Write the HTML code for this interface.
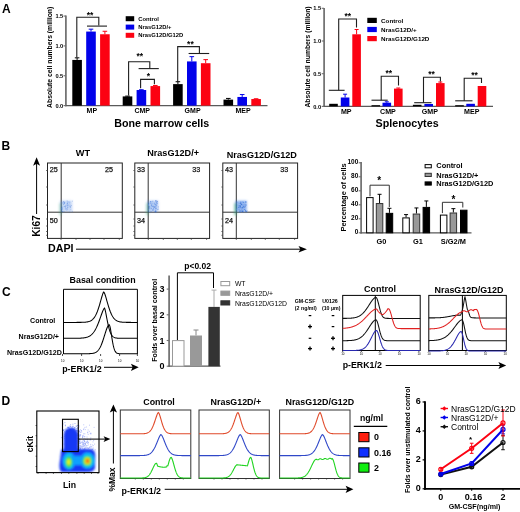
<!DOCTYPE html>
<html><head><meta charset="utf-8"><style>
html,body{margin:0;padding:0;background:#fff;}
svg{display:block;will-change:transform;filter:blur(0.35px);}
text{font-family:"Liberation Sans", sans-serif;}
</style></head><body>
<svg width="520" height="512" viewBox="0 0 520 512">
<rect width="520" height="512" fill="#fff"/>
<text x="2.0" y="12.6" font-size="12" font-weight="bold" text-anchor="start" fill="#000">A</text>
<text x="1.5" y="149.6" font-size="12" font-weight="bold" text-anchor="start" fill="#000">B</text>
<text x="2.0" y="295.7" font-size="12" font-weight="bold" text-anchor="start" fill="#000">C</text>
<text x="1.5" y="404.6" font-size="12" font-weight="bold" text-anchor="start" fill="#000">D</text>
<line x1="65.9" y1="15.5" x2="65.9" y2="106.19999999999999" stroke="#6e6e6e" stroke-width="1.7"/>
<line x1="65.10000000000001" y1="105.6" x2="267.5" y2="105.6" stroke="#5a5a5a" stroke-width="1.3"/>
<line x1="63.50000000000001" y1="105.6" x2="65.9" y2="105.6" stroke="#6e6e6e" stroke-width="1.1"/>
<text x="63.300000000000004" y="107.69999999999999" font-size="5.7" font-weight="bold" text-anchor="end" fill="#000">0.0</text>
<line x1="63.50000000000001" y1="75.75" x2="65.9" y2="75.75" stroke="#6e6e6e" stroke-width="1.1"/>
<text x="63.300000000000004" y="77.85" font-size="5.7" font-weight="bold" text-anchor="end" fill="#000">0.5</text>
<line x1="63.50000000000001" y1="45.89999999999999" x2="65.9" y2="45.89999999999999" stroke="#6e6e6e" stroke-width="1.1"/>
<text x="63.300000000000004" y="47.99999999999999" font-size="5.7" font-weight="bold" text-anchor="end" fill="#000">1.0</text>
<line x1="63.50000000000001" y1="16.049999999999983" x2="65.9" y2="16.049999999999983" stroke="#6e6e6e" stroke-width="1.1"/>
<text x="63.300000000000004" y="18.149999999999984" font-size="5.7" font-weight="bold" text-anchor="end" fill="#000">1.5</text>
<text x="52.2" y="57.3" font-size="6.8" font-weight="bold" text-anchor="middle" fill="#000" transform="rotate(-90 52.2 57.3)">Absolute cell numbers (million)</text>
<line x1="77.1" y1="57.83999999999999" x2="77.1" y2="59.92949999999999" stroke="#000" stroke-width="1"/>
<line x1="74.8" y1="57.83999999999999" x2="79.39999999999999" y2="57.83999999999999" stroke="#000" stroke-width="1"/>
<rect x="72.3" y="59.92949999999999" width="9.6" height="45.670500000000004" fill="#000" stroke="none" stroke-width="1"/>
<line x1="91.0" y1="29.183999999999987" x2="91.0" y2="31.57199999999999" stroke="#0202ea" stroke-width="1"/>
<line x1="88.7" y1="29.183999999999987" x2="93.3" y2="29.183999999999987" stroke="#0202ea" stroke-width="1"/>
<rect x="86.2" y="31.57199999999999" width="9.6" height="74.028" fill="#0202ea" stroke="none" stroke-width="1"/>
<line x1="104.89999999999999" y1="31.273499999999984" x2="104.89999999999999" y2="34.258499999999984" stroke="#fc0212" stroke-width="1"/>
<line x1="102.6" y1="31.273499999999984" x2="107.19999999999999" y2="31.273499999999984" stroke="#fc0212" stroke-width="1"/>
<rect x="100.1" y="34.258499999999984" width="9.6" height="71.34150000000001" fill="#fc0212" stroke="none" stroke-width="1"/>
<text x="91.8" y="113.2" font-size="7" font-weight="bold" text-anchor="middle" fill="#000">MP</text>
<line x1="127.49999999999999" y1="96.1077" x2="127.49999999999999" y2="96.4062" stroke="#000" stroke-width="1"/>
<line x1="125.19999999999999" y1="96.1077" x2="129.79999999999998" y2="96.1077" stroke="#000" stroke-width="1"/>
<rect x="122.69999999999999" y="96.4062" width="9.6" height="9.193799999999996" fill="#000" stroke="none" stroke-width="1"/>
<line x1="141.4" y1="89.71979999999999" x2="141.4" y2="90.0183" stroke="#0202ea" stroke-width="1"/>
<line x1="139.1" y1="89.71979999999999" x2="143.70000000000002" y2="89.71979999999999" stroke="#0202ea" stroke-width="1"/>
<rect x="136.6" y="90.0183" width="9.6" height="15.581699999999998" fill="#0202ea" stroke="none" stroke-width="1"/>
<line x1="155.3" y1="85.4811" x2="155.3" y2="86.07809999999999" stroke="#fc0212" stroke-width="1"/>
<line x1="153.0" y1="85.4811" x2="157.60000000000002" y2="85.4811" stroke="#fc0212" stroke-width="1"/>
<rect x="150.5" y="86.07809999999999" width="9.6" height="19.521900000000002" fill="#fc0212" stroke="none" stroke-width="1"/>
<text x="142.20000000000002" y="113.2" font-size="7" font-weight="bold" text-anchor="middle" fill="#000">CMP</text>
<line x1="177.9" y1="81.71999999999998" x2="177.9" y2="84.10799999999999" stroke="#000" stroke-width="1"/>
<line x1="175.6" y1="81.71999999999998" x2="180.20000000000002" y2="81.71999999999998" stroke="#000" stroke-width="1"/>
<rect x="173.1" y="84.10799999999999" width="9.6" height="21.492000000000004" fill="#000" stroke="none" stroke-width="1"/>
<line x1="191.8" y1="56.64599999999999" x2="191.8" y2="61.42199999999999" stroke="#0202ea" stroke-width="1"/>
<line x1="189.5" y1="56.64599999999999" x2="194.10000000000002" y2="56.64599999999999" stroke="#0202ea" stroke-width="1"/>
<rect x="187.0" y="61.42199999999999" width="9.6" height="44.178000000000004" fill="#0202ea" stroke="none" stroke-width="1"/>
<line x1="205.70000000000002" y1="59.63099999999999" x2="205.70000000000002" y2="63.212999999999994" stroke="#fc0212" stroke-width="1"/>
<line x1="203.4" y1="59.63099999999999" x2="208.00000000000003" y2="59.63099999999999" stroke="#fc0212" stroke-width="1"/>
<rect x="200.9" y="63.212999999999994" width="9.6" height="42.387" fill="#fc0212" stroke="none" stroke-width="1"/>
<text x="192.60000000000002" y="113.2" font-size="7" font-weight="bold" text-anchor="middle" fill="#000">GMP</text>
<line x1="228.3" y1="98.43599999999999" x2="228.3" y2="99.63" stroke="#000" stroke-width="1"/>
<line x1="226.0" y1="98.43599999999999" x2="230.60000000000002" y2="98.43599999999999" stroke="#000" stroke-width="1"/>
<rect x="223.5" y="99.63" width="9.6" height="5.969999999999999" fill="#000" stroke="none" stroke-width="1"/>
<line x1="242.20000000000002" y1="94.5555" x2="242.20000000000002" y2="96.9435" stroke="#0202ea" stroke-width="1"/>
<line x1="239.9" y1="94.5555" x2="244.50000000000003" y2="94.5555" stroke="#0202ea" stroke-width="1"/>
<rect x="237.4" y="96.9435" width="9.6" height="8.656499999999994" fill="#0202ea" stroke="none" stroke-width="1"/>
<line x1="256.1" y1="98.73449999999998" x2="256.1" y2="99.03299999999999" stroke="#fc0212" stroke-width="1"/>
<line x1="253.8" y1="98.73449999999998" x2="258.40000000000003" y2="98.73449999999998" stroke="#fc0212" stroke-width="1"/>
<rect x="251.3" y="99.03299999999999" width="9.6" height="6.567000000000007" fill="#fc0212" stroke="none" stroke-width="1"/>
<text x="243.00000000000003" y="113.2" font-size="7" font-weight="bold" text-anchor="middle" fill="#000">MEP</text>
<path d="M76.8,57.5 L76.8,17.3 L98.8,17.3 L98.8,25.5" stroke="#1e1e1e" stroke-width="1.1" fill="none"/>
<line x1="87" y1="26.1" x2="107" y2="26.1" stroke="#1e1e1e" stroke-width="1.1"/>
<text x="90.1" y="18.0" font-size="8.5" font-weight="bold" text-anchor="middle" fill="#000">**</text>
<path d="M128.6,95.5 L128.6,61.7 L149.8,61.7 L149.8,68.4" stroke="#1e1e1e" stroke-width="1.1" fill="none"/>
<line x1="138.6" y1="68.6" x2="158.8" y2="68.6" stroke="#1e1e1e" stroke-width="1.1"/>
<text x="139.8" y="58.8" font-size="8.5" font-weight="bold" text-anchor="middle" fill="#000">**</text>
<path d="M140.6,88.2 L140.6,79.4 L154.4,79.4 L154.4,84.2" stroke="#1e1e1e" stroke-width="1.1" fill="none"/>
<text x="148.3" y="79.4" font-size="8.5" font-weight="bold" text-anchor="middle" fill="#000">*</text>
<path d="M177.7,82 L177.7,46.6 L199.4,46.6 L199.4,53.2" stroke="#1e1e1e" stroke-width="1.1" fill="none"/>
<line x1="188.6" y1="53.5" x2="209.2" y2="53.5" stroke="#1e1e1e" stroke-width="1.1"/>
<text x="190.4" y="47.0" font-size="8.5" font-weight="bold" text-anchor="middle" fill="#000">**</text>
<rect x="125.7" y="16.2" width="8.5" height="5" fill="#000" stroke="none" stroke-width="1"/>
<text x="138.2" y="20.5" font-size="5.85" font-weight="bold" text-anchor="start" fill="#000">Control</text>
<rect x="125.7" y="24.6" width="8.5" height="5" fill="#0202ea" stroke="none" stroke-width="1"/>
<text x="138.2" y="28.900000000000002" font-size="5.85" font-weight="bold" text-anchor="start" fill="#000">NrasG12D/+</text>
<rect x="125.7" y="32.8" width="8.5" height="5" fill="#fc0212" stroke="none" stroke-width="1"/>
<text x="138.2" y="37.099999999999994" font-size="5.85" font-weight="bold" text-anchor="start" fill="#000">NrasG12D/G12D</text>
<text x="161.7" y="126.5" font-size="10.7" font-weight="bold" text-anchor="middle" fill="#000">Bone marrow cells</text>
<line x1="324.1" y1="8" x2="324.1" y2="107.0" stroke="#6e6e6e" stroke-width="1.7"/>
<line x1="323.3" y1="106.4" x2="493" y2="106.4" stroke="#5a5a5a" stroke-width="1.3"/>
<line x1="321.70000000000005" y1="106.4" x2="324.1" y2="106.4" stroke="#6e6e6e" stroke-width="1.1"/>
<text x="321.1" y="108.5" font-size="5.7" font-weight="bold" text-anchor="end" fill="#000">0.0</text>
<line x1="321.70000000000005" y1="73.7" x2="324.1" y2="73.7" stroke="#6e6e6e" stroke-width="1.1"/>
<text x="321.1" y="75.8" font-size="5.7" font-weight="bold" text-anchor="end" fill="#000">0.5</text>
<line x1="321.70000000000005" y1="41.0" x2="324.1" y2="41.0" stroke="#6e6e6e" stroke-width="1.1"/>
<text x="321.1" y="43.1" font-size="5.7" font-weight="bold" text-anchor="end" fill="#000">1.0</text>
<line x1="321.70000000000005" y1="8.299999999999997" x2="324.1" y2="8.299999999999997" stroke="#6e6e6e" stroke-width="1.1"/>
<text x="321.1" y="10.399999999999997" font-size="5.7" font-weight="bold" text-anchor="end" fill="#000">1.5</text>
<text x="309.6" y="57" font-size="6.8" font-weight="bold" text-anchor="middle" fill="#000" transform="rotate(-90 309.6 57)">Absolute cell numbers (million)</text>
<rect x="329.2" y="103.8" width="8.6" height="2.6000000000000085" fill="#000" stroke="none" stroke-width="1"/>
<line x1="345.1" y1="94.2" x2="345.1" y2="97.5" stroke="#0202ea" stroke-width="1"/>
<line x1="343.1" y1="94.2" x2="347.1" y2="94.2" stroke="#0202ea" stroke-width="1"/>
<rect x="340.8" y="97.5" width="8.6" height="8.900000000000006" fill="#0202ea" stroke="none" stroke-width="1"/>
<line x1="356.6" y1="29.5" x2="356.6" y2="34.3" stroke="#fc0212" stroke-width="1"/>
<line x1="354.6" y1="29.5" x2="358.6" y2="29.5" stroke="#fc0212" stroke-width="1"/>
<rect x="352.3" y="34.3" width="8.6" height="72.10000000000001" fill="#fc0212" stroke="none" stroke-width="1"/>
<text x="346.20000000000005" y="114.4" font-size="7.1" font-weight="bold" text-anchor="middle" fill="#000">MP</text>
<rect x="371.5" y="105.2" width="8.6" height="1.2000000000000028" fill="#000" stroke="none" stroke-width="1"/>
<line x1="386.8" y1="101.8" x2="386.8" y2="102.7" stroke="#0202ea" stroke-width="1"/>
<line x1="384.8" y1="101.8" x2="388.8" y2="101.8" stroke="#0202ea" stroke-width="1"/>
<rect x="382.5" y="102.7" width="8.6" height="3.700000000000003" fill="#0202ea" stroke="none" stroke-width="1"/>
<line x1="398.3" y1="88" x2="398.3" y2="88.6" stroke="#fc0212" stroke-width="1"/>
<line x1="396.3" y1="88" x2="400.3" y2="88" stroke="#fc0212" stroke-width="1"/>
<rect x="394" y="88.6" width="8.6" height="17.80000000000001" fill="#fc0212" stroke="none" stroke-width="1"/>
<text x="387.90000000000003" y="114.4" font-size="7.1" font-weight="bold" text-anchor="middle" fill="#000">CMP</text>
<rect x="412.9" y="104.8" width="8.6" height="1.6000000000000085" fill="#000" stroke="none" stroke-width="1"/>
<rect x="424.4" y="104.0" width="8.6" height="2.4000000000000057" fill="#0202ea" stroke="none" stroke-width="1"/>
<line x1="440.3" y1="82" x2="440.3" y2="83.1" stroke="#fc0212" stroke-width="1"/>
<line x1="438.3" y1="82" x2="442.3" y2="82" stroke="#fc0212" stroke-width="1"/>
<rect x="436" y="83.1" width="8.6" height="23.30000000000001" fill="#fc0212" stroke="none" stroke-width="1"/>
<text x="429.8" y="114.4" font-size="7.1" font-weight="bold" text-anchor="middle" fill="#000">GMP</text>
<rect x="455.2" y="105.2" width="8.6" height="1.2000000000000028" fill="#000" stroke="none" stroke-width="1"/>
<rect x="466.3" y="103.8" width="8.6" height="2.6000000000000085" fill="#0202ea" stroke="none" stroke-width="1"/>
<rect x="477.7" y="86" width="8.6" height="20.400000000000006" fill="#fc0212" stroke="none" stroke-width="1"/>
<text x="471.70000000000005" y="114.4" font-size="7.1" font-weight="bold" text-anchor="middle" fill="#000">MEP</text>
<path d="M338.7,90.3 L338.7,19 L356.5,19 L356.5,27.4" stroke="#1e1e1e" stroke-width="1.1" fill="none"/>
<line x1="328.8" y1="90.3" x2="344.6" y2="90.3" stroke="#1e1e1e" stroke-width="1.1"/>
<text x="347.7" y="18.6" font-size="8.5" font-weight="bold" text-anchor="middle" fill="#000">**</text>
<path d="M381.2,100.2 L381.2,76.3 L398.5,76.3 L398.5,85.5" stroke="#1e1e1e" stroke-width="1.1" fill="none"/>
<line x1="371.5" y1="100.2" x2="387.7" y2="100.2" stroke="#1e1e1e" stroke-width="1.1"/>
<text x="388.7" y="75.9" font-size="8.5" font-weight="bold" text-anchor="middle" fill="#000">**</text>
<path d="M423.5,102.7 L423.5,77.2 L440.4,77.2 L440.4,81.5" stroke="#1e1e1e" stroke-width="1.1" fill="none"/>
<line x1="414.2" y1="102.7" x2="431.5" y2="102.7" stroke="#1e1e1e" stroke-width="1.1"/>
<text x="431.6" y="76.5" font-size="8.5" font-weight="bold" text-anchor="middle" fill="#000">**</text>
<path d="M464.2,100.8 L464.2,78.3 L481.5,78.3 L481.5,83" stroke="#1e1e1e" stroke-width="1.1" fill="none"/>
<line x1="455.2" y1="100.8" x2="472.5" y2="100.8" stroke="#1e1e1e" stroke-width="1.1"/>
<text x="474.6" y="78.4" font-size="8.5" font-weight="bold" text-anchor="middle" fill="#000">**</text>
<rect x="367.3" y="17.8" width="9.5" height="5.2" fill="#000" stroke="none" stroke-width="1"/>
<text x="381.1" y="22.9" font-size="6.25" font-weight="bold" text-anchor="start" fill="#000">Control</text>
<rect x="367.3" y="26.9" width="9.5" height="5.2" fill="#0202ea" stroke="none" stroke-width="1"/>
<text x="381.1" y="32.0" font-size="6.25" font-weight="bold" text-anchor="start" fill="#000">NrasG12D/+</text>
<rect x="367.3" y="36" width="9.5" height="5.2" fill="#fc0212" stroke="none" stroke-width="1"/>
<text x="381.1" y="41.1" font-size="6.25" font-weight="bold" text-anchor="start" fill="#000">NrasG12D/G12D</text>
<text x="407.1" y="126.5" font-size="10.7" font-weight="bold" text-anchor="middle" fill="#000">Splenocytes</text>
<defs><filter id="blB" x="-50%" y="-50%" width="200%" height="200%"><feGaussianBlur stdDeviation="1"/></filter></defs>
<rect x="47.5" y="163" width="74.8" height="75.4" fill="none" stroke="#222" stroke-width="1"/>
<line x1="61.2" y1="163" x2="61.2" y2="238.4" stroke="#333" stroke-width="1"/>
<line x1="47.5" y1="212.2" x2="122.3" y2="212.2" stroke="#333" stroke-width="1"/>
<text x="83.0" y="155.6" font-size="9.2" font-weight="bold" text-anchor="middle" fill="#000">WT</text>
<text x="49.8" y="171.9" font-size="7.2" text-anchor="start" fill="#111" stroke="#111" stroke-width="0.25">25</text>
<text x="113.0" y="171.9" font-size="7.2" text-anchor="end" fill="#111" stroke="#111" stroke-width="0.25">25</text>
<text x="49.8" y="223.3" font-size="7.2" text-anchor="start" fill="#111" stroke="#111" stroke-width="0.25">50</text>
<line x1="46.1" y1="170.5" x2="47.5" y2="170.5" stroke="#444" stroke-width="0.8"/>
<line x1="46.1" y1="187" x2="47.5" y2="187" stroke="#444" stroke-width="0.8"/>
<line x1="46.1" y1="205" x2="47.5" y2="205" stroke="#444" stroke-width="0.8"/>
<line x1="46.1" y1="219" x2="47.5" y2="219" stroke="#444" stroke-width="0.8"/>
<line x1="46.1" y1="226" x2="47.5" y2="226" stroke="#444" stroke-width="0.8"/>
<line x1="46.1" y1="231.5" x2="47.5" y2="231.5" stroke="#444" stroke-width="0.8"/>
<line x1="46.1" y1="235.3" x2="47.5" y2="235.3" stroke="#444" stroke-width="0.8"/>
<line x1="61.0" y1="238.4" x2="61.0" y2="239.9" stroke="#444" stroke-width="0.8"/>
<line x1="76.0" y1="238.4" x2="76.0" y2="239.9" stroke="#444" stroke-width="0.8"/>
<line x1="90.0" y1="238.4" x2="90.0" y2="239.9" stroke="#444" stroke-width="0.8"/>
<line x1="104.0" y1="238.4" x2="104.0" y2="239.9" stroke="#444" stroke-width="0.8"/>
<line x1="119.3" y1="238.4" x2="119.3" y2="239.9" stroke="#444" stroke-width="0.8"/>
<g filter="url(#blB)"><rect x="60.2" y="200.7" width="12" height="11" fill="#4a84e4" opacity="0.315"/><rect x="59.0" y="203.2" width="2.6" height="12" fill="#30a070" opacity="0.27"/></g>
<rect x="64.9" y="206.8" width="0.9" height="0.9" fill="#2a64d0" stroke="none" stroke-width="1" opacity="0.36"/>
<rect x="64.8" y="205.8" width="0.9" height="0.9" fill="#2a64d0" stroke="none" stroke-width="1" opacity="0.36"/>
<rect x="61.4" y="206.9" width="0.9" height="0.9" fill="#2a64d0" stroke="none" stroke-width="1" opacity="0.36"/>
<rect x="62.1" y="208.7" width="0.9" height="0.9" fill="#6a9cf0" stroke="none" stroke-width="1" opacity="0.36"/>
<rect x="66.3" y="205.4" width="0.9" height="0.9" fill="#6a9cf0" stroke="none" stroke-width="1" opacity="0.36"/>
<rect x="70.9" y="205.2" width="0.9" height="0.9" fill="#2a64d0" stroke="none" stroke-width="1" opacity="0.36"/>
<rect x="66.8" y="207.6" width="0.9" height="0.9" fill="#6a9cf0" stroke="none" stroke-width="1" opacity="0.36"/>
<rect x="61.4" y="207.4" width="0.9" height="0.9" fill="#2a64d0" stroke="none" stroke-width="1" opacity="0.36"/>
<rect x="67.6" y="205.3" width="0.9" height="0.9" fill="#6a9cf0" stroke="none" stroke-width="1" opacity="0.36"/>
<rect x="63.6" y="202.0" width="0.9" height="0.9" fill="#6a9cf0" stroke="none" stroke-width="1" opacity="0.36"/>
<rect x="61.4" y="207.9" width="0.9" height="0.9" fill="#2a64d0" stroke="none" stroke-width="1" opacity="0.36"/>
<rect x="65.2" y="205.5" width="0.9" height="0.9" fill="#2a64d0" stroke="none" stroke-width="1" opacity="0.36"/>
<rect x="68.1" y="201.6" width="0.9" height="0.9" fill="#6a9cf0" stroke="none" stroke-width="1" opacity="0.36"/>
<rect x="70.3" y="209.2" width="0.9" height="0.9" fill="#6a9cf0" stroke="none" stroke-width="1" opacity="0.36"/>
<rect x="69.5" y="204.7" width="0.9" height="0.9" fill="#2a64d0" stroke="none" stroke-width="1" opacity="0.36"/>
<rect x="64.1" y="202.8" width="0.9" height="0.9" fill="#2a64d0" stroke="none" stroke-width="1" opacity="0.36"/>
<rect x="67.1" y="208.7" width="0.9" height="0.9" fill="#2a64d0" stroke="none" stroke-width="1" opacity="0.36"/>
<rect x="61.4" y="208.1" width="0.9" height="0.9" fill="#6a9cf0" stroke="none" stroke-width="1" opacity="0.36"/>
<rect x="63.9" y="203.3" width="0.9" height="0.9" fill="#6a9cf0" stroke="none" stroke-width="1" opacity="0.36"/>
<rect x="67.7" y="204.5" width="0.9" height="0.9" fill="#2a64d0" stroke="none" stroke-width="1" opacity="0.36"/>
<rect x="66.3" y="200.6" width="0.9" height="0.9" fill="#6a9cf0" stroke="none" stroke-width="1" opacity="0.36"/>
<rect x="67.1" y="206.6" width="0.9" height="0.9" fill="#6a9cf0" stroke="none" stroke-width="1" opacity="0.36"/>
<rect x="67.0" y="202.5" width="0.9" height="0.9" fill="#2a64d0" stroke="none" stroke-width="1" opacity="0.36"/>
<rect x="63.9" y="202.4" width="0.9" height="0.9" fill="#2a64d0" stroke="none" stroke-width="1" opacity="0.36"/>
<rect x="69.6" y="206.7" width="0.9" height="0.9" fill="#6a9cf0" stroke="none" stroke-width="1" opacity="0.36"/>
<rect x="61.4" y="208.7" width="0.9" height="0.9" fill="#2a64d0" stroke="none" stroke-width="1" opacity="0.36"/>
<rect x="66.7" y="203.9" width="0.9" height="0.9" fill="#2a64d0" stroke="none" stroke-width="1" opacity="0.36"/>
<rect x="68.8" y="202.5" width="0.9" height="0.9" fill="#2a64d0" stroke="none" stroke-width="1" opacity="0.36"/>
<rect x="61.2" y="208.9" width="0.9" height="0.9" fill="#2a64d0" stroke="none" stroke-width="1" opacity="0.36"/>
<rect x="71.9" y="200.7" width="0.9" height="0.9" fill="#2a64d0" stroke="none" stroke-width="1" opacity="0.36"/>
<rect x="62.9" y="201.1" width="0.9" height="0.9" fill="#2a64d0" stroke="none" stroke-width="1" opacity="0.36"/>
<rect x="62.5" y="202.7" width="0.9" height="0.9" fill="#2a64d0" stroke="none" stroke-width="1" opacity="0.36"/>
<rect x="65.3" y="208.6" width="0.9" height="0.9" fill="#2a64d0" stroke="none" stroke-width="1" opacity="0.36"/>
<rect x="62.3" y="210.9" width="0.9" height="0.9" fill="#2a64d0" stroke="none" stroke-width="1" opacity="0.36"/>
<rect x="61.5" y="209.6" width="0.9" height="0.9" fill="#2a64d0" stroke="none" stroke-width="1" opacity="0.36"/>
<rect x="66.4" y="202.7" width="0.9" height="0.9" fill="#6a9cf0" stroke="none" stroke-width="1" opacity="0.36"/>
<rect x="66.8" y="205.2" width="0.9" height="0.9" fill="#2a64d0" stroke="none" stroke-width="1" opacity="0.36"/>
<rect x="61.8" y="202.1" width="0.9" height="0.9" fill="#6a9cf0" stroke="none" stroke-width="1" opacity="0.36"/>
<rect x="64.7" y="201.7" width="0.9" height="0.9" fill="#6a9cf0" stroke="none" stroke-width="1" opacity="0.36"/>
<rect x="63.6" y="211.0" width="0.9" height="0.9" fill="#2a64d0" stroke="none" stroke-width="1" opacity="0.36"/>
<rect x="62.0" y="211.1" width="0.9" height="0.9" fill="#2a64d0" stroke="none" stroke-width="1" opacity="0.36"/>
<rect x="63.6" y="201.4" width="0.9" height="0.9" fill="#2a64d0" stroke="none" stroke-width="1" opacity="0.36"/>
<rect x="67.0" y="202.9" width="0.9" height="0.9" fill="#2a64d0" stroke="none" stroke-width="1" opacity="0.36"/>
<rect x="71.9" y="210.8" width="0.9" height="0.9" fill="#2a64d0" stroke="none" stroke-width="1" opacity="0.36"/>
<rect x="67.1" y="200.7" width="0.9" height="0.9" fill="#2a64d0" stroke="none" stroke-width="1" opacity="0.36"/>
<rect x="64.9" y="208.2" width="0.9" height="0.9" fill="#6a9cf0" stroke="none" stroke-width="1" opacity="0.36"/>
<rect x="66.4" y="210.1" width="0.9" height="0.9" fill="#6a9cf0" stroke="none" stroke-width="1" opacity="0.36"/>
<rect x="62.3" y="206.4" width="0.9" height="0.9" fill="#6a9cf0" stroke="none" stroke-width="1" opacity="0.36"/>
<rect x="70.1" y="206.7" width="0.9" height="0.9" fill="#2a64d0" stroke="none" stroke-width="1" opacity="0.36"/>
<rect x="69.4" y="210.9" width="0.9" height="0.9" fill="#6a9cf0" stroke="none" stroke-width="1" opacity="0.36"/>
<rect x="69.6" y="206.1" width="0.9" height="0.9" fill="#2a64d0" stroke="none" stroke-width="1" opacity="0.36"/>
<rect x="63.7" y="202.5" width="0.9" height="0.9" fill="#2a64d0" stroke="none" stroke-width="1" opacity="0.36"/>
<rect x="61.2" y="210.6" width="0.9" height="0.9" fill="#2a64d0" stroke="none" stroke-width="1" opacity="0.36"/>
<rect x="66.1" y="208.5" width="0.9" height="0.9" fill="#2a64d0" stroke="none" stroke-width="1" opacity="0.36"/>
<rect x="68.6" y="201.1" width="0.9" height="0.9" fill="#6a9cf0" stroke="none" stroke-width="1" opacity="0.36"/>
<rect x="63.1" y="203.9" width="0.9" height="0.9" fill="#2a64d0" stroke="none" stroke-width="1" opacity="0.36"/>
<rect x="63.9" y="206.1" width="0.9" height="0.9" fill="#2a64d0" stroke="none" stroke-width="1" opacity="0.36"/>
<rect x="69.6" y="201.6" width="0.9" height="0.9" fill="#6a9cf0" stroke="none" stroke-width="1" opacity="0.36"/>
<rect x="67.6" y="205.5" width="0.9" height="0.9" fill="#6a9cf0" stroke="none" stroke-width="1" opacity="0.36"/>
<rect x="67.4" y="207.0" width="0.9" height="0.9" fill="#2a64d0" stroke="none" stroke-width="1" opacity="0.36"/>
<rect x="134.8" y="163" width="74.8" height="75.4" fill="none" stroke="#222" stroke-width="1"/>
<line x1="148.2" y1="163" x2="148.2" y2="238.4" stroke="#333" stroke-width="1"/>
<line x1="134.8" y1="212.2" x2="209.60000000000002" y2="212.2" stroke="#333" stroke-width="1"/>
<text x="173.1" y="155.7" font-size="9.1" font-weight="bold" text-anchor="middle" fill="#000">NrasG12D/+</text>
<text x="137.10000000000002" y="171.9" font-size="7.2" text-anchor="start" fill="#111" stroke="#111" stroke-width="0.25">33</text>
<text x="200.3" y="171.9" font-size="7.2" text-anchor="end" fill="#111" stroke="#111" stroke-width="0.25">33</text>
<text x="137.10000000000002" y="223.3" font-size="7.2" text-anchor="start" fill="#111" stroke="#111" stroke-width="0.25">34</text>
<line x1="133.4" y1="170.5" x2="134.8" y2="170.5" stroke="#444" stroke-width="0.8"/>
<line x1="133.4" y1="187" x2="134.8" y2="187" stroke="#444" stroke-width="0.8"/>
<line x1="133.4" y1="205" x2="134.8" y2="205" stroke="#444" stroke-width="0.8"/>
<line x1="133.4" y1="219" x2="134.8" y2="219" stroke="#444" stroke-width="0.8"/>
<line x1="133.4" y1="226" x2="134.8" y2="226" stroke="#444" stroke-width="0.8"/>
<line x1="133.4" y1="231.5" x2="134.8" y2="231.5" stroke="#444" stroke-width="0.8"/>
<line x1="133.4" y1="235.3" x2="134.8" y2="235.3" stroke="#444" stroke-width="0.8"/>
<line x1="148.3" y1="238.4" x2="148.3" y2="239.9" stroke="#444" stroke-width="0.8"/>
<line x1="163.3" y1="238.4" x2="163.3" y2="239.9" stroke="#444" stroke-width="0.8"/>
<line x1="177.3" y1="238.4" x2="177.3" y2="239.9" stroke="#444" stroke-width="0.8"/>
<line x1="191.3" y1="238.4" x2="191.3" y2="239.9" stroke="#444" stroke-width="0.8"/>
<line x1="206.60000000000002" y1="238.4" x2="206.60000000000002" y2="239.9" stroke="#444" stroke-width="0.8"/>
<g filter="url(#blB)"><rect x="147.2" y="200.7" width="11" height="11" fill="#4a84e4" opacity="0.42"/><rect x="146.0" y="203.2" width="2.6" height="12" fill="#30a070" opacity="0.36"/></g>
<rect x="152.8" y="209.4" width="0.9" height="0.9" fill="#6a9cf0" stroke="none" stroke-width="1" opacity="0.48"/>
<rect x="157.1" y="203.1" width="0.9" height="0.9" fill="#6a9cf0" stroke="none" stroke-width="1" opacity="0.48"/>
<rect x="148.3" y="202.9" width="0.9" height="0.9" fill="#2a64d0" stroke="none" stroke-width="1" opacity="0.48"/>
<rect x="151.9" y="206.1" width="0.9" height="0.9" fill="#2a64d0" stroke="none" stroke-width="1" opacity="0.48"/>
<rect x="153.5" y="206.5" width="0.9" height="0.9" fill="#2a64d0" stroke="none" stroke-width="1" opacity="0.48"/>
<rect x="150.9" y="205.8" width="0.9" height="0.9" fill="#6a9cf0" stroke="none" stroke-width="1" opacity="0.48"/>
<rect x="155.3" y="208.5" width="0.9" height="0.9" fill="#6a9cf0" stroke="none" stroke-width="1" opacity="0.48"/>
<rect x="155.5" y="203.8" width="0.9" height="0.9" fill="#2a64d0" stroke="none" stroke-width="1" opacity="0.48"/>
<rect x="156.7" y="201.1" width="0.9" height="0.9" fill="#2a64d0" stroke="none" stroke-width="1" opacity="0.48"/>
<rect x="155.1" y="201.1" width="0.9" height="0.9" fill="#6a9cf0" stroke="none" stroke-width="1" opacity="0.48"/>
<rect x="154.6" y="204.1" width="0.9" height="0.9" fill="#2a64d0" stroke="none" stroke-width="1" opacity="0.48"/>
<rect x="156.4" y="203.4" width="0.9" height="0.9" fill="#2a64d0" stroke="none" stroke-width="1" opacity="0.48"/>
<rect x="156.6" y="202.3" width="0.9" height="0.9" fill="#6a9cf0" stroke="none" stroke-width="1" opacity="0.48"/>
<rect x="155.3" y="205.9" width="0.9" height="0.9" fill="#2a64d0" stroke="none" stroke-width="1" opacity="0.48"/>
<rect x="148.5" y="207.2" width="0.9" height="0.9" fill="#2a64d0" stroke="none" stroke-width="1" opacity="0.48"/>
<rect x="149.4" y="210.6" width="0.9" height="0.9" fill="#6a9cf0" stroke="none" stroke-width="1" opacity="0.48"/>
<rect x="149.0" y="207.6" width="0.9" height="0.9" fill="#2a64d0" stroke="none" stroke-width="1" opacity="0.48"/>
<rect x="151.2" y="204.5" width="0.9" height="0.9" fill="#2a64d0" stroke="none" stroke-width="1" opacity="0.48"/>
<rect x="154.9" y="203.9" width="0.9" height="0.9" fill="#6a9cf0" stroke="none" stroke-width="1" opacity="0.48"/>
<rect x="151.9" y="209.6" width="0.9" height="0.9" fill="#2a64d0" stroke="none" stroke-width="1" opacity="0.48"/>
<rect x="155.9" y="210.7" width="0.9" height="0.9" fill="#6a9cf0" stroke="none" stroke-width="1" opacity="0.48"/>
<rect x="155.8" y="202.2" width="0.9" height="0.9" fill="#2a64d0" stroke="none" stroke-width="1" opacity="0.48"/>
<rect x="155.1" y="210.5" width="0.9" height="0.9" fill="#2a64d0" stroke="none" stroke-width="1" opacity="0.48"/>
<rect x="150.0" y="201.0" width="0.9" height="0.9" fill="#6a9cf0" stroke="none" stroke-width="1" opacity="0.48"/>
<rect x="153.2" y="205.8" width="0.9" height="0.9" fill="#2a64d0" stroke="none" stroke-width="1" opacity="0.48"/>
<rect x="155.5" y="207.6" width="0.9" height="0.9" fill="#2a64d0" stroke="none" stroke-width="1" opacity="0.48"/>
<rect x="157.4" y="209.1" width="0.9" height="0.9" fill="#2a64d0" stroke="none" stroke-width="1" opacity="0.48"/>
<rect x="156.6" y="200.8" width="0.9" height="0.9" fill="#2a64d0" stroke="none" stroke-width="1" opacity="0.48"/>
<rect x="154.9" y="210.7" width="0.9" height="0.9" fill="#2a64d0" stroke="none" stroke-width="1" opacity="0.48"/>
<rect x="148.1" y="211.1" width="0.9" height="0.9" fill="#2a64d0" stroke="none" stroke-width="1" opacity="0.48"/>
<rect x="148.0" y="204.1" width="0.9" height="0.9" fill="#2a64d0" stroke="none" stroke-width="1" opacity="0.48"/>
<rect x="150.4" y="202.9" width="0.9" height="0.9" fill="#2a64d0" stroke="none" stroke-width="1" opacity="0.48"/>
<rect x="155.4" y="211.4" width="0.9" height="0.9" fill="#2a64d0" stroke="none" stroke-width="1" opacity="0.48"/>
<rect x="156.3" y="205.3" width="0.9" height="0.9" fill="#6a9cf0" stroke="none" stroke-width="1" opacity="0.48"/>
<rect x="148.5" y="208.8" width="0.9" height="0.9" fill="#6a9cf0" stroke="none" stroke-width="1" opacity="0.48"/>
<rect x="153.0" y="207.8" width="0.9" height="0.9" fill="#2a64d0" stroke="none" stroke-width="1" opacity="0.48"/>
<rect x="151.8" y="202.8" width="0.9" height="0.9" fill="#6a9cf0" stroke="none" stroke-width="1" opacity="0.48"/>
<rect x="155.5" y="208.2" width="0.9" height="0.9" fill="#2a64d0" stroke="none" stroke-width="1" opacity="0.48"/>
<rect x="150.5" y="201.2" width="0.9" height="0.9" fill="#2a64d0" stroke="none" stroke-width="1" opacity="0.48"/>
<rect x="150.2" y="201.6" width="0.9" height="0.9" fill="#2a64d0" stroke="none" stroke-width="1" opacity="0.48"/>
<rect x="150.8" y="208.1" width="0.9" height="0.9" fill="#2a64d0" stroke="none" stroke-width="1" opacity="0.48"/>
<rect x="155.7" y="200.2" width="0.9" height="0.9" fill="#2a64d0" stroke="none" stroke-width="1" opacity="0.48"/>
<rect x="149.0" y="205.9" width="0.9" height="0.9" fill="#2a64d0" stroke="none" stroke-width="1" opacity="0.48"/>
<rect x="155.4" y="211.3" width="0.9" height="0.9" fill="#2a64d0" stroke="none" stroke-width="1" opacity="0.48"/>
<rect x="156.6" y="201.5" width="0.9" height="0.9" fill="#2a64d0" stroke="none" stroke-width="1" opacity="0.48"/>
<rect x="150.6" y="211.2" width="0.9" height="0.9" fill="#2a64d0" stroke="none" stroke-width="1" opacity="0.48"/>
<rect x="151.3" y="204.8" width="0.9" height="0.9" fill="#2a64d0" stroke="none" stroke-width="1" opacity="0.48"/>
<rect x="155.1" y="200.3" width="0.9" height="0.9" fill="#2a64d0" stroke="none" stroke-width="1" opacity="0.48"/>
<rect x="148.0" y="204.5" width="0.9" height="0.9" fill="#6a9cf0" stroke="none" stroke-width="1" opacity="0.48"/>
<rect x="157.9" y="208.5" width="0.9" height="0.9" fill="#6a9cf0" stroke="none" stroke-width="1" opacity="0.48"/>
<rect x="155.6" y="205.0" width="0.9" height="0.9" fill="#2a64d0" stroke="none" stroke-width="1" opacity="0.48"/>
<rect x="152.8" y="209.5" width="0.9" height="0.9" fill="#2a64d0" stroke="none" stroke-width="1" opacity="0.48"/>
<rect x="154.4" y="211.3" width="0.9" height="0.9" fill="#2a64d0" stroke="none" stroke-width="1" opacity="0.48"/>
<rect x="152.3" y="200.8" width="0.9" height="0.9" fill="#2a64d0" stroke="none" stroke-width="1" opacity="0.48"/>
<rect x="153.9" y="202.8" width="0.9" height="0.9" fill="#2a64d0" stroke="none" stroke-width="1" opacity="0.48"/>
<rect x="154.4" y="207.1" width="0.9" height="0.9" fill="#2a64d0" stroke="none" stroke-width="1" opacity="0.48"/>
<rect x="150.5" y="207.4" width="0.9" height="0.9" fill="#6a9cf0" stroke="none" stroke-width="1" opacity="0.48"/>
<rect x="157.9" y="206.5" width="0.9" height="0.9" fill="#2a64d0" stroke="none" stroke-width="1" opacity="0.48"/>
<rect x="148.1" y="204.6" width="0.9" height="0.9" fill="#6a9cf0" stroke="none" stroke-width="1" opacity="0.48"/>
<rect x="153.9" y="206.4" width="0.9" height="0.9" fill="#2a64d0" stroke="none" stroke-width="1" opacity="0.48"/>
<rect x="222.8" y="163" width="74.8" height="75.4" fill="none" stroke="#222" stroke-width="1"/>
<line x1="236.3" y1="163" x2="236.3" y2="238.4" stroke="#333" stroke-width="1"/>
<line x1="222.8" y1="212.2" x2="297.6" y2="212.2" stroke="#333" stroke-width="1"/>
<text x="261.8" y="157.9" font-size="9.1" font-weight="bold" text-anchor="middle" fill="#000">NrasG12D/G12D</text>
<text x="225.10000000000002" y="171.9" font-size="7.2" text-anchor="start" fill="#111" stroke="#111" stroke-width="0.25">43</text>
<text x="288.3" y="171.9" font-size="7.2" text-anchor="end" fill="#111" stroke="#111" stroke-width="0.25">33</text>
<text x="225.10000000000002" y="223.3" font-size="7.2" text-anchor="start" fill="#111" stroke="#111" stroke-width="0.25">24</text>
<line x1="221.4" y1="170.5" x2="222.8" y2="170.5" stroke="#444" stroke-width="0.8"/>
<line x1="221.4" y1="187" x2="222.8" y2="187" stroke="#444" stroke-width="0.8"/>
<line x1="221.4" y1="205" x2="222.8" y2="205" stroke="#444" stroke-width="0.8"/>
<line x1="221.4" y1="219" x2="222.8" y2="219" stroke="#444" stroke-width="0.8"/>
<line x1="221.4" y1="226" x2="222.8" y2="226" stroke="#444" stroke-width="0.8"/>
<line x1="221.4" y1="231.5" x2="222.8" y2="231.5" stroke="#444" stroke-width="0.8"/>
<line x1="221.4" y1="235.3" x2="222.8" y2="235.3" stroke="#444" stroke-width="0.8"/>
<line x1="236.3" y1="238.4" x2="236.3" y2="239.9" stroke="#444" stroke-width="0.8"/>
<line x1="251.3" y1="238.4" x2="251.3" y2="239.9" stroke="#444" stroke-width="0.8"/>
<line x1="265.3" y1="238.4" x2="265.3" y2="239.9" stroke="#444" stroke-width="0.8"/>
<line x1="279.3" y1="238.4" x2="279.3" y2="239.9" stroke="#444" stroke-width="0.8"/>
<line x1="294.6" y1="238.4" x2="294.6" y2="239.9" stroke="#444" stroke-width="0.8"/>
<g filter="url(#blB)"><rect x="235.3" y="200.7" width="11.5" height="11" fill="#4a84e4" opacity="0.595"/><rect x="234.10000000000002" y="203.2" width="2.6" height="12" fill="#30a070" opacity="0.51"/></g>
<rect x="244.3" y="209.0" width="0.9" height="0.9" fill="#2a64d0" stroke="none" stroke-width="1" opacity="0.68"/>
<rect x="236.4" y="209.1" width="0.9" height="0.9" fill="#6a9cf0" stroke="none" stroke-width="1" opacity="0.68"/>
<rect x="240.7" y="210.8" width="0.9" height="0.9" fill="#2a64d0" stroke="none" stroke-width="1" opacity="0.68"/>
<rect x="245.9" y="210.9" width="0.9" height="0.9" fill="#2a64d0" stroke="none" stroke-width="1" opacity="0.68"/>
<rect x="241.5" y="207.5" width="0.9" height="0.9" fill="#2a64d0" stroke="none" stroke-width="1" opacity="0.68"/>
<rect x="239.6" y="206.7" width="0.9" height="0.9" fill="#2a64d0" stroke="none" stroke-width="1" opacity="0.68"/>
<rect x="245.5" y="201.3" width="0.9" height="0.9" fill="#2a64d0" stroke="none" stroke-width="1" opacity="0.68"/>
<rect x="239.0" y="211.4" width="0.9" height="0.9" fill="#2a64d0" stroke="none" stroke-width="1" opacity="0.68"/>
<rect x="243.0" y="205.9" width="0.9" height="0.9" fill="#2a64d0" stroke="none" stroke-width="1" opacity="0.68"/>
<rect x="239.5" y="209.7" width="0.9" height="0.9" fill="#6a9cf0" stroke="none" stroke-width="1" opacity="0.68"/>
<rect x="244.6" y="204.5" width="0.9" height="0.9" fill="#2a64d0" stroke="none" stroke-width="1" opacity="0.68"/>
<rect x="245.6" y="204.6" width="0.9" height="0.9" fill="#2a64d0" stroke="none" stroke-width="1" opacity="0.68"/>
<rect x="245.6" y="204.6" width="0.9" height="0.9" fill="#6a9cf0" stroke="none" stroke-width="1" opacity="0.68"/>
<rect x="240.0" y="205.4" width="0.9" height="0.9" fill="#2a64d0" stroke="none" stroke-width="1" opacity="0.68"/>
<rect x="241.8" y="210.8" width="0.9" height="0.9" fill="#2a64d0" stroke="none" stroke-width="1" opacity="0.68"/>
<rect x="239.9" y="211.5" width="0.9" height="0.9" fill="#2a64d0" stroke="none" stroke-width="1" opacity="0.68"/>
<rect x="243.3" y="202.0" width="0.9" height="0.9" fill="#6a9cf0" stroke="none" stroke-width="1" opacity="0.68"/>
<rect x="240.3" y="201.7" width="0.9" height="0.9" fill="#2a64d0" stroke="none" stroke-width="1" opacity="0.68"/>
<rect x="236.7" y="208.2" width="0.9" height="0.9" fill="#6a9cf0" stroke="none" stroke-width="1" opacity="0.68"/>
<rect x="245.4" y="202.2" width="0.9" height="0.9" fill="#2a64d0" stroke="none" stroke-width="1" opacity="0.68"/>
<rect x="237.9" y="207.0" width="0.9" height="0.9" fill="#2a64d0" stroke="none" stroke-width="1" opacity="0.68"/>
<rect x="239.8" y="210.4" width="0.9" height="0.9" fill="#2a64d0" stroke="none" stroke-width="1" opacity="0.68"/>
<rect x="242.8" y="211.3" width="0.9" height="0.9" fill="#2a64d0" stroke="none" stroke-width="1" opacity="0.68"/>
<rect x="238.6" y="209.5" width="0.9" height="0.9" fill="#2a64d0" stroke="none" stroke-width="1" opacity="0.68"/>
<rect x="244.7" y="206.2" width="0.9" height="0.9" fill="#2a64d0" stroke="none" stroke-width="1" opacity="0.68"/>
<rect x="245.0" y="210.7" width="0.9" height="0.9" fill="#2a64d0" stroke="none" stroke-width="1" opacity="0.68"/>
<rect x="238.8" y="202.9" width="0.9" height="0.9" fill="#6a9cf0" stroke="none" stroke-width="1" opacity="0.68"/>
<rect x="236.4" y="201.7" width="0.9" height="0.9" fill="#2a64d0" stroke="none" stroke-width="1" opacity="0.68"/>
<rect x="240.4" y="202.9" width="0.9" height="0.9" fill="#2a64d0" stroke="none" stroke-width="1" opacity="0.68"/>
<rect x="241.4" y="209.6" width="0.9" height="0.9" fill="#2a64d0" stroke="none" stroke-width="1" opacity="0.68"/>
<rect x="243.0" y="210.6" width="0.9" height="0.9" fill="#6a9cf0" stroke="none" stroke-width="1" opacity="0.68"/>
<rect x="241.1" y="204.2" width="0.9" height="0.9" fill="#2a64d0" stroke="none" stroke-width="1" opacity="0.68"/>
<rect x="239.4" y="205.3" width="0.9" height="0.9" fill="#2a64d0" stroke="none" stroke-width="1" opacity="0.68"/>
<rect x="241.7" y="207.2" width="0.9" height="0.9" fill="#2a64d0" stroke="none" stroke-width="1" opacity="0.68"/>
<rect x="238.5" y="205.5" width="0.9" height="0.9" fill="#2a64d0" stroke="none" stroke-width="1" opacity="0.68"/>
<rect x="242.2" y="210.6" width="0.9" height="0.9" fill="#2a64d0" stroke="none" stroke-width="1" opacity="0.68"/>
<rect x="242.1" y="211.0" width="0.9" height="0.9" fill="#2a64d0" stroke="none" stroke-width="1" opacity="0.68"/>
<rect x="243.1" y="205.6" width="0.9" height="0.9" fill="#6a9cf0" stroke="none" stroke-width="1" opacity="0.68"/>
<rect x="236.2" y="204.6" width="0.9" height="0.9" fill="#2a64d0" stroke="none" stroke-width="1" opacity="0.68"/>
<rect x="241.4" y="204.2" width="0.9" height="0.9" fill="#2a64d0" stroke="none" stroke-width="1" opacity="0.68"/>
<rect x="236.9" y="210.5" width="0.9" height="0.9" fill="#6a9cf0" stroke="none" stroke-width="1" opacity="0.68"/>
<rect x="246.4" y="211.3" width="0.9" height="0.9" fill="#2a64d0" stroke="none" stroke-width="1" opacity="0.68"/>
<rect x="246.5" y="210.0" width="0.9" height="0.9" fill="#6a9cf0" stroke="none" stroke-width="1" opacity="0.68"/>
<rect x="239.8" y="206.1" width="0.9" height="0.9" fill="#2a64d0" stroke="none" stroke-width="1" opacity="0.68"/>
<rect x="242.4" y="201.2" width="0.9" height="0.9" fill="#6a9cf0" stroke="none" stroke-width="1" opacity="0.68"/>
<rect x="240.2" y="202.7" width="0.9" height="0.9" fill="#2a64d0" stroke="none" stroke-width="1" opacity="0.68"/>
<rect x="240.6" y="203.7" width="0.9" height="0.9" fill="#2a64d0" stroke="none" stroke-width="1" opacity="0.68"/>
<rect x="242.1" y="205.4" width="0.9" height="0.9" fill="#6a9cf0" stroke="none" stroke-width="1" opacity="0.68"/>
<rect x="242.7" y="206.6" width="0.9" height="0.9" fill="#2a64d0" stroke="none" stroke-width="1" opacity="0.68"/>
<rect x="238.3" y="207.5" width="0.9" height="0.9" fill="#6a9cf0" stroke="none" stroke-width="1" opacity="0.68"/>
<rect x="242.7" y="201.9" width="0.9" height="0.9" fill="#2a64d0" stroke="none" stroke-width="1" opacity="0.68"/>
<rect x="239.7" y="211.3" width="0.9" height="0.9" fill="#6a9cf0" stroke="none" stroke-width="1" opacity="0.68"/>
<rect x="245.0" y="210.3" width="0.9" height="0.9" fill="#2a64d0" stroke="none" stroke-width="1" opacity="0.68"/>
<rect x="243.5" y="209.5" width="0.9" height="0.9" fill="#6a9cf0" stroke="none" stroke-width="1" opacity="0.68"/>
<rect x="242.4" y="207.3" width="0.9" height="0.9" fill="#2a64d0" stroke="none" stroke-width="1" opacity="0.68"/>
<rect x="239.6" y="207.3" width="0.9" height="0.9" fill="#2a64d0" stroke="none" stroke-width="1" opacity="0.68"/>
<rect x="240.6" y="201.6" width="0.9" height="0.9" fill="#6a9cf0" stroke="none" stroke-width="1" opacity="0.68"/>
<rect x="242.8" y="204.3" width="0.9" height="0.9" fill="#6a9cf0" stroke="none" stroke-width="1" opacity="0.68"/>
<rect x="245.0" y="201.1" width="0.9" height="0.9" fill="#6a9cf0" stroke="none" stroke-width="1" opacity="0.68"/>
<rect x="244.2" y="206.7" width="0.9" height="0.9" fill="#2a64d0" stroke="none" stroke-width="1" opacity="0.68"/>
<line x1="36.6" y1="214" x2="36.6" y2="162" stroke="#000" stroke-width="1"/>
<path d="M36.60,157.20 L40.10,165.70 L36.60,163.83 L33.10,165.70 Z" fill="#000"/>
<text x="40.2" y="226" font-size="10.2" font-weight="bold" text-anchor="middle" fill="#000" transform="rotate(-90 40.2 226)">Ki67</text>
<text x="48" y="252.3" font-size="10.7" font-weight="bold" text-anchor="start" fill="#000">DAPI</text>
<line x1="76" y1="249.2" x2="302" y2="249.2" stroke="#000" stroke-width="1"/>
<path d="M306.90,249.20 L298.50,245.90 L300.35,249.20 L298.50,252.50 Z" fill="#000"/>
<line x1="361.1" y1="162" x2="361.1" y2="233.4" stroke="#6e6e6e" stroke-width="1.7"/>
<line x1="360.3" y1="232.8" x2="471.5" y2="232.8" stroke="#5a5a5a" stroke-width="1.3"/>
<line x1="358.70000000000005" y1="232.8" x2="361.1" y2="232.8" stroke="#6e6e6e" stroke-width="1.1"/>
<text x="358.3" y="234.4" font-size="6.5" font-weight="bold" text-anchor="end" fill="#000">0</text>
<line x1="358.70000000000005" y1="218.8" x2="361.1" y2="218.8" stroke="#6e6e6e" stroke-width="1.1"/>
<text x="358.3" y="220.4" font-size="6.5" font-weight="bold" text-anchor="end" fill="#000">20</text>
<line x1="358.70000000000005" y1="204.8" x2="361.1" y2="204.8" stroke="#6e6e6e" stroke-width="1.1"/>
<text x="358.3" y="206.4" font-size="6.5" font-weight="bold" text-anchor="end" fill="#000">40</text>
<line x1="358.70000000000005" y1="190.8" x2="361.1" y2="190.8" stroke="#6e6e6e" stroke-width="1.1"/>
<text x="358.3" y="192.4" font-size="6.5" font-weight="bold" text-anchor="end" fill="#000">60</text>
<line x1="358.70000000000005" y1="176.8" x2="361.1" y2="176.8" stroke="#6e6e6e" stroke-width="1.1"/>
<text x="358.3" y="178.4" font-size="6.5" font-weight="bold" text-anchor="end" fill="#000">80</text>
<line x1="358.70000000000005" y1="162.8" x2="361.1" y2="162.8" stroke="#6e6e6e" stroke-width="1.1"/>
<text x="358.3" y="164.4" font-size="6.5" font-weight="bold" text-anchor="end" fill="#000">100</text>
<text x="346.3" y="197.4" font-size="7.5" font-weight="bold" text-anchor="middle" fill="#000" transform="rotate(-90 346.3 197.4)">Percentage of cells</text>
<rect x="366.6" y="197.60000000000002" width="6.5" height="35.19999999999999" fill="#fff" stroke="#000" stroke-width="1"/>
<line x1="379.55" y1="194.3" x2="379.55" y2="203.05" stroke="#000" stroke-width="1"/>
<line x1="377.55" y1="194.3" x2="381.55" y2="194.3" stroke="#000" stroke-width="1"/>
<rect x="376.3" y="203.55" width="6.5" height="29.25" fill="#999" stroke="#333" stroke-width="1"/>
<line x1="389.45" y1="208.3" x2="389.45" y2="212.85000000000002" stroke="#000" stroke-width="1"/>
<line x1="387.45" y1="208.3" x2="391.45" y2="208.3" stroke="#000" stroke-width="1"/>
<rect x="386.2" y="213.35000000000002" width="6.5" height="19.44999999999999" fill="#000" stroke="#000" stroke-width="1"/>
<text x="381.4" y="243.8" font-size="7.4" font-weight="bold" text-anchor="middle" fill="#000">G0</text>
<line x1="406.05" y1="214.60000000000002" x2="406.05" y2="217.4" stroke="#000" stroke-width="1"/>
<line x1="404.05" y1="214.60000000000002" x2="408.05" y2="214.60000000000002" stroke="#000" stroke-width="1"/>
<rect x="402.8" y="217.9" width="6.5" height="14.900000000000006" fill="#fff" stroke="#000" stroke-width="1"/>
<line x1="416.45" y1="207.95000000000002" x2="416.45" y2="213.55" stroke="#000" stroke-width="1"/>
<line x1="414.45" y1="207.95000000000002" x2="418.45" y2="207.95000000000002" stroke="#000" stroke-width="1"/>
<rect x="413.2" y="214.05" width="6.5" height="18.75" fill="#999" stroke="#333" stroke-width="1"/>
<line x1="426.35" y1="200.95000000000002" x2="426.35" y2="206.9" stroke="#000" stroke-width="1"/>
<line x1="424.35" y1="200.95000000000002" x2="428.35" y2="200.95000000000002" stroke="#000" stroke-width="1"/>
<rect x="423.1" y="207.4" width="6.5" height="25.400000000000006" fill="#000" stroke="#000" stroke-width="1"/>
<text x="418" y="243.8" font-size="7.4" font-weight="bold" text-anchor="middle" fill="#000">G1</text>
<rect x="440.4" y="215.10000000000002" width="6.5" height="17.69999999999999" fill="#fff" stroke="#000" stroke-width="1"/>
<line x1="453.35" y1="208.65" x2="453.35" y2="212.5" stroke="#000" stroke-width="1"/>
<line x1="451.35" y1="208.65" x2="455.35" y2="208.65" stroke="#000" stroke-width="1"/>
<rect x="450.1" y="213.0" width="6.5" height="19.80000000000001" fill="#999" stroke="#333" stroke-width="1"/>
<rect x="460.5" y="210.20000000000002" width="6.5" height="22.599999999999994" fill="#000" stroke="#000" stroke-width="1"/>
<text x="453.4" y="243.8" font-size="7.4" font-weight="bold" text-anchor="middle" fill="#000">S/G2/M</text>
<path d="M370,196.3 L370,185.2 L389.3,185.2 L389.3,207" stroke="#333" stroke-width="1" fill="none"/>
<text x="379.1" y="184" font-size="10" font-weight="bold" text-anchor="middle" fill="#000">*</text>
<path d="M442.4,213.1 L442.4,202.3 L462.8,202.3 L462.8,207.5" stroke="#333" stroke-width="1" fill="none"/>
<text x="453.4" y="202.8" font-size="10" font-weight="bold" text-anchor="middle" fill="#000">*</text>
<rect x="425.1" y="164.6" width="6.2" height="3.2" fill="#fff" stroke="#000" stroke-width="1"/>
<text x="436.3" y="168.1" font-size="7.4" font-weight="bold" text-anchor="start" fill="#000">Control</text>
<rect x="425.1" y="173.3" width="6.2" height="3.2" fill="#999" stroke="#333" stroke-width="1"/>
<text x="436.3" y="177.5" font-size="7.4" font-weight="bold" text-anchor="start" fill="#000">NrasG12D/+</text>
<rect x="425.1" y="181.9" width="6.2" height="3.2" fill="#000" stroke="#000" stroke-width="1"/>
<text x="436.3" y="186.39999999999998" font-size="7.4" font-weight="bold" text-anchor="start" fill="#000">NrasG12D/G12D</text>
<line x1="63.5" y1="289.3" x2="137.4" y2="289.3" stroke="#000" stroke-width="1"/>
<line x1="63.5" y1="289.3" x2="63.5" y2="354" stroke="#000" stroke-width="1"/>
<line x1="137.4" y1="289.3" x2="137.4" y2="354" stroke="#000" stroke-width="1"/>
<path d="M63.50,322.40 L63.87,322.40 L64.24,322.40 L64.61,322.40 L64.98,322.40 L65.35,322.40 L65.72,322.40 L66.09,322.40 L66.46,322.40 L66.83,322.40 L67.19,322.40 L67.56,322.40 L67.93,322.40 L68.30,322.40 L68.67,322.40 L69.04,322.40 L69.41,322.40 L69.78,322.40 L70.15,322.40 L70.52,322.40 L70.89,322.40 L71.26,322.40 L71.63,322.40 L72.00,322.40 L72.37,322.40 L72.74,322.40 L73.11,322.40 L73.48,322.40 L73.85,322.40 L74.22,322.40 L74.59,322.40 L74.95,322.40 L75.32,322.40 L75.69,322.40 L76.06,322.40 L76.43,322.40 L76.80,322.39 L77.17,322.39 L77.54,322.39 L77.91,322.39 L78.28,322.39 L78.65,322.39 L79.02,322.38 L79.39,322.38 L79.76,322.38 L80.13,322.37 L80.50,322.37 L80.87,322.36 L81.24,322.36 L81.61,322.35 L81.97,322.34 L82.34,322.33 L82.71,322.32 L83.08,322.31 L83.45,322.29 L83.82,322.28 L84.19,322.26 L84.56,322.23 L84.93,322.21 L85.30,322.17 L85.67,322.14 L86.04,322.10 L86.41,322.05 L86.78,322.00 L87.15,321.94 L87.52,321.87 L87.89,321.80 L88.26,321.71 L88.63,321.61 L89.00,321.50 L89.36,321.38 L89.73,321.24 L90.10,321.08 L90.47,320.91 L90.84,320.71 L91.21,320.49 L91.58,320.25 L91.95,319.98 L92.32,319.68 L92.69,319.35 L93.06,318.99 L93.43,318.59 L93.80,318.15 L94.17,317.67 L94.54,317.14 L94.91,316.57 L95.28,315.95 L95.65,315.28 L96.02,314.56 L96.39,313.78 L96.75,312.94 L97.12,312.05 L97.49,311.10 L97.86,310.09 L98.23,309.03 L98.60,307.92 L98.97,306.75 L99.34,305.54 L99.71,304.29 L100.08,303.00 L100.45,301.69 L100.82,300.37 L101.19,299.05 L101.56,297.75 L101.93,296.48 L102.30,295.28 L102.67,294.16 L103.04,293.19 L103.41,292.41 L103.78,292.01 L104.15,292.46 L104.51,293.23 L104.88,294.18 L105.25,295.27 L105.62,296.45 L105.99,297.69 L106.36,298.98 L106.73,300.28 L107.10,301.59 L107.47,302.88 L107.84,304.16 L108.21,305.41 L108.58,306.62 L108.95,307.78 L109.32,308.90 L109.69,309.96 L110.06,310.97 L110.43,311.93 L110.80,312.82 L111.17,313.67 L111.53,314.45 L111.90,315.18 L112.27,315.86 L112.64,316.49 L113.01,317.07 L113.38,317.60 L113.75,318.09 L114.12,318.54 L114.49,318.94 L114.86,319.31 L115.23,319.65 L115.60,319.95 L115.97,320.23 L116.34,320.47 L116.71,320.70 L117.08,320.89 L117.45,321.07 L117.82,321.23 L118.19,321.37 L118.56,321.50 L118.92,321.61 L119.29,321.71 L119.66,321.80 L120.03,321.87 L120.40,321.94 L120.77,322.00 L121.14,322.06 L121.51,322.10 L121.88,322.14 L122.25,322.18 L122.62,322.21 L122.99,322.23 L123.36,322.26 L123.73,322.28 L124.10,322.30 L124.47,322.31 L124.84,322.32 L125.21,322.33 L125.58,322.34 L125.95,322.35 L126.32,322.36 L126.68,322.37 L127.05,322.37 L127.42,322.38 L127.79,322.38 L128.16,322.38 L128.53,322.39 L128.90,322.39 L129.27,322.39 L129.64,322.39 L130.01,322.39 L130.38,322.39 L130.75,322.39 L131.12,322.40 L131.49,322.40 L131.86,322.40 L132.23,322.40 L132.60,322.40 L132.97,322.40 L133.34,322.40 L133.71,322.40 L134.07,322.40 L134.44,322.40 L134.81,322.40 L135.18,322.40 L135.55,322.40 L135.92,322.40 L136.29,322.40 L136.66,322.40 L137.03,322.40 L137.40,322.40" stroke="#000" stroke-width="1.05" fill="none"/>
<path d="M63.50,338.30 L63.87,338.30 L64.24,338.30 L64.61,338.30 L64.98,338.30 L65.35,338.30 L65.72,338.30 L66.09,338.30 L66.46,338.30 L66.83,338.30 L67.19,338.30 L67.56,338.30 L67.93,338.30 L68.30,338.30 L68.67,338.30 L69.04,338.30 L69.41,338.30 L69.78,338.30 L70.15,338.30 L70.52,338.30 L70.89,338.30 L71.26,338.29 L71.63,338.29 L72.00,338.29 L72.37,338.29 L72.74,338.29 L73.11,338.29 L73.48,338.29 L73.85,338.29 L74.22,338.28 L74.59,338.28 L74.95,338.28 L75.32,338.28 L75.69,338.27 L76.06,338.27 L76.43,338.26 L76.80,338.26 L77.17,338.25 L77.54,338.24 L77.91,338.24 L78.28,338.23 L78.65,338.22 L79.02,338.21 L79.39,338.20 L79.76,338.18 L80.13,338.17 L80.50,338.15 L80.87,338.13 L81.24,338.11 L81.61,338.08 L81.97,338.06 L82.34,338.02 L82.71,337.99 L83.08,337.95 L83.45,337.91 L83.82,337.86 L84.19,337.81 L84.56,337.75 L84.93,337.69 L85.30,337.62 L85.67,337.54 L86.04,337.45 L86.41,337.36 L86.78,337.25 L87.15,337.14 L87.52,337.01 L87.89,336.87 L88.26,336.72 L88.63,336.55 L89.00,336.37 L89.36,336.17 L89.73,335.95 L90.10,335.72 L90.47,335.47 L90.84,335.19 L91.21,334.89 L91.58,334.57 L91.95,334.22 L92.32,333.85 L92.69,333.44 L93.06,333.01 L93.43,332.55 L93.80,332.06 L94.17,331.53 L94.54,330.97 L94.91,330.38 L95.28,329.75 L95.65,329.08 L96.02,328.38 L96.39,327.64 L96.75,326.86 L97.12,326.05 L97.49,325.20 L97.86,324.32 L98.23,323.40 L98.60,322.46 L98.97,321.48 L99.34,320.48 L99.71,319.46 L100.08,318.43 L100.45,317.38 L100.82,316.33 L101.19,315.28 L101.56,314.24 L101.93,313.22 L102.30,312.23 L102.67,311.29 L103.04,310.41 L103.41,309.62 L103.78,308.93 L104.15,308.39 L104.51,308.11 L104.88,308.92 L105.25,310.31 L105.62,312.00 L105.99,313.87 L106.36,315.82 L106.73,317.80 L107.10,319.75 L107.47,321.64 L107.84,323.44 L108.21,325.13 L108.58,326.70 L108.95,328.15 L109.32,329.46 L109.69,330.65 L110.06,331.71 L110.43,332.65 L110.80,333.48 L111.17,334.21 L111.53,334.84 L111.90,335.39 L112.27,335.87 L112.64,336.27 L113.01,336.61 L113.38,336.91 L113.75,337.15 L114.12,337.36 L114.49,337.53 L114.86,337.67 L115.23,337.79 L115.60,337.89 L115.97,337.97 L116.34,338.03 L116.71,338.09 L117.08,338.13 L117.45,338.17 L117.82,338.19 L118.19,338.22 L118.56,338.23 L118.92,338.25 L119.29,338.26 L119.66,338.27 L120.03,338.28 L120.40,338.28 L120.77,338.29 L121.14,338.29 L121.51,338.29 L121.88,338.29 L122.25,338.29 L122.62,338.30 L122.99,338.30 L123.36,338.30 L123.73,338.30 L124.10,338.30 L124.47,338.30 L124.84,338.30 L125.21,338.30 L125.58,338.30 L125.95,338.30 L126.32,338.30 L126.68,338.30 L127.05,338.30 L127.42,338.30 L127.79,338.30 L128.16,338.30 L128.53,338.30 L128.90,338.30 L129.27,338.30 L129.64,338.30 L130.01,338.30 L130.38,338.30 L130.75,338.30 L131.12,338.30 L131.49,338.30 L131.86,338.30 L132.23,338.30 L132.60,338.30 L132.97,338.30 L133.34,338.30 L133.71,338.30 L134.07,338.30 L134.44,338.30 L134.81,338.30 L135.18,338.30 L135.55,338.30 L135.92,338.30 L136.29,338.30 L136.66,338.30 L137.03,338.30 L137.40,338.30" stroke="#000" stroke-width="1.05" fill="none"/>
<path d="M63.50,353.70 L63.87,353.70 L64.24,353.70 L64.61,353.70 L64.98,353.70 L65.35,353.70 L65.72,353.70 L66.09,353.70 L66.46,353.70 L66.83,353.70 L67.19,353.70 L67.56,353.70 L67.93,353.70 L68.30,353.70 L68.67,353.70 L69.04,353.70 L69.41,353.70 L69.78,353.70 L70.15,353.70 L70.52,353.70 L70.89,353.70 L71.26,353.70 L71.63,353.70 L72.00,353.70 L72.37,353.70 L72.74,353.70 L73.11,353.70 L73.48,353.70 L73.85,353.70 L74.22,353.70 L74.59,353.70 L74.95,353.70 L75.32,353.70 L75.69,353.70 L76.06,353.70 L76.43,353.70 L76.80,353.70 L77.17,353.70 L77.54,353.70 L77.91,353.70 L78.28,353.70 L78.65,353.70 L79.02,353.70 L79.39,353.70 L79.76,353.70 L80.13,353.70 L80.50,353.70 L80.87,353.70 L81.24,353.70 L81.61,353.70 L81.97,353.70 L82.34,353.70 L82.71,353.70 L83.08,353.70 L83.45,353.70 L83.82,353.70 L84.19,353.70 L84.56,353.70 L84.93,353.70 L85.30,353.69 L85.67,353.69 L86.04,353.69 L86.41,353.69 L86.78,353.69 L87.15,353.68 L87.52,353.68 L87.89,353.67 L88.26,353.67 L88.63,353.66 L89.00,353.65 L89.36,353.64 L89.73,353.62 L90.10,353.61 L90.47,353.59 L90.84,353.56 L91.21,353.53 L91.58,353.50 L91.95,353.46 L92.32,353.41 L92.69,353.35 L93.06,353.28 L93.43,353.21 L93.80,353.12 L94.17,353.01 L94.54,352.89 L94.91,352.75 L95.28,352.59 L95.65,352.40 L96.02,352.19 L96.39,351.95 L96.75,351.69 L97.12,351.38 L97.49,351.04 L97.86,350.67 L98.23,350.24 L98.60,349.78 L98.97,349.27 L99.34,348.70 L99.71,348.09 L100.08,347.42 L100.45,346.70 L100.82,345.92 L101.19,345.09 L101.56,344.20 L101.93,343.26 L102.30,342.27 L102.67,341.23 L103.04,340.15 L103.41,339.03 L103.78,337.88 L104.15,336.71 L104.51,335.52 L104.88,334.33 L105.25,333.15 L105.62,331.99 L105.99,330.86 L106.36,329.77 L106.73,328.76 L107.10,327.81 L107.47,326.96 L107.84,326.23 L108.21,325.62 L108.58,325.16 L108.95,324.87 L109.32,324.86 L109.69,325.60 L110.06,326.93 L110.43,328.71 L110.80,330.81 L111.17,333.10 L111.53,335.47 L111.90,337.83 L112.27,340.10 L112.64,342.22 L113.01,344.16 L113.38,345.89 L113.75,347.39 L114.12,348.68 L114.49,349.76 L114.86,350.65 L115.23,351.37 L115.60,351.94 L115.97,352.39 L116.34,352.74 L116.71,353.00 L117.08,353.20 L117.45,353.35 L117.82,353.45 L118.19,353.53 L118.56,353.58 L118.92,353.62 L119.29,353.65 L119.66,353.67 L120.03,353.68 L120.40,353.69 L120.77,353.69 L121.14,353.69 L121.51,353.70 L121.88,353.70 L122.25,353.70 L122.62,353.70 L122.99,353.70 L123.36,353.70 L123.73,353.70 L124.10,353.70 L124.47,353.70 L124.84,353.70 L125.21,353.70 L125.58,353.70 L125.95,353.70 L126.32,353.70 L126.68,353.70 L127.05,353.70 L127.42,353.70 L127.79,353.70 L128.16,353.70 L128.53,353.70 L128.90,353.70 L129.27,353.70 L129.64,353.70 L130.01,353.70 L130.38,353.70 L130.75,353.70 L131.12,353.70 L131.49,353.70 L131.86,353.70 L132.23,353.70 L132.60,353.70 L132.97,353.70 L133.34,353.70 L133.71,353.70 L134.07,353.70 L134.44,353.70 L134.81,353.70 L135.18,353.70 L135.55,353.70 L135.92,353.70 L136.29,353.70 L136.66,353.70 L137.03,353.70 L137.40,353.70" stroke="#000" stroke-width="1.05" fill="none"/>
<line x1="62.5" y1="354" x2="62.5" y2="356" stroke="#000" stroke-width="0.7"/>
<text x="61.0" y="361.5" font-size="3" text-anchor="start" fill="#000">10</text>
<line x1="81.6" y1="354" x2="81.6" y2="356" stroke="#000" stroke-width="0.7"/>
<text x="80.1" y="361.5" font-size="3" text-anchor="start" fill="#000">10</text>
<line x1="100.6" y1="354" x2="100.6" y2="356" stroke="#000" stroke-width="0.7"/>
<text x="99.1" y="361.5" font-size="3" text-anchor="start" fill="#000">10</text>
<line x1="119.6" y1="354" x2="119.6" y2="356" stroke="#000" stroke-width="0.7"/>
<text x="118.1" y="361.5" font-size="3" text-anchor="start" fill="#000">10</text>
<line x1="137.4" y1="354" x2="137.4" y2="356" stroke="#000" stroke-width="0.7"/>
<text x="135.9" y="361.5" font-size="3" text-anchor="start" fill="#000">10</text>
<text x="55.3" y="323" font-size="7.1" font-weight="bold" text-anchor="end" fill="#000">Control</text>
<text x="59" y="339.3" font-size="7.1" font-weight="bold" text-anchor="end" fill="#000">NrasG12D/+</text>
<text x="61.8" y="355" font-size="7.1" font-weight="bold" text-anchor="end" fill="#000">NrasG12D/G12D</text>
<text x="102.6" y="282.8" font-size="8.87" font-weight="bold" text-anchor="middle" fill="#000">Basal condition</text>
<text x="62.2" y="371.5" font-size="8.9" font-weight="bold" text-anchor="start" fill="#000">p-ERK1/2</text>
<line x1="104" y1="367.3" x2="133" y2="367.3" stroke="#000" stroke-width="1"/>
<path d="M138.70,367.30 L130.90,363.70 L132.62,367.30 L130.90,370.90 Z" fill="#000"/>
<line x1="169.1" y1="275.4" x2="169.1" y2="366.8" stroke="#6e6e6e" stroke-width="1.7"/>
<line x1="168.29999999999998" y1="366.2" x2="220.5" y2="366.2" stroke="#5a5a5a" stroke-width="1.3"/>
<line x1="166.7" y1="366.2" x2="169.1" y2="366.2" stroke="#6e6e6e" stroke-width="1.1"/>
<text x="164.5" y="369.4" font-size="9" font-weight="bold" text-anchor="end" fill="#000">0</text>
<line x1="166.7" y1="340.5" x2="169.1" y2="340.5" stroke="#6e6e6e" stroke-width="1.1"/>
<text x="164.5" y="343.7" font-size="9" font-weight="bold" text-anchor="end" fill="#000">1</text>
<line x1="166.7" y1="314.8" x2="169.1" y2="314.8" stroke="#6e6e6e" stroke-width="1.1"/>
<text x="164.5" y="318.0" font-size="9" font-weight="bold" text-anchor="end" fill="#000">2</text>
<line x1="166.7" y1="289.1" x2="169.1" y2="289.1" stroke="#6e6e6e" stroke-width="1.1"/>
<text x="164.5" y="292.3" font-size="9" font-weight="bold" text-anchor="end" fill="#000">3</text>
<text x="157.3" y="320.3" font-size="7.2" font-weight="bold" text-anchor="middle" fill="#000" transform="rotate(-90 157.3 320.3)">Folds over basal control</text>
<rect x="172.5" y="340.6" width="11.5" height="25.599999999999966" fill="#fff" stroke="#999" stroke-width="1"/>
<line x1="196" y1="330" x2="196" y2="335.5" stroke="#888" stroke-width="1"/>
<line x1="193.5" y1="330" x2="198.5" y2="330" stroke="#888" stroke-width="1"/>
<rect x="190" y="335.5" width="12" height="30.69999999999999" fill="#999" stroke="none" stroke-width="1"/>
<line x1="214" y1="290.1" x2="214" y2="306.9" stroke="#aaa" stroke-width="1"/>
<line x1="211.5" y1="290.1" x2="216.5" y2="290.1" stroke="#aaa" stroke-width="1"/>
<rect x="208.4" y="306.9" width="11.4" height="59.30000000000001" fill="#333" stroke="none" stroke-width="1"/>
<path d="M177.4,340 L177.4,272.8 L213.5,272.8 L213.5,288" stroke="#000" stroke-width="1" fill="none"/>
<text x="197.6" y="269.2" font-size="8.5" font-weight="bold" text-anchor="middle" fill="#000">p&lt;0.02</text>
<rect x="220.9" y="281.5" width="8.8" height="4.2" fill="#fff" stroke="#999" stroke-width="1"/>
<text x="234.9" y="286.2" font-size="6.85" text-anchor="start" fill="#000">WT</text>
<rect x="220.9" y="291.1" width="8.8" height="4.2" fill="#999" stroke="#999" stroke-width="1"/>
<text x="234.9" y="295.8" font-size="6.85" text-anchor="start" fill="#000">NrasG12D/+</text>
<rect x="220.9" y="300.8" width="8.8" height="4.2" fill="#333" stroke="#333" stroke-width="1"/>
<text x="234.9" y="305.5" font-size="6.85" text-anchor="start" fill="#000">NrasG12D/G12D</text>
<text x="305" y="303.3" font-size="5.25" font-weight="bold" text-anchor="middle" fill="#000">GM-CSF</text>
<text x="305.8" y="309.9" font-size="5.25" font-weight="bold" text-anchor="middle" fill="#000">(2 ng/ml)</text>
<text x="330" y="303.3" font-size="5.25" font-weight="bold" text-anchor="middle" fill="#000">U0126</text>
<text x="331.2" y="309.9" font-size="5.25" font-weight="bold" text-anchor="middle" fill="#000">(10 µm)</text>
<line x1="308.7" y1="315.6" x2="311.3" y2="315.6" stroke="#000" stroke-width="1.2"/>
<line x1="331.7" y1="315.6" x2="334.3" y2="315.6" stroke="#000" stroke-width="1.2"/>
<line x1="308" y1="326.6" x2="312" y2="326.6" stroke="#000" stroke-width="1.3"/>
<line x1="310" y1="324.6" x2="310" y2="328.6" stroke="#000" stroke-width="1.3"/>
<line x1="331.7" y1="326.6" x2="334.3" y2="326.6" stroke="#000" stroke-width="1.2"/>
<line x1="308.7" y1="338.3" x2="311.3" y2="338.3" stroke="#000" stroke-width="1.2"/>
<line x1="331" y1="338.3" x2="335" y2="338.3" stroke="#000" stroke-width="1.3"/>
<line x1="333" y1="336.3" x2="333" y2="340.3" stroke="#000" stroke-width="1.3"/>
<line x1="308" y1="348.6" x2="312" y2="348.6" stroke="#000" stroke-width="1.3"/>
<line x1="310" y1="346.6" x2="310" y2="350.6" stroke="#000" stroke-width="1.3"/>
<line x1="331" y1="348.6" x2="335" y2="348.6" stroke="#000" stroke-width="1.3"/>
<line x1="333" y1="346.6" x2="333" y2="350.6" stroke="#000" stroke-width="1.3"/>
<rect x="342.7" y="295.4" width="77.5" height="55.10000000000002" fill="none" stroke="#000" stroke-width="1"/>
<line x1="375.3" y1="295.4" x2="375.3" y2="350.5" stroke="#000" stroke-width="1"/>
<line x1="342.7" y1="350.5" x2="342.7" y2="352.0" stroke="#000" stroke-width="0.7"/>
<text x="341.2" y="354.5" font-size="3" text-anchor="start" fill="#000">10</text>
<line x1="361.3" y1="350.5" x2="361.3" y2="352.0" stroke="#000" stroke-width="0.7"/>
<text x="359.8" y="354.5" font-size="3" text-anchor="start" fill="#000">10</text>
<line x1="379.8" y1="350.5" x2="379.8" y2="352.0" stroke="#000" stroke-width="0.7"/>
<text x="378.3" y="354.5" font-size="3" text-anchor="start" fill="#000">10</text>
<line x1="399.3" y1="350.5" x2="399.3" y2="352.0" stroke="#000" stroke-width="0.7"/>
<text x="397.8" y="354.5" font-size="3" text-anchor="start" fill="#000">10</text>
<line x1="418.9" y1="350.5" x2="418.9" y2="352.0" stroke="#000" stroke-width="0.7"/>
<text x="417.4" y="354.5" font-size="3" text-anchor="start" fill="#000">10</text>
<text x="380" y="291.9" font-size="9" font-weight="bold" text-anchor="middle" fill="#000">Control</text>
<path d="M342.70,318.39 L343.09,318.39 L343.47,318.38 L343.86,318.38 L344.25,318.38 L344.64,318.37 L345.02,318.37 L345.41,318.36 L345.80,318.36 L346.19,318.35 L346.57,318.35 L346.96,318.34 L347.35,318.33 L347.74,318.32 L348.12,318.31 L348.51,318.29 L348.90,318.28 L349.29,318.26 L349.68,318.24 L350.06,318.22 L350.45,318.20 L350.84,318.17 L351.22,318.14 L351.61,318.11 L352.00,318.07 L352.39,318.03 L352.77,317.98 L353.16,317.93 L353.55,317.87 L353.94,317.81 L354.32,317.74 L354.71,317.66 L355.10,317.58 L355.49,317.49 L355.88,317.39 L356.26,317.28 L356.65,317.16 L357.04,317.03 L357.43,316.89 L357.81,316.73 L358.20,316.56 L358.59,316.38 L358.97,316.19 L359.36,315.98 L359.75,315.76 L360.14,315.52 L360.52,315.26 L360.91,314.98 L361.30,314.69 L361.69,314.38 L362.07,314.05 L362.46,313.70 L362.85,313.33 L363.24,312.94 L363.62,312.53 L364.01,312.10 L364.40,311.66 L364.79,311.19 L365.18,310.71 L365.56,310.20 L365.95,309.68 L366.34,309.15 L366.72,308.60 L367.11,308.03 L367.50,307.45 L367.89,306.87 L368.27,306.27 L368.66,305.67 L369.05,305.06 L369.44,304.46 L369.82,303.85 L370.21,303.25 L370.60,302.66 L370.99,302.08 L371.38,301.51 L371.76,300.97 L372.15,300.44 L372.54,299.94 L372.93,299.47 L373.31,299.04 L373.70,298.64 L374.09,298.29 L374.47,297.98 L374.86,297.73 L375.25,297.55 L375.64,297.43 L376.02,297.42 L376.41,297.68 L376.80,298.26 L377.19,299.12 L377.57,300.23 L377.96,301.54 L378.35,303.00 L378.74,304.55 L379.12,306.13 L379.51,307.70 L379.90,309.21 L380.29,310.63 L380.68,311.93 L381.06,313.10 L381.45,314.12 L381.84,315.00 L382.22,315.74 L382.61,316.35 L383.00,316.85 L383.39,317.24 L383.77,317.55 L384.16,317.78 L384.55,317.96 L384.94,318.09 L385.32,318.19 L385.71,318.25 L386.10,318.30 L386.49,318.34 L386.88,318.36 L387.26,318.37 L387.65,318.38 L388.04,318.39 L388.43,318.39 L388.81,318.40 L389.20,318.40 L389.59,318.40 L389.97,318.40 L390.36,318.40 L390.75,318.40 L391.14,318.40 L391.52,318.40 L391.91,318.40 L392.30,318.40 L392.69,318.40 L393.07,318.40 L393.46,318.40 L393.85,318.40 L394.24,318.40 L394.62,318.40 L395.01,318.40 L395.40,318.40 L395.79,318.40 L396.18,318.40 L396.56,318.40 L396.95,318.40 L397.34,318.40 L397.72,318.40 L398.11,318.40 L398.50,318.40 L398.89,318.40 L399.27,318.40 L399.66,318.40 L400.05,318.40 L400.44,318.40 L400.82,318.40 L401.21,318.40 L401.60,318.40 L401.99,318.40 L402.38,318.40 L402.76,318.40 L403.15,318.40 L403.54,318.40 L403.93,318.40 L404.31,318.40 L404.70,318.40 L405.09,318.40 L405.47,318.40 L405.86,318.40 L406.25,318.40 L406.64,318.40 L407.02,318.40 L407.41,318.40 L407.80,318.40 L408.19,318.40 L408.57,318.40 L408.96,318.40 L409.35,318.40 L409.74,318.40 L410.12,318.40 L410.51,318.40 L410.90,318.40 L411.29,318.40 L411.67,318.40 L412.06,318.40 L412.45,318.40 L412.84,318.40 L413.23,318.40 L413.61,318.40 L414.00,318.40 L414.39,318.40 L414.77,318.40 L415.16,318.40 L415.55,318.40 L415.94,318.40 L416.32,318.40 L416.71,318.40 L417.10,318.40 L417.49,318.40 L417.88,318.40 L418.26,318.40 L418.65,318.40 L419.04,318.40 L419.42,318.40 L419.81,318.40 L420.20,318.40" stroke="#111" stroke-width="1.05" fill="none"/>
<path d="M342.70,328.35 L343.02,328.34 L343.35,328.31 L343.67,328.29 L343.99,328.27 L344.31,328.25 L344.64,328.22 L344.96,328.19 L345.28,328.16 L345.61,328.13 L345.93,328.10 L346.25,328.06 L346.57,328.02 L346.90,327.98 L347.22,327.94 L347.54,327.89 L347.87,327.84 L348.19,327.79 L348.51,327.74 L348.84,327.68 L349.16,327.62 L349.48,327.56 L349.80,327.49 L350.13,327.42 L350.45,327.35 L350.77,327.27 L351.10,327.19 L351.42,327.10 L351.74,327.01 L352.06,326.91 L352.39,326.81 L352.71,326.71 L353.03,326.60 L353.36,326.48 L353.68,326.36 L354.00,326.24 L354.32,326.11 L354.65,325.97 L354.97,325.83 L355.29,325.68 L355.62,325.53 L355.94,325.36 L356.26,325.20 L356.59,325.02 L356.91,324.84 L357.23,324.66 L357.55,324.47 L357.88,324.27 L358.20,324.06 L358.52,323.85 L358.85,323.63 L359.17,323.40 L359.49,323.17 L359.81,322.93 L360.14,322.68 L360.46,322.42 L360.78,322.16 L361.11,321.90 L361.43,321.62 L361.75,321.34 L362.07,321.06 L362.40,320.77 L362.72,320.47 L363.04,320.16 L363.37,319.86 L363.69,319.54 L364.01,319.22 L364.34,318.90 L364.66,318.57 L364.98,318.24 L365.30,317.91 L365.63,317.57 L365.95,317.23 L366.27,316.89 L366.60,316.55 L366.92,316.20 L367.24,315.86 L367.56,315.52 L367.89,315.17 L368.21,314.83 L368.53,314.49 L368.86,314.15 L369.18,313.82 L369.50,313.49 L369.82,313.16 L370.15,312.84 L370.47,312.53 L370.79,312.23 L371.12,311.93 L371.44,311.64 L371.76,311.36 L372.09,311.09 L372.41,310.83 L372.73,310.59 L373.05,310.36 L373.38,310.14 L373.70,309.94 L374.02,309.75 L374.35,309.58 L374.67,309.43 L374.99,309.30 L375.31,309.19 L375.64,309.10 L375.96,309.04 L376.28,309.00 L376.61,309.05 L376.93,309.34 L377.25,309.87 L377.57,310.54 L377.90,310.95 L378.22,311.35 L378.54,311.73 L378.87,312.09 L379.19,312.44 L379.51,312.76 L379.84,313.06 L380.16,313.34 L380.48,313.59 L380.80,313.81 L381.13,314.01 L381.45,314.17 L381.77,314.30 L382.10,314.40 L382.42,314.46 L382.74,314.50 L383.06,314.43 L383.39,314.23 L383.71,313.99 L384.03,313.71 L384.36,313.41 L384.68,313.09 L385.00,312.75 L385.32,312.39 L385.65,312.03 L385.97,311.64 L386.29,311.25 L386.62,310.84 L386.94,310.42 L387.26,309.76 L387.59,309.16 L387.91,308.81 L388.23,308.70 L388.55,308.76 L388.88,308.97 L389.20,309.32 L389.52,309.83 L389.85,310.50 L390.17,311.31 L390.49,312.25 L390.81,313.30 L391.14,314.43 L391.46,315.62 L391.78,316.84 L392.11,318.06 L392.43,319.26 L392.75,320.43 L393.07,321.53 L393.40,322.56 L393.72,323.49 L394.04,324.34 L394.37,325.09 L394.69,325.74 L395.01,326.31 L395.34,326.78 L395.66,327.18 L395.98,327.50 L396.30,327.76 L396.63,327.97 L396.95,328.13 L397.27,328.26 L397.60,328.35 L397.92,328.42 L398.24,328.48 L398.56,328.51 L398.89,328.54 L399.21,328.56 L399.53,328.57 L399.86,328.58 L400.18,328.59 L400.50,328.59 L400.82,328.60 L401.15,328.60 L401.47,328.60 L401.79,328.60 L402.12,328.60 L402.44,328.60 L402.76,328.60 L403.09,328.60 L403.41,328.60 L403.73,328.60 L404.05,328.60 L404.38,328.60 L404.70,328.60 L405.02,328.60 L405.35,328.60 L405.67,328.60 L405.99,328.60 L406.31,328.60 L406.64,328.60 L406.96,328.60 L407.28,328.60 L407.61,328.60 L407.93,328.60 L408.25,328.60 L408.57,328.60 L408.90,328.60 L409.22,328.60 L409.54,328.60 L409.87,328.60 L410.19,328.60 L410.51,328.60 L410.84,328.60 L411.16,328.60 L411.48,328.60 L411.80,328.60 L412.13,328.60 L412.45,328.60 L412.77,328.60 L413.10,328.60 L413.42,328.60 L413.74,328.60 L414.06,328.60 L414.39,328.60 L414.71,328.60 L415.03,328.60 L415.36,328.60 L415.68,328.60 L416.00,328.60 L416.32,328.60 L416.65,328.60 L416.97,328.60 L417.29,328.60 L417.62,328.60 L417.94,328.60 L418.26,328.60 L418.59,328.60 L418.91,328.60 L419.23,328.60 L419.55,328.60 L419.88,328.60 L420.20,328.60" stroke="#e02020" stroke-width="1.05" fill="none"/>
<path d="M342.70,340.69 L343.09,340.69 L343.47,340.68 L343.86,340.68 L344.25,340.68 L344.64,340.67 L345.02,340.67 L345.41,340.66 L345.80,340.66 L346.19,340.65 L346.57,340.65 L346.96,340.64 L347.35,340.63 L347.74,340.62 L348.12,340.61 L348.51,340.59 L348.90,340.58 L349.29,340.56 L349.68,340.54 L350.06,340.52 L350.45,340.50 L350.84,340.47 L351.22,340.44 L351.61,340.41 L352.00,340.37 L352.39,340.33 L352.77,340.28 L353.16,340.23 L353.55,340.17 L353.94,340.11 L354.32,340.04 L354.71,339.97 L355.10,339.88 L355.49,339.79 L355.88,339.69 L356.26,339.58 L356.65,339.46 L357.04,339.33 L357.43,339.19 L357.81,339.04 L358.20,338.87 L358.59,338.69 L358.97,338.50 L359.36,338.29 L359.75,338.07 L360.14,337.83 L360.52,337.57 L360.91,337.30 L361.30,337.01 L361.69,336.70 L362.07,336.37 L362.46,336.02 L362.85,335.65 L363.24,335.27 L363.62,334.86 L364.01,334.43 L364.40,333.99 L364.79,333.53 L365.18,333.04 L365.56,332.54 L365.95,332.02 L366.34,331.49 L366.72,330.94 L367.11,330.38 L367.50,329.81 L367.89,329.22 L368.27,328.63 L368.66,328.03 L369.05,327.43 L369.44,326.82 L369.82,326.22 L370.21,325.63 L370.60,325.04 L370.99,324.46 L371.38,323.89 L371.76,323.35 L372.15,322.82 L372.54,322.33 L372.93,321.86 L373.31,321.43 L373.70,321.03 L374.09,320.68 L374.47,320.38 L374.86,320.13 L375.25,319.95 L375.64,319.83 L376.02,319.82 L376.41,320.08 L376.80,320.66 L377.19,321.52 L377.57,322.62 L377.96,323.92 L378.35,325.37 L378.74,326.91 L379.12,328.49 L379.51,330.05 L379.90,331.55 L380.29,332.97 L380.68,334.26 L381.06,335.42 L381.45,336.44 L381.84,337.32 L382.22,338.05 L382.61,338.66 L383.00,339.15 L383.39,339.55 L383.77,339.85 L384.16,340.09 L384.55,340.26 L384.94,340.39 L385.32,340.49 L385.71,340.56 L386.10,340.60 L386.49,340.64 L386.88,340.66 L387.26,340.67 L387.65,340.68 L388.04,340.69 L388.43,340.69 L388.81,340.70 L389.20,340.70 L389.59,340.70 L389.97,340.70 L390.36,340.70 L390.75,340.70 L391.14,340.70 L391.52,340.70 L391.91,340.70 L392.30,340.70 L392.69,340.70 L393.07,340.70 L393.46,340.70 L393.85,340.70 L394.24,340.70 L394.62,340.70 L395.01,340.70 L395.40,340.70 L395.79,340.70 L396.18,340.70 L396.56,340.70 L396.95,340.70 L397.34,340.70 L397.72,340.70 L398.11,340.70 L398.50,340.70 L398.89,340.70 L399.27,340.70 L399.66,340.70 L400.05,340.70 L400.44,340.70 L400.82,340.70 L401.21,340.70 L401.60,340.70 L401.99,340.70 L402.38,340.70 L402.76,340.70 L403.15,340.70 L403.54,340.70 L403.93,340.70 L404.31,340.70 L404.70,340.70 L405.09,340.70 L405.47,340.70 L405.86,340.70 L406.25,340.70 L406.64,340.70 L407.02,340.70 L407.41,340.70 L407.80,340.70 L408.19,340.70 L408.57,340.70 L408.96,340.70 L409.35,340.70 L409.74,340.70 L410.12,340.70 L410.51,340.70 L410.90,340.70 L411.29,340.70 L411.67,340.70 L412.06,340.70 L412.45,340.70 L412.84,340.70 L413.23,340.70 L413.61,340.70 L414.00,340.70 L414.39,340.70 L414.77,340.70 L415.16,340.70 L415.55,340.70 L415.94,340.70 L416.32,340.70 L416.71,340.70 L417.10,340.70 L417.49,340.70 L417.88,340.70 L418.26,340.70 L418.65,340.70 L419.04,340.70 L419.42,340.70 L419.81,340.70 L420.20,340.70" stroke="#111" stroke-width="1.05" fill="none"/>
<path d="M342.70,350.50 L343.09,350.50 L343.47,350.50 L343.86,350.50 L344.25,350.50 L344.64,350.50 L345.02,350.50 L345.41,350.50 L345.80,350.50 L346.19,350.50 L346.57,350.50 L346.96,350.50 L347.35,350.50 L347.74,350.50 L348.12,350.50 L348.51,350.50 L348.90,350.50 L349.29,350.50 L349.68,350.50 L350.06,350.50 L350.45,350.49 L350.84,350.49 L351.22,350.49 L351.61,350.49 L352.00,350.49 L352.39,350.48 L352.77,350.48 L353.16,350.48 L353.55,350.47 L353.94,350.46 L354.32,350.46 L354.71,350.45 L355.10,350.44 L355.49,350.42 L355.88,350.41 L356.26,350.39 L356.65,350.37 L357.04,350.35 L357.43,350.32 L357.81,350.28 L358.20,350.25 L358.59,350.20 L358.97,350.15 L359.36,350.09 L359.75,350.02 L360.14,349.94 L360.52,349.85 L360.91,349.75 L361.30,349.63 L361.69,349.50 L362.07,349.36 L362.46,349.19 L362.85,349.01 L363.24,348.80 L363.62,348.57 L364.01,348.32 L364.40,348.04 L364.79,347.73 L365.18,347.39 L365.56,347.02 L365.95,346.62 L366.34,346.19 L366.72,345.72 L367.11,345.22 L367.50,344.68 L367.89,344.11 L368.27,343.51 L368.66,342.87 L369.05,342.20 L369.44,341.51 L369.82,340.78 L370.21,340.04 L370.60,339.27 L370.99,338.50 L371.38,337.71 L371.76,336.92 L372.15,336.14 L372.54,335.37 L372.93,334.62 L373.31,333.90 L373.70,333.22 L374.09,332.59 L374.47,332.01 L374.86,331.51 L375.25,331.09 L375.64,330.77 L376.02,330.56 L376.41,330.51 L376.80,330.72 L377.19,331.17 L377.57,331.86 L377.96,332.76 L378.35,333.83 L378.74,335.05 L379.12,336.36 L379.51,337.72 L379.90,339.10 L380.29,340.47 L380.68,341.79 L381.06,343.03 L381.45,344.17 L381.84,345.22 L382.22,346.14 L382.61,346.95 L383.00,347.65 L383.39,348.24 L383.77,348.73 L384.16,349.13 L384.55,349.46 L384.94,349.72 L385.32,349.92 L385.71,350.07 L386.10,350.19 L386.49,350.28 L386.88,350.34 L387.26,350.39 L387.65,350.43 L388.04,350.45 L388.43,350.47 L388.81,350.48 L389.20,350.49 L389.59,350.49 L389.97,350.49 L390.36,350.50 L390.75,350.50 L391.14,350.50 L391.52,350.50 L391.91,350.50 L392.30,350.50 L392.69,350.50 L393.07,350.50 L393.46,350.50 L393.85,350.50 L394.24,350.50 L394.62,350.50 L395.01,350.50 L395.40,350.50 L395.79,350.50 L396.18,350.50 L396.56,350.50 L396.95,350.50 L397.34,350.50 L397.72,350.50 L398.11,350.50 L398.50,350.50 L398.89,350.50 L399.27,350.50 L399.66,350.50 L400.05,350.50 L400.44,350.50 L400.82,350.50 L401.21,350.50 L401.60,350.50 L401.99,350.50 L402.38,350.50 L402.76,350.50 L403.15,350.50 L403.54,350.50 L403.93,350.50 L404.31,350.50 L404.70,350.50 L405.09,350.50 L405.47,350.50 L405.86,350.50 L406.25,350.50 L406.64,350.50 L407.02,350.50 L407.41,350.50 L407.80,350.50 L408.19,350.50 L408.57,350.50 L408.96,350.50 L409.35,350.50 L409.74,350.50 L410.12,350.50 L410.51,350.50 L410.90,350.50 L411.29,350.50 L411.67,350.50 L412.06,350.50 L412.45,350.50 L412.84,350.50 L413.23,350.50 L413.61,350.50 L414.00,350.50 L414.39,350.50 L414.77,350.50 L415.16,350.50 L415.55,350.50 L415.94,350.50 L416.32,350.50 L416.71,350.50 L417.10,350.50 L417.49,350.50 L417.88,350.50 L418.26,350.50 L418.65,350.50 L419.04,350.50 L419.42,350.50 L419.81,350.50 L420.20,350.50" stroke="#2828b0" stroke-width="1.05" fill="none"/>
<rect x="428.8" y="295.4" width="77.5" height="55.10000000000002" fill="none" stroke="#000" stroke-width="1"/>
<line x1="462.4" y1="295.4" x2="462.4" y2="350.5" stroke="#000" stroke-width="1"/>
<line x1="428.8" y1="350.5" x2="428.8" y2="352.0" stroke="#000" stroke-width="0.7"/>
<text x="427.3" y="354.5" font-size="3" text-anchor="start" fill="#000">10</text>
<line x1="447.40000000000003" y1="350.5" x2="447.40000000000003" y2="352.0" stroke="#000" stroke-width="0.7"/>
<text x="445.90000000000003" y="354.5" font-size="3" text-anchor="start" fill="#000">10</text>
<line x1="465.90000000000003" y1="350.5" x2="465.90000000000003" y2="352.0" stroke="#000" stroke-width="0.7"/>
<text x="464.40000000000003" y="354.5" font-size="3" text-anchor="start" fill="#000">10</text>
<line x1="485.40000000000003" y1="350.5" x2="485.40000000000003" y2="352.0" stroke="#000" stroke-width="0.7"/>
<text x="483.90000000000003" y="354.5" font-size="3" text-anchor="start" fill="#000">10</text>
<line x1="505.0" y1="350.5" x2="505.0" y2="352.0" stroke="#000" stroke-width="0.7"/>
<text x="503.5" y="354.5" font-size="3" text-anchor="start" fill="#000">10</text>
<text x="469" y="292.5" font-size="8.93" font-weight="bold" text-anchor="middle" fill="#000">NrasG12D/G12D</text>
<path d="M428.80,317.90 L429.06,317.89 L429.32,317.89 L429.57,317.89 L429.83,317.89 L430.09,317.89 L430.35,317.89 L430.61,317.89 L430.87,317.89 L431.12,317.89 L431.38,317.89 L431.64,317.88 L431.90,317.88 L432.16,317.88 L432.42,317.88 L432.68,317.88 L432.93,317.88 L433.19,317.87 L433.45,317.87 L433.71,317.87 L433.97,317.86 L434.23,317.86 L434.48,317.86 L434.74,317.85 L435.00,317.85 L435.26,317.84 L435.52,317.84 L435.78,317.83 L436.03,317.83 L436.29,317.82 L436.55,317.82 L436.81,317.81 L437.07,317.80 L437.32,317.79 L437.58,317.78 L437.84,317.77 L438.10,317.77 L438.36,317.75 L438.62,317.74 L438.88,317.73 L439.13,317.72 L439.39,317.71 L439.65,317.69 L439.91,317.68 L440.17,317.66 L440.43,317.64 L440.68,317.63 L440.94,317.61 L441.20,317.59 L441.46,317.57 L441.72,317.55 L441.98,317.53 L442.23,317.50 L442.49,317.48 L442.75,317.45 L443.01,317.43 L443.27,317.40 L443.53,317.37 L443.78,317.34 L444.04,317.31 L444.30,317.28 L444.56,317.24 L444.82,317.21 L445.07,317.17 L445.33,317.13 L445.59,317.10 L445.85,317.06 L446.11,317.02 L446.37,316.98 L446.62,316.93 L446.88,316.89 L447.14,316.85 L447.40,316.80 L447.66,316.75 L447.92,316.71 L448.18,316.66 L448.43,316.61 L448.69,316.56 L448.95,316.51 L449.21,316.46 L449.47,316.41 L449.73,316.36 L449.98,316.31 L450.24,316.26 L450.50,316.20 L450.76,316.15 L451.02,316.10 L451.28,316.05 L451.53,316.00 L451.79,315.95 L452.05,315.90 L452.31,315.85 L452.57,315.80 L452.82,315.75 L453.08,315.70 L453.34,315.66 L453.60,315.61 L453.86,315.57 L454.12,315.53 L454.38,315.49 L454.63,315.45 L454.89,315.41 L455.15,315.37 L455.41,315.34 L455.67,315.31 L455.93,315.28 L456.18,315.25 L456.44,315.22 L456.70,315.20 L456.96,315.18 L457.22,315.16 L457.48,315.14 L457.73,315.13 L457.99,315.12 L458.25,315.11 L458.51,315.10 L458.77,315.10 L459.03,315.10 L459.28,315.11 L459.54,315.15 L459.80,315.21 L460.06,315.29 L460.32,315.30 L460.57,314.88 L460.83,314.39 L461.09,313.84 L461.35,313.21 L461.61,312.50 L461.87,311.71 L462.12,310.83 L462.38,309.85 L462.64,308.77 L462.90,307.59 L463.16,306.31 L463.42,304.93 L463.68,303.48 L463.93,301.97 L464.19,300.44 L464.45,298.94 L464.71,297.60 L464.97,296.99 L465.23,297.81 L465.48,299.02 L465.74,300.43 L466.00,301.95 L466.26,303.50 L466.52,305.04 L466.78,306.52 L467.03,307.91 L467.29,309.21 L467.55,309.90 L467.81,310.09 L468.07,310.52 L468.32,311.15 L468.58,311.93 L468.84,312.80 L469.10,313.68 L469.36,314.53 L469.62,315.29 L469.88,315.95 L470.13,316.49 L470.39,316.91 L470.65,317.12 L470.91,317.27 L471.17,317.40 L471.43,317.51 L471.68,317.59 L471.94,317.66 L472.20,317.71 L472.46,317.75 L472.72,317.79 L472.98,317.81 L473.23,317.83 L473.49,317.85 L473.75,317.86 L474.01,317.87 L474.27,317.88 L474.53,317.88 L474.78,317.89 L475.04,317.89 L475.30,317.89 L475.56,317.89 L475.82,317.90 L476.07,317.90 L476.33,317.90 L476.59,317.90 L476.85,317.90 L477.11,317.90 L477.37,317.90 L477.62,317.90 L477.88,317.90 L478.14,317.90 L478.40,317.90 L478.66,317.90 L478.92,317.90 L479.18,317.90 L479.43,317.90 L479.69,317.90 L479.95,317.90 L480.21,317.90 L480.47,317.90 L480.73,317.90 L480.98,317.90 L481.24,317.90 L481.50,317.90 L481.76,317.90 L482.02,317.90 L482.28,317.90 L482.53,317.90 L482.79,317.90 L483.05,317.90 L483.31,317.90 L483.57,317.90 L483.82,317.90 L484.08,317.90 L484.34,317.90 L484.60,317.90 L484.86,317.90 L485.12,317.90 L485.38,317.90 L485.63,317.90 L485.89,317.90 L486.15,317.90 L486.41,317.90 L486.67,317.90 L486.93,317.90 L487.18,317.90 L487.44,317.90 L487.70,317.90 L487.96,317.90 L488.22,317.90 L488.48,317.90 L488.73,317.90 L488.99,317.90 L489.25,317.90 L489.51,317.90 L489.77,317.90 L490.03,317.90 L490.28,317.90 L490.54,317.90 L490.80,317.90 L491.06,317.90 L491.32,317.90 L491.57,317.90 L491.83,317.90 L492.09,317.90 L492.35,317.90 L492.61,317.90 L492.87,317.90 L493.12,317.90 L493.38,317.90 L493.64,317.90 L493.90,317.90 L494.16,317.90 L494.42,317.90 L494.68,317.90 L494.93,317.90 L495.19,317.90 L495.45,317.90 L495.71,317.90 L495.97,317.90 L496.23,317.90 L496.48,317.90 L496.74,317.90 L497.00,317.90 L497.26,317.90 L497.52,317.90 L497.77,317.90 L498.03,317.90 L498.29,317.90 L498.55,317.90 L498.81,317.90 L499.07,317.90 L499.33,317.90 L499.58,317.90 L499.84,317.90 L500.10,317.90 L500.36,317.90 L500.62,317.90 L500.88,317.90 L501.13,317.90 L501.39,317.90 L501.65,317.90 L501.91,317.90 L502.17,317.90 L502.43,317.90 L502.68,317.90 L502.94,317.90 L503.20,317.90 L503.46,317.90 L503.72,317.90 L503.98,317.90 L504.23,317.90 L504.49,317.90 L504.75,317.90 L505.01,317.90 L505.27,317.90 L505.52,317.90 L505.78,317.90 L506.04,317.90 L506.30,317.90" stroke="#111" stroke-width="1.05" fill="none"/>
<path d="M428.80,328.92 L429.06,328.92 L429.32,328.91 L429.57,328.90 L429.83,328.90 L430.09,328.89 L430.35,328.88 L430.61,328.87 L430.87,328.86 L431.12,328.85 L431.38,328.84 L431.64,328.83 L431.90,328.82 L432.16,328.80 L432.42,328.79 L432.68,328.77 L432.93,328.76 L433.19,328.74 L433.45,328.72 L433.71,328.71 L433.97,328.68 L434.23,328.66 L434.48,328.64 L434.74,328.62 L435.00,328.59 L435.26,328.56 L435.52,328.54 L435.78,328.51 L436.03,328.47 L436.29,328.44 L436.55,328.40 L436.81,328.37 L437.07,328.33 L437.32,328.29 L437.58,328.24 L437.84,328.20 L438.10,328.15 L438.36,328.10 L438.62,328.04 L438.88,327.99 L439.13,327.93 L439.39,327.87 L439.65,327.80 L439.91,327.73 L440.17,327.66 L440.43,327.59 L440.68,327.51 L440.94,327.43 L441.20,327.35 L441.46,327.26 L441.72,327.17 L441.98,327.07 L442.23,326.97 L442.49,326.87 L442.75,326.76 L443.01,326.65 L443.27,326.53 L443.53,326.41 L443.78,326.29 L444.04,326.16 L444.30,326.02 L444.56,325.89 L444.82,325.74 L445.07,325.59 L445.33,325.44 L445.59,325.28 L445.85,325.12 L446.11,324.95 L446.37,324.78 L446.62,324.60 L446.88,324.42 L447.14,324.23 L447.40,324.04 L447.66,323.85 L447.92,323.64 L448.18,323.44 L448.43,323.23 L448.69,323.01 L448.95,322.79 L449.21,322.56 L449.47,322.33 L449.73,322.10 L449.98,321.86 L450.24,321.62 L450.50,321.38 L450.76,321.13 L451.02,320.88 L451.28,320.62 L451.53,320.36 L451.79,320.10 L452.05,319.84 L452.31,319.57 L452.57,319.30 L452.82,319.03 L453.08,318.76 L453.34,318.49 L453.60,318.22 L453.86,317.95 L454.12,317.68 L454.38,317.41 L454.63,317.14 L454.89,316.87 L455.15,316.60 L455.41,316.34 L455.67,316.08 L455.93,315.82 L456.18,315.56 L456.44,315.31 L456.70,315.07 L456.96,314.83 L457.22,314.59 L457.48,314.36 L457.73,314.14 L457.99,313.93 L458.25,313.72 L458.51,313.52 L458.77,313.33 L459.03,313.15 L459.28,312.99 L459.54,312.83 L459.80,312.68 L460.06,312.55 L460.32,312.42 L460.57,312.31 L460.83,312.22 L461.09,312.14 L461.35,312.08 L461.61,312.03 L461.87,312.00 L462.12,311.70 L462.38,311.49 L462.64,311.29 L462.90,311.12 L463.16,310.98 L463.42,310.87 L463.68,310.80 L463.93,310.77 L464.19,310.78 L464.45,310.83 L464.71,310.91 L464.97,311.01 L465.23,311.14 L465.48,311.27 L465.74,311.41 L466.00,311.53 L466.26,311.64 L466.52,311.72 L466.78,311.77 L467.03,311.78 L467.29,311.76 L467.55,311.69 L467.81,311.58 L468.07,311.44 L468.32,311.27 L468.58,311.08 L468.84,310.87 L469.10,310.66 L469.36,310.45 L469.62,310.25 L469.88,310.08 L470.13,309.93 L470.39,309.83 L470.65,309.75 L470.91,309.72 L471.17,309.73 L471.43,309.78 L471.68,309.86 L471.94,309.96 L472.20,310.09 L472.46,310.22 L472.72,310.36 L472.98,310.48 L473.23,310.59 L473.49,310.67 L473.75,310.72 L474.01,309.50 L474.27,309.50 L474.53,309.50 L474.78,309.50 L475.04,309.50 L475.30,309.50 L475.56,309.50 L475.82,309.47 L476.07,309.40 L476.33,309.44 L476.59,309.54 L476.85,309.74 L477.11,310.03 L477.37,310.44 L477.62,310.95 L477.88,311.57 L478.14,312.29 L478.40,313.11 L478.66,314.01 L478.92,314.98 L479.18,316.00 L479.43,317.06 L479.69,318.13 L479.95,319.21 L480.21,320.26 L480.47,321.28 L480.73,322.25 L480.98,323.17 L481.24,324.01 L481.50,324.78 L481.76,325.47 L482.02,326.08 L482.28,326.62 L482.53,327.08 L482.79,327.47 L483.05,327.79 L483.31,328.06 L483.57,328.28 L483.82,328.45 L484.08,328.59 L484.34,328.70 L484.60,328.78 L484.86,328.84 L485.12,328.89 L485.38,328.92 L485.63,328.95 L485.89,328.96 L486.15,328.98 L486.41,328.98 L486.67,328.99 L486.93,328.99 L487.18,329.00 L487.44,329.00 L487.70,329.00 L487.96,329.00 L488.22,329.00 L488.48,329.00 L488.73,329.00 L488.99,329.00 L489.25,329.00 L489.51,329.00 L489.77,329.00 L490.03,329.00 L490.28,329.00 L490.54,329.00 L490.80,329.00 L491.06,329.00 L491.32,329.00 L491.57,329.00 L491.83,329.00 L492.09,329.00 L492.35,329.00 L492.61,329.00 L492.87,329.00 L493.12,329.00 L493.38,329.00 L493.64,329.00 L493.90,329.00 L494.16,329.00 L494.42,329.00 L494.68,329.00 L494.93,329.00 L495.19,329.00 L495.45,329.00 L495.71,329.00 L495.97,329.00 L496.23,329.00 L496.48,329.00 L496.74,329.00 L497.00,329.00 L497.26,329.00 L497.52,329.00 L497.77,329.00 L498.03,329.00 L498.29,329.00 L498.55,329.00 L498.81,329.00 L499.07,329.00 L499.33,329.00 L499.58,329.00 L499.84,329.00 L500.10,329.00 L500.36,329.00 L500.62,329.00 L500.88,329.00 L501.13,329.00 L501.39,329.00 L501.65,329.00 L501.91,329.00 L502.17,329.00 L502.43,329.00 L502.68,329.00 L502.94,329.00 L503.20,329.00 L503.46,329.00 L503.72,329.00 L503.98,329.00 L504.23,329.00 L504.49,329.00 L504.75,329.00 L505.01,329.00 L505.27,329.00 L505.52,329.00 L505.78,329.00 L506.04,329.00 L506.30,329.00" stroke="#e02020" stroke-width="1.05" fill="none"/>
<path d="M428.80,340.63 L429.19,340.62 L429.57,340.61 L429.96,340.60 L430.35,340.58 L430.74,340.57 L431.12,340.56 L431.51,340.54 L431.90,340.52 L432.29,340.50 L432.68,340.48 L433.06,340.46 L433.45,340.43 L433.84,340.41 L434.23,340.38 L434.61,340.34 L435.00,340.31 L435.39,340.27 L435.78,340.22 L436.16,340.17 L436.55,340.12 L436.94,340.07 L437.32,340.01 L437.71,339.94 L438.10,339.87 L438.49,339.79 L438.88,339.71 L439.26,339.62 L439.65,339.53 L440.04,339.42 L440.43,339.31 L440.81,339.19 L441.20,339.06 L441.59,338.93 L441.98,338.78 L442.36,338.63 L442.75,338.46 L443.14,338.28 L443.53,338.10 L443.91,337.90 L444.30,337.69 L444.69,337.46 L445.07,337.23 L445.46,336.98 L445.85,336.71 L446.24,336.44 L446.62,336.15 L447.01,335.84 L447.40,335.52 L447.79,335.19 L448.18,334.84 L448.56,334.48 L448.95,334.10 L449.34,333.71 L449.73,333.31 L450.11,332.89 L450.50,332.46 L450.89,332.01 L451.28,331.55 L451.66,331.08 L452.05,330.60 L452.44,330.11 L452.82,329.61 L453.21,329.10 L453.60,328.59 L453.99,328.06 L454.38,327.54 L454.76,327.01 L455.15,326.49 L455.54,325.96 L455.93,325.44 L456.31,324.92 L456.70,324.41 L457.09,323.91 L457.48,323.43 L457.86,322.95 L458.25,322.50 L458.64,322.07 L459.03,321.66 L459.41,321.28 L459.80,320.94 L460.19,320.62 L460.57,320.35 L460.96,320.12 L461.35,319.95 L461.74,319.83 L462.12,319.83 L462.51,320.22 L462.90,321.07 L463.29,322.31 L463.68,323.87 L464.06,325.65 L464.45,327.55 L464.84,329.47 L465.23,331.33 L465.61,333.06 L466.00,334.62 L466.39,335.97 L466.78,337.10 L467.16,338.03 L467.55,338.76 L467.94,339.32 L468.32,339.75 L468.71,340.05 L469.10,340.27 L469.49,340.42 L469.88,340.53 L470.26,340.59 L470.65,340.64 L471.04,340.66 L471.43,340.68 L471.81,340.69 L472.20,340.69 L472.59,340.70 L472.98,340.70 L473.36,340.70 L473.75,340.70 L474.14,340.70 L474.53,340.70 L474.91,340.70 L475.30,340.70 L475.69,340.70 L476.07,340.70 L476.46,340.70 L476.85,340.70 L477.24,340.70 L477.62,340.70 L478.01,340.70 L478.40,340.70 L478.79,340.70 L479.18,340.70 L479.56,340.70 L479.95,340.70 L480.34,340.70 L480.73,340.70 L481.11,340.70 L481.50,340.70 L481.89,340.70 L482.28,340.70 L482.66,340.70 L483.05,340.70 L483.44,340.70 L483.82,340.70 L484.21,340.70 L484.60,340.70 L484.99,340.70 L485.38,340.70 L485.76,340.70 L486.15,340.70 L486.54,340.70 L486.93,340.70 L487.31,340.70 L487.70,340.70 L488.09,340.70 L488.48,340.70 L488.86,340.70 L489.25,340.70 L489.64,340.70 L490.03,340.70 L490.41,340.70 L490.80,340.70 L491.19,340.70 L491.57,340.70 L491.96,340.70 L492.35,340.70 L492.74,340.70 L493.12,340.70 L493.51,340.70 L493.90,340.70 L494.29,340.70 L494.68,340.70 L495.06,340.70 L495.45,340.70 L495.84,340.70 L496.23,340.70 L496.61,340.70 L497.00,340.70 L497.39,340.70 L497.77,340.70 L498.16,340.70 L498.55,340.70 L498.94,340.70 L499.33,340.70 L499.71,340.70 L500.10,340.70 L500.49,340.70 L500.88,340.70 L501.26,340.70 L501.65,340.70 L502.04,340.70 L502.43,340.70 L502.81,340.70 L503.20,340.70 L503.59,340.70 L503.98,340.70 L504.36,340.70 L504.75,340.70 L505.14,340.70 L505.52,340.70 L505.91,340.70 L506.30,340.70" stroke="#111" stroke-width="1.05" fill="none"/>
<path d="M428.80,351.00 L429.19,351.00 L429.57,351.00 L429.96,351.00 L430.35,351.00 L430.74,351.00 L431.12,351.00 L431.51,351.00 L431.90,351.00 L432.29,351.00 L432.68,351.00 L433.06,351.00 L433.45,350.99 L433.84,350.99 L434.23,350.99 L434.61,350.99 L435.00,350.99 L435.39,350.99 L435.78,350.98 L436.16,350.98 L436.55,350.98 L436.94,350.97 L437.32,350.97 L437.71,350.96 L438.10,350.95 L438.49,350.94 L438.88,350.93 L439.26,350.92 L439.65,350.90 L440.04,350.89 L440.43,350.87 L440.81,350.84 L441.20,350.82 L441.59,350.79 L441.98,350.75 L442.36,350.71 L442.75,350.66 L443.14,350.61 L443.53,350.55 L443.91,350.48 L444.30,350.41 L444.69,350.32 L445.07,350.22 L445.46,350.11 L445.85,349.99 L446.24,349.85 L446.62,349.70 L447.01,349.53 L447.40,349.34 L447.79,349.13 L448.18,348.90 L448.56,348.65 L448.95,348.38 L449.34,348.08 L449.73,347.75 L450.11,347.40 L450.50,347.01 L450.89,346.60 L451.28,346.16 L451.66,345.69 L452.05,345.19 L452.44,344.65 L452.82,344.09 L453.21,343.50 L453.60,342.88 L453.99,342.23 L454.38,341.56 L454.76,340.87 L455.15,340.16 L455.54,339.44 L455.93,338.71 L456.31,337.97 L456.70,337.23 L457.09,336.50 L457.48,335.79 L457.86,335.09 L458.25,334.43 L458.64,333.80 L459.03,333.23 L459.41,332.71 L459.80,332.26 L460.19,331.90 L460.57,331.63 L460.96,331.50 L461.35,331.68 L461.74,332.30 L462.12,333.31 L462.51,334.66 L462.90,336.24 L463.29,337.98 L463.68,339.77 L464.06,341.54 L464.45,343.22 L464.84,344.74 L465.23,346.08 L465.61,347.22 L466.00,348.17 L466.39,348.92 L466.78,349.51 L467.16,349.96 L467.55,350.29 L467.94,350.52 L468.32,350.69 L468.71,350.80 L469.10,350.88 L469.49,350.92 L469.88,350.96 L470.26,350.97 L470.65,350.99 L471.04,350.99 L471.43,351.00 L471.81,351.00 L472.20,351.00 L472.59,351.00 L472.98,351.00 L473.36,351.00 L473.75,351.00 L474.14,351.00 L474.53,351.00 L474.91,351.00 L475.30,351.00 L475.69,351.00 L476.07,351.00 L476.46,351.00 L476.85,351.00 L477.24,351.00 L477.62,351.00 L478.01,351.00 L478.40,351.00 L478.79,351.00 L479.18,351.00 L479.56,351.00 L479.95,351.00 L480.34,351.00 L480.73,351.00 L481.11,351.00 L481.50,351.00 L481.89,351.00 L482.28,351.00 L482.66,351.00 L483.05,351.00 L483.44,351.00 L483.82,351.00 L484.21,351.00 L484.60,351.00 L484.99,351.00 L485.38,351.00 L485.76,351.00 L486.15,351.00 L486.54,351.00 L486.93,351.00 L487.31,351.00 L487.70,351.00 L488.09,351.00 L488.48,351.00 L488.86,351.00 L489.25,351.00 L489.64,351.00 L490.03,351.00 L490.41,351.00 L490.80,351.00 L491.19,351.00 L491.57,351.00 L491.96,351.00 L492.35,351.00 L492.74,351.00 L493.12,351.00 L493.51,351.00 L493.90,351.00 L494.29,351.00 L494.68,351.00 L495.06,351.00 L495.45,351.00 L495.84,351.00 L496.23,351.00 L496.61,351.00 L497.00,351.00 L497.39,351.00 L497.77,351.00 L498.16,351.00 L498.55,351.00 L498.94,351.00 L499.33,351.00 L499.71,351.00 L500.10,351.00 L500.49,351.00 L500.88,351.00 L501.26,351.00 L501.65,351.00 L502.04,351.00 L502.43,351.00 L502.81,351.00 L503.20,351.00 L503.59,351.00 L503.98,351.00 L504.36,351.00 L504.75,351.00 L505.14,351.00 L505.52,351.00 L505.91,351.00 L506.30,351.00" stroke="#2828b0" stroke-width="1.05" fill="none"/>
<text x="342.7" y="368" font-size="8.8" font-weight="bold" text-anchor="start" fill="#000">p-ERK1/2</text>
<line x1="385.7" y1="365.5" x2="500" y2="365.5" stroke="#000" stroke-width="1"/>
<path d="M506.20,365.50 L498.40,361.90 L500.12,365.50 L498.40,369.10 Z" fill="#000"/>
<defs>
<filter id="bl1" x="-50%" y="-50%" width="200%" height="200%"><feGaussianBlur stdDeviation="2.2"/></filter>
<filter id="bl2" x="-50%" y="-50%" width="200%" height="200%"><feGaussianBlur stdDeviation="1.3"/></filter>
<filter id="bl3" x="-50%" y="-50%" width="200%" height="200%"><feGaussianBlur stdDeviation="0.8"/></filter>
<clipPath id="cpD"><rect x="37.3" y="411.5" width="61.2" height="60.6"/></clipPath>
</defs>
<g clip-path="url(#cpD)">
<rect x="78.2" y="445.1" width="1" height="1" fill="#4a68f0" stroke="none" stroke-width="1" opacity="0.35"/>
<rect x="78.4" y="438.5" width="1" height="1" fill="#4a68f0" stroke="none" stroke-width="1" opacity="0.35"/>
<rect x="73.5" y="439.3" width="1" height="1" fill="#4a68f0" stroke="none" stroke-width="1" opacity="0.35"/>
<rect x="87.8" y="444.4" width="1" height="1" fill="#4a68f0" stroke="none" stroke-width="1" opacity="0.35"/>
<rect x="87.3" y="443.0" width="1" height="1" fill="#4a68f0" stroke="none" stroke-width="1" opacity="0.35"/>
<rect x="82.8" y="442.5" width="1" height="1" fill="#4a68f0" stroke="none" stroke-width="1" opacity="0.35"/>
<rect x="68.3" y="447.8" width="1" height="1" fill="#4a68f0" stroke="none" stroke-width="1" opacity="0.35"/>
<rect x="83.5" y="445.0" width="1" height="1" fill="#4a68f0" stroke="none" stroke-width="1" opacity="0.35"/>
<rect x="68.2" y="427.0" width="1" height="1" fill="#4a68f0" stroke="none" stroke-width="1" opacity="0.35"/>
<rect x="73.8" y="437.3" width="1" height="1" fill="#4a68f0" stroke="none" stroke-width="1" opacity="0.35"/>
<rect x="82.1" y="440.6" width="1" height="1" fill="#4a68f0" stroke="none" stroke-width="1" opacity="0.35"/>
<rect x="83.6" y="435.9" width="1" height="1" fill="#4a68f0" stroke="none" stroke-width="1" opacity="0.35"/>
<rect x="82.2" y="444.2" width="1" height="1" fill="#4a68f0" stroke="none" stroke-width="1" opacity="0.35"/>
<rect x="75.4" y="454.7" width="1" height="1" fill="#4a68f0" stroke="none" stroke-width="1" opacity="0.35"/>
<rect x="83.9" y="450.6" width="1" height="1" fill="#4a68f0" stroke="none" stroke-width="1" opacity="0.35"/>
<rect x="75.7" y="435.1" width="1" height="1" fill="#4a68f0" stroke="none" stroke-width="1" opacity="0.35"/>
<rect x="77.6" y="440.1" width="1" height="1" fill="#4a68f0" stroke="none" stroke-width="1" opacity="0.35"/>
<rect x="84.4" y="443.0" width="1" height="1" fill="#4a68f0" stroke="none" stroke-width="1" opacity="0.35"/>
<rect x="76.9" y="433.3" width="1" height="1" fill="#4a68f0" stroke="none" stroke-width="1" opacity="0.35"/>
<rect x="76.4" y="450.8" width="1" height="1" fill="#4a68f0" stroke="none" stroke-width="1" opacity="0.35"/>
<rect x="74.3" y="443.0" width="1" height="1" fill="#4a68f0" stroke="none" stroke-width="1" opacity="0.35"/>
<rect x="83.0" y="429.1" width="1" height="1" fill="#4a68f0" stroke="none" stroke-width="1" opacity="0.35"/>
<rect x="80.3" y="451.4" width="1" height="1" fill="#4a68f0" stroke="none" stroke-width="1" opacity="0.35"/>
<rect x="65.9" y="438.4" width="1" height="1" fill="#4a68f0" stroke="none" stroke-width="1" opacity="0.35"/>
<rect x="79.3" y="434.5" width="1" height="1" fill="#4a68f0" stroke="none" stroke-width="1" opacity="0.35"/>
<rect x="83.5" y="440.5" width="1" height="1" fill="#4a68f0" stroke="none" stroke-width="1" opacity="0.35"/>
<rect x="69.7" y="447.6" width="1" height="1" fill="#4a68f0" stroke="none" stroke-width="1" opacity="0.35"/>
<rect x="84.7" y="448.6" width="1" height="1" fill="#4a68f0" stroke="none" stroke-width="1" opacity="0.35"/>
<rect x="90.1" y="443.9" width="1" height="1" fill="#4a68f0" stroke="none" stroke-width="1" opacity="0.35"/>
<rect x="80.8" y="430.6" width="1" height="1" fill="#4a68f0" stroke="none" stroke-width="1" opacity="0.35"/>
<rect x="84.3" y="436.1" width="1" height="1" fill="#4a68f0" stroke="none" stroke-width="1" opacity="0.35"/>
<rect x="76.8" y="430.9" width="1" height="1" fill="#4a68f0" stroke="none" stroke-width="1" opacity="0.35"/>
<rect x="73.2" y="436.8" width="1" height="1" fill="#4a68f0" stroke="none" stroke-width="1" opacity="0.35"/>
<rect x="89.0" y="424.7" width="1" height="1" fill="#4a68f0" stroke="none" stroke-width="1" opacity="0.35"/>
<rect x="69.8" y="442.9" width="1" height="1" fill="#4a68f0" stroke="none" stroke-width="1" opacity="0.35"/>
<rect x="90.1" y="445.6" width="1" height="1" fill="#4a68f0" stroke="none" stroke-width="1" opacity="0.35"/>
<rect x="82.5" y="435.1" width="1" height="1" fill="#4a68f0" stroke="none" stroke-width="1" opacity="0.35"/>
<rect x="72.2" y="448.8" width="1" height="1" fill="#4a68f0" stroke="none" stroke-width="1" opacity="0.35"/>
<rect x="87.7" y="442.3" width="1" height="1" fill="#4a68f0" stroke="none" stroke-width="1" opacity="0.35"/>
<rect x="81.7" y="444.5" width="1" height="1" fill="#4a68f0" stroke="none" stroke-width="1" opacity="0.35"/>
<rect x="91.2" y="446.0" width="1" height="1" fill="#4a68f0" stroke="none" stroke-width="1" opacity="0.35"/>
<rect x="83.6" y="445.4" width="1" height="1" fill="#4a68f0" stroke="none" stroke-width="1" opacity="0.35"/>
<rect x="69.0" y="451.3" width="1" height="1" fill="#4a68f0" stroke="none" stroke-width="1" opacity="0.35"/>
<rect x="86.7" y="445.2" width="1" height="1" fill="#4a68f0" stroke="none" stroke-width="1" opacity="0.35"/>
<rect x="66.2" y="435.9" width="1" height="1" fill="#4a68f0" stroke="none" stroke-width="1" opacity="0.35"/>
<rect x="85.9" y="426.5" width="1" height="1" fill="#4a68f0" stroke="none" stroke-width="1" opacity="0.35"/>
<rect x="78.7" y="449.2" width="1" height="1" fill="#4a68f0" stroke="none" stroke-width="1" opacity="0.35"/>
<rect x="70.8" y="453.9" width="1" height="1" fill="#4a68f0" stroke="none" stroke-width="1" opacity="0.35"/>
<rect x="83.9" y="439.8" width="1" height="1" fill="#4a68f0" stroke="none" stroke-width="1" opacity="0.35"/>
<rect x="82.3" y="446.2" width="1" height="1" fill="#4a68f0" stroke="none" stroke-width="1" opacity="0.35"/>
<rect x="80.8" y="450.2" width="1" height="1" fill="#4a68f0" stroke="none" stroke-width="1" opacity="0.35"/>
<rect x="75.4" y="437.7" width="1" height="1" fill="#4a68f0" stroke="none" stroke-width="1" opacity="0.35"/>
<rect x="87.3" y="441.2" width="1" height="1" fill="#4a68f0" stroke="none" stroke-width="1" opacity="0.35"/>
<rect x="73.8" y="448.6" width="1" height="1" fill="#4a68f0" stroke="none" stroke-width="1" opacity="0.35"/>
<rect x="90.3" y="437.4" width="1" height="1" fill="#4a68f0" stroke="none" stroke-width="1" opacity="0.35"/>
<rect x="70.3" y="439.9" width="1" height="1" fill="#4a68f0" stroke="none" stroke-width="1" opacity="0.35"/>
<rect x="79.0" y="438.6" width="1" height="1" fill="#4a68f0" stroke="none" stroke-width="1" opacity="0.35"/>
<rect x="89.8" y="432.8" width="1" height="1" fill="#4a68f0" stroke="none" stroke-width="1" opacity="0.35"/>
<rect x="88.8" y="430.9" width="1" height="1" fill="#4a68f0" stroke="none" stroke-width="1" opacity="0.35"/>
<rect x="74.5" y="446.1" width="1" height="1" fill="#4a68f0" stroke="none" stroke-width="1" opacity="0.35"/>
<rect x="87.9" y="447.9" width="1" height="1" fill="#4a68f0" stroke="none" stroke-width="1" opacity="0.35"/>
<rect x="82.4" y="442.1" width="1" height="1" fill="#4a68f0" stroke="none" stroke-width="1" opacity="0.35"/>
<rect x="81.1" y="445.6" width="1" height="1" fill="#4a68f0" stroke="none" stroke-width="1" opacity="0.35"/>
<rect x="78.8" y="443.2" width="1" height="1" fill="#4a68f0" stroke="none" stroke-width="1" opacity="0.35"/>
<rect x="84.0" y="441.0" width="1" height="1" fill="#4a68f0" stroke="none" stroke-width="1" opacity="0.35"/>
<rect x="85.3" y="445.5" width="1" height="1" fill="#4a68f0" stroke="none" stroke-width="1" opacity="0.35"/>
<rect x="94.1" y="443.6" width="1" height="1" fill="#4a68f0" stroke="none" stroke-width="1" opacity="0.35"/>
<rect x="77.0" y="438.0" width="1" height="1" fill="#4a68f0" stroke="none" stroke-width="1" opacity="0.35"/>
<rect x="79.9" y="448.4" width="1" height="1" fill="#4a68f0" stroke="none" stroke-width="1" opacity="0.35"/>
<rect x="77.6" y="444.1" width="1" height="1" fill="#4a68f0" stroke="none" stroke-width="1" opacity="0.35"/>
<rect x="72.1" y="443.0" width="1" height="1" fill="#4a68f0" stroke="none" stroke-width="1" opacity="0.35"/>
<rect x="82.8" y="442.9" width="1" height="1" fill="#4a68f0" stroke="none" stroke-width="1" opacity="0.35"/>
<rect x="77.0" y="446.2" width="1" height="1" fill="#4a68f0" stroke="none" stroke-width="1" opacity="0.35"/>
<rect x="82.0" y="436.8" width="1" height="1" fill="#4a68f0" stroke="none" stroke-width="1" opacity="0.35"/>
<rect x="76.1" y="440.2" width="1" height="1" fill="#4a68f0" stroke="none" stroke-width="1" opacity="0.35"/>
<rect x="78.4" y="440.5" width="1" height="1" fill="#4a68f0" stroke="none" stroke-width="1" opacity="0.35"/>
<rect x="60.9" y="437.1" width="1" height="1" fill="#4a68f0" stroke="none" stroke-width="1" opacity="0.35"/>
<rect x="87.1" y="431.7" width="1" height="1" fill="#4a68f0" stroke="none" stroke-width="1" opacity="0.35"/>
<rect x="79.5" y="448.6" width="1" height="1" fill="#4a68f0" stroke="none" stroke-width="1" opacity="0.35"/>
<rect x="86.0" y="452.9" width="1" height="1" fill="#4a68f0" stroke="none" stroke-width="1" opacity="0.35"/>
<rect x="68.1" y="438.2" width="1" height="1" fill="#4a68f0" stroke="none" stroke-width="1" opacity="0.35"/>
<rect x="77.6" y="446.0" width="1" height="1" fill="#4a68f0" stroke="none" stroke-width="1" opacity="0.35"/>
<rect x="87.6" y="429.4" width="1" height="1" fill="#4a68f0" stroke="none" stroke-width="1" opacity="0.35"/>
<rect x="84.8" y="429.1" width="1" height="1" fill="#4a68f0" stroke="none" stroke-width="1" opacity="0.35"/>
<rect x="81.2" y="450.6" width="1" height="1" fill="#4a68f0" stroke="none" stroke-width="1" opacity="0.35"/>
<rect x="79.0" y="442.5" width="1" height="1" fill="#4a68f0" stroke="none" stroke-width="1" opacity="0.35"/>
<rect x="85.6" y="442.1" width="1" height="1" fill="#4a68f0" stroke="none" stroke-width="1" opacity="0.35"/>
<rect x="79.4" y="453.3" width="1" height="1" fill="#4a68f0" stroke="none" stroke-width="1" opacity="0.35"/>
<rect x="87.3" y="438.6" width="1" height="1" fill="#4a68f0" stroke="none" stroke-width="1" opacity="0.35"/>
<rect x="86.4" y="438.9" width="1" height="1" fill="#4a68f0" stroke="none" stroke-width="1" opacity="0.35"/>
<rect x="80.9" y="446.6" width="1" height="1" fill="#4a68f0" stroke="none" stroke-width="1" opacity="0.35"/>
<rect x="81.6" y="446.1" width="1" height="1" fill="#4a68f0" stroke="none" stroke-width="1" opacity="0.35"/>
<rect x="69.3" y="428.9" width="1" height="1" fill="#4a68f0" stroke="none" stroke-width="1" opacity="0.35"/>
<rect x="84.3" y="433.3" width="1" height="1" fill="#4a68f0" stroke="none" stroke-width="1" opacity="0.35"/>
<rect x="72.8" y="429.2" width="1" height="1" fill="#4a68f0" stroke="none" stroke-width="1" opacity="0.35"/>
<rect x="88.9" y="447.0" width="1" height="1" fill="#4a68f0" stroke="none" stroke-width="1" opacity="0.35"/>
<rect x="90.3" y="433.5" width="1" height="1" fill="#4a68f0" stroke="none" stroke-width="1" opacity="0.35"/>
<rect x="80.0" y="431.9" width="1" height="1" fill="#4a68f0" stroke="none" stroke-width="1" opacity="0.35"/>
<rect x="85.4" y="453.7" width="1" height="1" fill="#4a68f0" stroke="none" stroke-width="1" opacity="0.35"/>
<rect x="73.8" y="453.5" width="1" height="1" fill="#4a68f0" stroke="none" stroke-width="1" opacity="0.35"/>
<rect x="86.9" y="439.6" width="1" height="1" fill="#4a68f0" stroke="none" stroke-width="1" opacity="0.35"/>
<rect x="66.2" y="452.3" width="1" height="1" fill="#4a68f0" stroke="none" stroke-width="1" opacity="0.35"/>
<rect x="79.3" y="436.2" width="1" height="1" fill="#4a68f0" stroke="none" stroke-width="1" opacity="0.35"/>
<rect x="82.8" y="444.3" width="1" height="1" fill="#4a68f0" stroke="none" stroke-width="1" opacity="0.35"/>
<rect x="90.5" y="432.8" width="1" height="1" fill="#4a68f0" stroke="none" stroke-width="1" opacity="0.35"/>
<rect x="88.0" y="452.9" width="1" height="1" fill="#4a68f0" stroke="none" stroke-width="1" opacity="0.35"/>
<rect x="90.2" y="439.6" width="1" height="1" fill="#4a68f0" stroke="none" stroke-width="1" opacity="0.35"/>
<rect x="74.8" y="449.1" width="1" height="1" fill="#4a68f0" stroke="none" stroke-width="1" opacity="0.35"/>
<rect x="80.8" y="442.0" width="1" height="1" fill="#4a68f0" stroke="none" stroke-width="1" opacity="0.35"/>
<rect x="90.0" y="438.9" width="1" height="1" fill="#4a68f0" stroke="none" stroke-width="1" opacity="0.35"/>
<rect x="63.9" y="437.9" width="1" height="1" fill="#4a68f0" stroke="none" stroke-width="1" opacity="0.35"/>
<rect x="67.0" y="447.6" width="1" height="1" fill="#4a68f0" stroke="none" stroke-width="1" opacity="0.35"/>
<rect x="82.2" y="436.1" width="1" height="1" fill="#4a68f0" stroke="none" stroke-width="1" opacity="0.35"/>
<rect x="79.9" y="447.7" width="1" height="1" fill="#4a68f0" stroke="none" stroke-width="1" opacity="0.35"/>
<rect x="80.6" y="451.6" width="1" height="1" fill="#4a68f0" stroke="none" stroke-width="1" opacity="0.35"/>
<rect x="79.6" y="449.3" width="1" height="1" fill="#4a68f0" stroke="none" stroke-width="1" opacity="0.35"/>
<rect x="90.4" y="453.9" width="1" height="1" fill="#4a68f0" stroke="none" stroke-width="1" opacity="0.35"/>
<rect x="75.3" y="448.0" width="1" height="1" fill="#4a68f0" stroke="none" stroke-width="1" opacity="0.35"/>
<rect x="66.9" y="432.3" width="1" height="1" fill="#4a68f0" stroke="none" stroke-width="1" opacity="0.35"/>
<rect x="66.3" y="449.6" width="1" height="1" fill="#4a68f0" stroke="none" stroke-width="1" opacity="0.35"/>
<rect x="71.4" y="440.9" width="1" height="1" fill="#4a68f0" stroke="none" stroke-width="1" opacity="0.35"/>
<rect x="78.7" y="440.8" width="1" height="1" fill="#4a68f0" stroke="none" stroke-width="1" opacity="0.35"/>
<rect x="75.9" y="442.9" width="1" height="1" fill="#4a68f0" stroke="none" stroke-width="1" opacity="0.35"/>
<rect x="92.5" y="441.4" width="1" height="1" fill="#4a68f0" stroke="none" stroke-width="1" opacity="0.35"/>
<rect x="83.7" y="449.0" width="1" height="1" fill="#4a68f0" stroke="none" stroke-width="1" opacity="0.35"/>
<rect x="78.6" y="430.9" width="1" height="1" fill="#4a68f0" stroke="none" stroke-width="1" opacity="0.35"/>
<rect x="76.1" y="449.6" width="1" height="1" fill="#4a68f0" stroke="none" stroke-width="1" opacity="0.35"/>
<rect x="68.5" y="436.2" width="1" height="1" fill="#4a68f0" stroke="none" stroke-width="1" opacity="0.35"/>
<rect x="87.1" y="447.3" width="1" height="1" fill="#4a68f0" stroke="none" stroke-width="1" opacity="0.35"/>
<rect x="80.1" y="447.4" width="1" height="1" fill="#4a68f0" stroke="none" stroke-width="1" opacity="0.35"/>
<rect x="81.2" y="431.6" width="1" height="1" fill="#4a68f0" stroke="none" stroke-width="1" opacity="0.35"/>
<rect x="69.1" y="435.9" width="1" height="1" fill="#4a68f0" stroke="none" stroke-width="1" opacity="0.35"/>
<rect x="86.5" y="436.5" width="1" height="1" fill="#4a68f0" stroke="none" stroke-width="1" opacity="0.35"/>
<rect x="73.7" y="434.8" width="1" height="1" fill="#4a68f0" stroke="none" stroke-width="1" opacity="0.35"/>
<rect x="69.3" y="440.1" width="1" height="1" fill="#4a68f0" stroke="none" stroke-width="1" opacity="0.35"/>
<rect x="71.7" y="443.9" width="1" height="1" fill="#4a68f0" stroke="none" stroke-width="1" opacity="0.35"/>
<rect x="63.5" y="443.6" width="1" height="1" fill="#4a68f0" stroke="none" stroke-width="1" opacity="0.35"/>
<rect x="75.5" y="425.5" width="1" height="1" fill="#4a68f0" stroke="none" stroke-width="1" opacity="0.35"/>
<rect x="85.1" y="438.8" width="1" height="1" fill="#4a68f0" stroke="none" stroke-width="1" opacity="0.35"/>
<rect x="64.4" y="434.0" width="1" height="1" fill="#4a68f0" stroke="none" stroke-width="1" opacity="0.35"/>
<rect x="82.0" y="437.3" width="1" height="1" fill="#4a68f0" stroke="none" stroke-width="1" opacity="0.35"/>
<rect x="85.5" y="447.0" width="1" height="1" fill="#4a68f0" stroke="none" stroke-width="1" opacity="0.35"/>
<rect x="84.7" y="443.6" width="1" height="1" fill="#4a68f0" stroke="none" stroke-width="1" opacity="0.35"/>
<rect x="89.3" y="446.3" width="1" height="1" fill="#4a68f0" stroke="none" stroke-width="1" opacity="0.35"/>
<rect x="83.2" y="424.3" width="1" height="1" fill="#4a68f0" stroke="none" stroke-width="1" opacity="0.35"/>
<rect x="86.3" y="451.5" width="1" height="1" fill="#4a68f0" stroke="none" stroke-width="1" opacity="0.35"/>
<rect x="77.9" y="437.2" width="1" height="1" fill="#4a68f0" stroke="none" stroke-width="1" opacity="0.35"/>
<rect x="93.6" y="426.9" width="1" height="1" fill="#4a68f0" stroke="none" stroke-width="1" opacity="0.35"/>
<rect x="73.5" y="446.5" width="1" height="1" fill="#4a68f0" stroke="none" stroke-width="1" opacity="0.35"/>
<rect x="93.2" y="440.0" width="1" height="1" fill="#4a68f0" stroke="none" stroke-width="1" opacity="0.35"/>
<rect x="83.9" y="448.2" width="1" height="1" fill="#4a68f0" stroke="none" stroke-width="1" opacity="0.35"/>
<rect x="73.7" y="440.3" width="1" height="1" fill="#4a68f0" stroke="none" stroke-width="1" opacity="0.35"/>
<rect x="82.0" y="447.6" width="1" height="1" fill="#4a68f0" stroke="none" stroke-width="1" opacity="0.35"/>
<rect x="79.8" y="439.4" width="1" height="1" fill="#4a68f0" stroke="none" stroke-width="1" opacity="0.35"/>
<rect x="72.9" y="438.1" width="1" height="1" fill="#4a68f0" stroke="none" stroke-width="1" opacity="0.35"/>
<rect x="86.2" y="441.8" width="1" height="1" fill="#4a68f0" stroke="none" stroke-width="1" opacity="0.35"/>
<rect x="74.0" y="434.3" width="1" height="1" fill="#4a68f0" stroke="none" stroke-width="1" opacity="0.35"/>
<rect x="84.4" y="444.8" width="1" height="1" fill="#4a68f0" stroke="none" stroke-width="1" opacity="0.35"/>
<rect x="91.8" y="444.4" width="1" height="1" fill="#4a68f0" stroke="none" stroke-width="1" opacity="0.35"/>
<rect x="79.5" y="445.2" width="1" height="1" fill="#4a68f0" stroke="none" stroke-width="1" opacity="0.35"/>
<rect x="66.4" y="449.3" width="1" height="1" fill="#4a68f0" stroke="none" stroke-width="1" opacity="0.35"/>
<rect x="82.3" y="435.4" width="1" height="1" fill="#4a68f0" stroke="none" stroke-width="1" opacity="0.35"/>
<rect x="89.3" y="455.5" width="1" height="1" fill="#4a68f0" stroke="none" stroke-width="1" opacity="0.35"/>
<rect x="70.2" y="435.7" width="1" height="1" fill="#4a68f0" stroke="none" stroke-width="1" opacity="0.35"/>
<rect x="82.0" y="442.5" width="1" height="1" fill="#4a68f0" stroke="none" stroke-width="1" opacity="0.35"/>
<rect x="77.2" y="433.2" width="1" height="1" fill="#4a68f0" stroke="none" stroke-width="1" opacity="0.35"/>
<rect x="94.8" y="449.3" width="1" height="1" fill="#4a68f0" stroke="none" stroke-width="1" opacity="0.35"/>
<rect x="71.6" y="430.2" width="1" height="1" fill="#4a68f0" stroke="none" stroke-width="1" opacity="0.35"/>
<rect x="91.9" y="448.9" width="1" height="1" fill="#4a68f0" stroke="none" stroke-width="1" opacity="0.35"/>
<rect x="92.7" y="447.5" width="1" height="1" fill="#4a68f0" stroke="none" stroke-width="1" opacity="0.35"/>
<rect x="73.9" y="443.1" width="1" height="1" fill="#4a68f0" stroke="none" stroke-width="1" opacity="0.35"/>
<rect x="64.9" y="435.0" width="1" height="1" fill="#4a68f0" stroke="none" stroke-width="1" opacity="0.35"/>
<rect x="79.6" y="445.2" width="1" height="1" fill="#4a68f0" stroke="none" stroke-width="1" opacity="0.35"/>
<rect x="74.9" y="440.0" width="1" height="1" fill="#4a68f0" stroke="none" stroke-width="1" opacity="0.35"/>
<rect x="83.2" y="444.0" width="1" height="1" fill="#4a68f0" stroke="none" stroke-width="1" opacity="0.35"/>
<rect x="84.5" y="442.7" width="1" height="1" fill="#4a68f0" stroke="none" stroke-width="1" opacity="0.35"/>
<rect x="77.7" y="447.3" width="1" height="1" fill="#4a68f0" stroke="none" stroke-width="1" opacity="0.35"/>
<rect x="80.3" y="434.4" width="1" height="1" fill="#4a68f0" stroke="none" stroke-width="1" opacity="0.35"/>
<rect x="75.6" y="441.0" width="1" height="1" fill="#4a68f0" stroke="none" stroke-width="1" opacity="0.35"/>
<rect x="79.2" y="442.3" width="1" height="1" fill="#4a68f0" stroke="none" stroke-width="1" opacity="0.35"/>
<rect x="80.0" y="442.4" width="1" height="1" fill="#4a68f0" stroke="none" stroke-width="1" opacity="0.35"/>
<rect x="79.1" y="430.9" width="1" height="1" fill="#4a68f0" stroke="none" stroke-width="1" opacity="0.35"/>
<rect x="82.9" y="449.4" width="1" height="1" fill="#4a68f0" stroke="none" stroke-width="1" opacity="0.35"/>
<rect x="83.0" y="439.5" width="1" height="1" fill="#4a68f0" stroke="none" stroke-width="1" opacity="0.35"/>
<rect x="83.1" y="433.3" width="1" height="1" fill="#4a68f0" stroke="none" stroke-width="1" opacity="0.35"/>
<rect x="66.7" y="441.5" width="1" height="1" fill="#4a68f0" stroke="none" stroke-width="1" opacity="0.35"/>
<rect x="73.5" y="446.9" width="1" height="1" fill="#4a68f0" stroke="none" stroke-width="1" opacity="0.35"/>
<rect x="72.7" y="453.6" width="1" height="1" fill="#4a68f0" stroke="none" stroke-width="1" opacity="0.35"/>
<rect x="77.3" y="430.0" width="1" height="1" fill="#4a68f0" stroke="none" stroke-width="1" opacity="0.35"/>
<rect x="74.7" y="445.2" width="1" height="1" fill="#4a68f0" stroke="none" stroke-width="1" opacity="0.35"/>
<rect x="83.5" y="442.4" width="1" height="1" fill="#4a68f0" stroke="none" stroke-width="1" opacity="0.35"/>
<rect x="90.4" y="446.7" width="1" height="1" fill="#4a68f0" stroke="none" stroke-width="1" opacity="0.35"/>
<rect x="79.9" y="445.8" width="1" height="1" fill="#4a68f0" stroke="none" stroke-width="1" opacity="0.35"/>
<rect x="91.6" y="448.8" width="1" height="1" fill="#4a68f0" stroke="none" stroke-width="1" opacity="0.35"/>
<rect x="87.2" y="432.3" width="1" height="1" fill="#4a68f0" stroke="none" stroke-width="1" opacity="0.35"/>
<rect x="79.0" y="446.8" width="1" height="1" fill="#4a68f0" stroke="none" stroke-width="1" opacity="0.35"/>
<rect x="77.9" y="449.6" width="1" height="1" fill="#4a68f0" stroke="none" stroke-width="1" opacity="0.35"/>
<rect x="84.2" y="448.3" width="1" height="1" fill="#4a68f0" stroke="none" stroke-width="1" opacity="0.35"/>
<rect x="88.7" y="439.3" width="1" height="1" fill="#4a68f0" stroke="none" stroke-width="1" opacity="0.35"/>
<rect x="77.6" y="448.0" width="1" height="1" fill="#4a68f0" stroke="none" stroke-width="1" opacity="0.35"/>
<rect x="86.9" y="441.1" width="1" height="1" fill="#4a68f0" stroke="none" stroke-width="1" opacity="0.35"/>
<rect x="71.8" y="442.5" width="1" height="1" fill="#4a68f0" stroke="none" stroke-width="1" opacity="0.35"/>
<rect x="82.5" y="450.0" width="1" height="1" fill="#4a68f0" stroke="none" stroke-width="1" opacity="0.35"/>
<rect x="85.5" y="441.2" width="1" height="1" fill="#4a68f0" stroke="none" stroke-width="1" opacity="0.35"/>
<rect x="86.0" y="445.3" width="1" height="1" fill="#4a68f0" stroke="none" stroke-width="1" opacity="0.35"/>
<rect x="81.4" y="441.4" width="1" height="1" fill="#4a68f0" stroke="none" stroke-width="1" opacity="0.35"/>
<rect x="78.3" y="446.5" width="1" height="1" fill="#4a68f0" stroke="none" stroke-width="1" opacity="0.35"/>
<rect x="72.6" y="436.0" width="1" height="1" fill="#4a68f0" stroke="none" stroke-width="1" opacity="0.35"/>
<rect x="80.0" y="429.3" width="1" height="1" fill="#4a68f0" stroke="none" stroke-width="1" opacity="0.35"/>
<rect x="76.9" y="424.9" width="1" height="1" fill="#4a68f0" stroke="none" stroke-width="1" opacity="0.35"/>
<rect x="75.2" y="445.5" width="1" height="1" fill="#4a68f0" stroke="none" stroke-width="1" opacity="0.35"/>
<rect x="84.0" y="440.6" width="1" height="1" fill="#4a68f0" stroke="none" stroke-width="1" opacity="0.35"/>
<rect x="78.4" y="429.7" width="1" height="1" fill="#4a68f0" stroke="none" stroke-width="1" opacity="0.35"/>
<rect x="92.8" y="445.1" width="1" height="1" fill="#4a68f0" stroke="none" stroke-width="1" opacity="0.35"/>
<rect x="87.7" y="433.9" width="1" height="1" fill="#4a68f0" stroke="none" stroke-width="1" opacity="0.35"/>
<rect x="78.7" y="426.4" width="1" height="1" fill="#4a68f0" stroke="none" stroke-width="1" opacity="0.35"/>
<rect x="85.5" y="448.5" width="1" height="1" fill="#4a68f0" stroke="none" stroke-width="1" opacity="0.35"/>
<rect x="66.7" y="440.6" width="1" height="1" fill="#4a68f0" stroke="none" stroke-width="1" opacity="0.35"/>
<rect x="84.4" y="426.9" width="1" height="1" fill="#4a68f0" stroke="none" stroke-width="1" opacity="0.35"/>
<rect x="67.2" y="432.5" width="1" height="1" fill="#4a68f0" stroke="none" stroke-width="1" opacity="0.35"/>
<rect x="75.6" y="429.8" width="1" height="1" fill="#4a68f0" stroke="none" stroke-width="1" opacity="0.35"/>
<rect x="80.2" y="443.0" width="1" height="1" fill="#4a68f0" stroke="none" stroke-width="1" opacity="0.35"/>
<rect x="84.4" y="446.6" width="1" height="1" fill="#4a68f0" stroke="none" stroke-width="1" opacity="0.35"/>
<rect x="90.5" y="450.3" width="1" height="1" fill="#4a68f0" stroke="none" stroke-width="1" opacity="0.35"/>
<rect x="70.8" y="437.0" width="1" height="1" fill="#4a68f0" stroke="none" stroke-width="1" opacity="0.35"/>
<rect x="72.6" y="432.4" width="1" height="1" fill="#4a68f0" stroke="none" stroke-width="1" opacity="0.35"/>
<rect x="79.4" y="441.0" width="1" height="1" fill="#4a68f0" stroke="none" stroke-width="1" opacity="0.35"/>
<rect x="83.4" y="428.3" width="1" height="1" fill="#4a68f0" stroke="none" stroke-width="1" opacity="0.35"/>
<rect x="71.3" y="440.8" width="1" height="1" fill="#4a68f0" stroke="none" stroke-width="1" opacity="0.35"/>
<rect x="78.6" y="438.5" width="1" height="1" fill="#4a68f0" stroke="none" stroke-width="1" opacity="0.35"/>
<rect x="79.6" y="434.9" width="1" height="1" fill="#4a68f0" stroke="none" stroke-width="1" opacity="0.35"/>
<rect x="84.9" y="443.8" width="1" height="1" fill="#4a68f0" stroke="none" stroke-width="1" opacity="0.35"/>
<rect x="79.4" y="435.6" width="1" height="1" fill="#4a68f0" stroke="none" stroke-width="1" opacity="0.35"/>
<rect x="73.1" y="441.3" width="1" height="1" fill="#4a68f0" stroke="none" stroke-width="1" opacity="0.35"/>
<rect x="69.5" y="442.6" width="1" height="1" fill="#4a68f0" stroke="none" stroke-width="1" opacity="0.35"/>
<rect x="81.0" y="430.0" width="1" height="1" fill="#4a68f0" stroke="none" stroke-width="1" opacity="0.35"/>
<rect x="78.2" y="438.5" width="1" height="1" fill="#4a68f0" stroke="none" stroke-width="1" opacity="0.35"/>
<rect x="83.2" y="445.9" width="1" height="1" fill="#4a68f0" stroke="none" stroke-width="1" opacity="0.35"/>
<rect x="79.7" y="434.2" width="1" height="1" fill="#4a68f0" stroke="none" stroke-width="1" opacity="0.35"/>
<rect x="79.0" y="440.5" width="1" height="1" fill="#4a68f0" stroke="none" stroke-width="1" opacity="0.35"/>
<rect x="85.1" y="443.4" width="1" height="1" fill="#4a68f0" stroke="none" stroke-width="1" opacity="0.35"/>
<rect x="74.9" y="430.2" width="1" height="1" fill="#4a68f0" stroke="none" stroke-width="1" opacity="0.35"/>
<rect x="77.4" y="435.1" width="1" height="1" fill="#4a68f0" stroke="none" stroke-width="1" opacity="0.35"/>
<rect x="72.2" y="440.1" width="1" height="1" fill="#4a68f0" stroke="none" stroke-width="1" opacity="0.35"/>
<rect x="76.6" y="441.8" width="1" height="1" fill="#4a68f0" stroke="none" stroke-width="1" opacity="0.35"/>
<rect x="83.7" y="437.7" width="1" height="1" fill="#4a68f0" stroke="none" stroke-width="1" opacity="0.35"/>
<rect x="87.7" y="442.0" width="1" height="1" fill="#4a68f0" stroke="none" stroke-width="1" opacity="0.35"/>
<rect x="66.2" y="431.0" width="1" height="1" fill="#3050f0" stroke="none" stroke-width="1" opacity="0.4"/>
<rect x="73.0" y="439.3" width="1" height="1" fill="#3050f0" stroke="none" stroke-width="1" opacity="0.4"/>
<rect x="71.6" y="435.1" width="1" height="1" fill="#3050f0" stroke="none" stroke-width="1" opacity="0.4"/>
<rect x="73.8" y="433.8" width="1" height="1" fill="#3050f0" stroke="none" stroke-width="1" opacity="0.4"/>
<rect x="72.6" y="429.4" width="1" height="1" fill="#3050f0" stroke="none" stroke-width="1" opacity="0.4"/>
<rect x="72.5" y="425.7" width="1" height="1" fill="#3050f0" stroke="none" stroke-width="1" opacity="0.4"/>
<rect x="75.9" y="425.9" width="1" height="1" fill="#3050f0" stroke="none" stroke-width="1" opacity="0.4"/>
<rect x="71.2" y="438.5" width="1" height="1" fill="#3050f0" stroke="none" stroke-width="1" opacity="0.4"/>
<rect x="68.9" y="430.1" width="1" height="1" fill="#3050f0" stroke="none" stroke-width="1" opacity="0.4"/>
<rect x="75.8" y="430.1" width="1" height="1" fill="#3050f0" stroke="none" stroke-width="1" opacity="0.4"/>
<rect x="66.0" y="431.0" width="1" height="1" fill="#3050f0" stroke="none" stroke-width="1" opacity="0.4"/>
<rect x="72.9" y="432.8" width="1" height="1" fill="#3050f0" stroke="none" stroke-width="1" opacity="0.4"/>
<rect x="66.1" y="437.0" width="1" height="1" fill="#3050f0" stroke="none" stroke-width="1" opacity="0.4"/>
<rect x="78.3" y="430.1" width="1" height="1" fill="#3050f0" stroke="none" stroke-width="1" opacity="0.4"/>
<rect x="71.3" y="428.3" width="1" height="1" fill="#3050f0" stroke="none" stroke-width="1" opacity="0.4"/>
<rect x="77.1" y="427.2" width="1" height="1" fill="#3050f0" stroke="none" stroke-width="1" opacity="0.4"/>
<rect x="73.4" y="428.1" width="1" height="1" fill="#3050f0" stroke="none" stroke-width="1" opacity="0.4"/>
<rect x="66.5" y="432.9" width="1" height="1" fill="#3050f0" stroke="none" stroke-width="1" opacity="0.4"/>
<rect x="76.7" y="430.0" width="1" height="1" fill="#3050f0" stroke="none" stroke-width="1" opacity="0.4"/>
<rect x="66.6" y="433.2" width="1" height="1" fill="#3050f0" stroke="none" stroke-width="1" opacity="0.4"/>
<rect x="69.8" y="431.2" width="1" height="1" fill="#3050f0" stroke="none" stroke-width="1" opacity="0.4"/>
<rect x="77.6" y="434.5" width="1" height="1" fill="#3050f0" stroke="none" stroke-width="1" opacity="0.4"/>
<rect x="67.4" y="439.1" width="1" height="1" fill="#3050f0" stroke="none" stroke-width="1" opacity="0.4"/>
<rect x="70.0" y="433.1" width="1" height="1" fill="#3050f0" stroke="none" stroke-width="1" opacity="0.4"/>
<rect x="66.8" y="429.8" width="1" height="1" fill="#3050f0" stroke="none" stroke-width="1" opacity="0.4"/>
<rect x="76.8" y="425.1" width="1" height="1" fill="#3050f0" stroke="none" stroke-width="1" opacity="0.4"/>
<rect x="62.5" y="423.5" width="1" height="1" fill="#3050f0" stroke="none" stroke-width="1" opacity="0.4"/>
<rect x="75.9" y="428.2" width="1" height="1" fill="#3050f0" stroke="none" stroke-width="1" opacity="0.4"/>
<rect x="69.7" y="428.7" width="1" height="1" fill="#3050f0" stroke="none" stroke-width="1" opacity="0.4"/>
<rect x="69.4" y="425.6" width="1" height="1" fill="#3050f0" stroke="none" stroke-width="1" opacity="0.4"/>
<rect x="70.1" y="424.2" width="1" height="1" fill="#3050f0" stroke="none" stroke-width="1" opacity="0.4"/>
<rect x="69.6" y="431.2" width="1" height="1" fill="#3050f0" stroke="none" stroke-width="1" opacity="0.4"/>
<rect x="72.3" y="429.1" width="1" height="1" fill="#3050f0" stroke="none" stroke-width="1" opacity="0.4"/>
<rect x="65.5" y="430.6" width="1" height="1" fill="#3050f0" stroke="none" stroke-width="1" opacity="0.4"/>
<rect x="67.6" y="436.3" width="1" height="1" fill="#3050f0" stroke="none" stroke-width="1" opacity="0.4"/>
<rect x="73.8" y="429.5" width="1" height="1" fill="#3050f0" stroke="none" stroke-width="1" opacity="0.4"/>
<rect x="67.6" y="427.2" width="1" height="1" fill="#3050f0" stroke="none" stroke-width="1" opacity="0.4"/>
<rect x="65.3" y="428.6" width="1" height="1" fill="#3050f0" stroke="none" stroke-width="1" opacity="0.4"/>
<rect x="71.5" y="432.1" width="1" height="1" fill="#3050f0" stroke="none" stroke-width="1" opacity="0.4"/>
<rect x="72.8" y="438.4" width="1" height="1" fill="#3050f0" stroke="none" stroke-width="1" opacity="0.4"/>
<rect x="66.5" y="430.1" width="1" height="1" fill="#3050f0" stroke="none" stroke-width="1" opacity="0.4"/>
<rect x="67.4" y="430.7" width="1" height="1" fill="#3050f0" stroke="none" stroke-width="1" opacity="0.4"/>
<rect x="70.8" y="431.6" width="1" height="1" fill="#3050f0" stroke="none" stroke-width="1" opacity="0.4"/>
<rect x="68.8" y="431.5" width="1" height="1" fill="#3050f0" stroke="none" stroke-width="1" opacity="0.4"/>
<rect x="70.3" y="433.1" width="1" height="1" fill="#3050f0" stroke="none" stroke-width="1" opacity="0.4"/>
<rect x="70.0" y="425.9" width="1" height="1" fill="#3050f0" stroke="none" stroke-width="1" opacity="0.4"/>
<rect x="64.8" y="432.5" width="1" height="1" fill="#3050f0" stroke="none" stroke-width="1" opacity="0.4"/>
<rect x="66.8" y="432.5" width="1" height="1" fill="#3050f0" stroke="none" stroke-width="1" opacity="0.4"/>
<rect x="73.7" y="431.2" width="1" height="1" fill="#3050f0" stroke="none" stroke-width="1" opacity="0.4"/>
<rect x="72.5" y="429.6" width="1" height="1" fill="#3050f0" stroke="none" stroke-width="1" opacity="0.4"/>
<rect x="63.0" y="429.9" width="1" height="1" fill="#3050f0" stroke="none" stroke-width="1" opacity="0.4"/>
<rect x="72.3" y="427.9" width="1" height="1" fill="#3050f0" stroke="none" stroke-width="1" opacity="0.4"/>
<rect x="69.5" y="433.0" width="1" height="1" fill="#3050f0" stroke="none" stroke-width="1" opacity="0.4"/>
<rect x="65.6" y="432.6" width="1" height="1" fill="#3050f0" stroke="none" stroke-width="1" opacity="0.4"/>
<rect x="70.7" y="429.4" width="1" height="1" fill="#3050f0" stroke="none" stroke-width="1" opacity="0.4"/>
<rect x="77.7" y="431.3" width="1" height="1" fill="#3050f0" stroke="none" stroke-width="1" opacity="0.4"/>
<rect x="74.5" y="427.2" width="1" height="1" fill="#3050f0" stroke="none" stroke-width="1" opacity="0.4"/>
<rect x="69.9" y="430.0" width="1" height="1" fill="#3050f0" stroke="none" stroke-width="1" opacity="0.4"/>
<rect x="74.5" y="423.0" width="1" height="1" fill="#3050f0" stroke="none" stroke-width="1" opacity="0.4"/>
<rect x="73.7" y="429.5" width="1" height="1" fill="#3050f0" stroke="none" stroke-width="1" opacity="0.4"/>
<rect x="72.2" y="431.5" width="1" height="1" fill="#3050f0" stroke="none" stroke-width="1" opacity="0.4"/>
<rect x="62.5" y="429.2" width="1" height="1" fill="#3050f0" stroke="none" stroke-width="1" opacity="0.4"/>
<rect x="77.5" y="427.7" width="1" height="1" fill="#3050f0" stroke="none" stroke-width="1" opacity="0.4"/>
<rect x="64.9" y="424.6" width="1" height="1" fill="#3050f0" stroke="none" stroke-width="1" opacity="0.4"/>
<rect x="63.9" y="431.3" width="1" height="1" fill="#3050f0" stroke="none" stroke-width="1" opacity="0.4"/>
<rect x="78.5" y="431.7" width="1" height="1" fill="#3050f0" stroke="none" stroke-width="1" opacity="0.4"/>
<rect x="71.2" y="438.9" width="1" height="1" fill="#3050f0" stroke="none" stroke-width="1" opacity="0.4"/>
<rect x="67.4" y="427.3" width="1" height="1" fill="#3050f0" stroke="none" stroke-width="1" opacity="0.4"/>
<rect x="72.6" y="432.2" width="1" height="1" fill="#3050f0" stroke="none" stroke-width="1" opacity="0.4"/>
<rect x="64.9" y="425.3" width="1" height="1" fill="#3050f0" stroke="none" stroke-width="1" opacity="0.4"/>
<rect x="71.5" y="431.0" width="1" height="1" fill="#3050f0" stroke="none" stroke-width="1" opacity="0.4"/>
<rect x="63.5" y="429.2" width="1" height="1" fill="#3050f0" stroke="none" stroke-width="1" opacity="0.4"/>
<rect x="67.3" y="431.8" width="1" height="1" fill="#3050f0" stroke="none" stroke-width="1" opacity="0.4"/>
<rect x="69.4" y="429.7" width="1" height="1" fill="#3050f0" stroke="none" stroke-width="1" opacity="0.4"/>
<rect x="68.2" y="434.2" width="1" height="1" fill="#3050f0" stroke="none" stroke-width="1" opacity="0.4"/>
<rect x="77.0" y="428.5" width="1" height="1" fill="#3050f0" stroke="none" stroke-width="1" opacity="0.4"/>
<rect x="74.2" y="427.0" width="1" height="1" fill="#3050f0" stroke="none" stroke-width="1" opacity="0.4"/>
<rect x="70.4" y="433.0" width="1" height="1" fill="#3050f0" stroke="none" stroke-width="1" opacity="0.4"/>
<rect x="77.6" y="428.5" width="1" height="1" fill="#3050f0" stroke="none" stroke-width="1" opacity="0.4"/>
<rect x="69.6" y="430.8" width="1" height="1" fill="#3050f0" stroke="none" stroke-width="1" opacity="0.4"/>
<rect x="62.5" y="430.1" width="1" height="1" fill="#3050f0" stroke="none" stroke-width="1" opacity="0.4"/>
<rect x="66.6" y="431.5" width="1" height="1" fill="#3050f0" stroke="none" stroke-width="1" opacity="0.4"/>
<rect x="64.4" y="422.1" width="1" height="1" fill="#3050f0" stroke="none" stroke-width="1" opacity="0.4"/>
<rect x="70.2" y="431.0" width="1" height="1" fill="#3050f0" stroke="none" stroke-width="1" opacity="0.4"/>
<rect x="67.3" y="433.6" width="1" height="1" fill="#3050f0" stroke="none" stroke-width="1" opacity="0.4"/>
<rect x="68.6" y="427.6" width="1" height="1" fill="#3050f0" stroke="none" stroke-width="1" opacity="0.4"/>
<rect x="72.4" y="423.7" width="1" height="1" fill="#3050f0" stroke="none" stroke-width="1" opacity="0.4"/>
<rect x="66.6" y="429.9" width="1" height="1" fill="#3050f0" stroke="none" stroke-width="1" opacity="0.4"/>
<rect x="74.2" y="429.3" width="1" height="1" fill="#3050f0" stroke="none" stroke-width="1" opacity="0.4"/>
<rect x="71.5" y="427.4" width="1" height="1" fill="#3050f0" stroke="none" stroke-width="1" opacity="0.4"/>
<rect x="71.5" y="436.7" width="1" height="1" fill="#3050f0" stroke="none" stroke-width="1" opacity="0.4"/>
<rect x="66.6" y="439.5" width="1" height="1" fill="#3050f0" stroke="none" stroke-width="1" opacity="0.4"/>
<rect x="66.8" y="430.1" width="1" height="1" fill="#3050f0" stroke="none" stroke-width="1" opacity="0.4"/>
<rect x="70.9" y="434.1" width="1" height="1" fill="#3050f0" stroke="none" stroke-width="1" opacity="0.4"/>
<rect x="73.0" y="433.2" width="1" height="1" fill="#3050f0" stroke="none" stroke-width="1" opacity="0.4"/>
<rect x="71.0" y="431.0" width="1" height="1" fill="#3050f0" stroke="none" stroke-width="1" opacity="0.4"/>
<rect x="74.6" y="431.5" width="1" height="1" fill="#3050f0" stroke="none" stroke-width="1" opacity="0.4"/>
<rect x="78.3" y="425.0" width="1" height="1" fill="#3050f0" stroke="none" stroke-width="1" opacity="0.4"/>
<rect x="74.1" y="428.5" width="1" height="1" fill="#3050f0" stroke="none" stroke-width="1" opacity="0.4"/>
<rect x="74.6" y="438.6" width="1" height="1" fill="#3050f0" stroke="none" stroke-width="1" opacity="0.4"/>
<rect x="70.0" y="429.0" width="1" height="1" fill="#3050f0" stroke="none" stroke-width="1" opacity="0.4"/>
<rect x="67.5" y="426.6" width="1" height="1" fill="#3050f0" stroke="none" stroke-width="1" opacity="0.4"/>
<rect x="66.8" y="432.6" width="1" height="1" fill="#3050f0" stroke="none" stroke-width="1" opacity="0.4"/>
<rect x="70.2" y="430.3" width="1" height="1" fill="#3050f0" stroke="none" stroke-width="1" opacity="0.4"/>
<rect x="69.1" y="433.7" width="1" height="1" fill="#3050f0" stroke="none" stroke-width="1" opacity="0.4"/>
<rect x="72.5" y="429.4" width="1" height="1" fill="#3050f0" stroke="none" stroke-width="1" opacity="0.4"/>
<rect x="73.3" y="429.4" width="1" height="1" fill="#3050f0" stroke="none" stroke-width="1" opacity="0.4"/>
<rect x="64.2" y="435.8" width="1" height="1" fill="#3050f0" stroke="none" stroke-width="1" opacity="0.4"/>
<rect x="72.3" y="426.2" width="1" height="1" fill="#3050f0" stroke="none" stroke-width="1" opacity="0.4"/>
<rect x="75.4" y="431.4" width="1" height="1" fill="#3050f0" stroke="none" stroke-width="1" opacity="0.4"/>
<rect x="62.2" y="436.4" width="1" height="1" fill="#3050f0" stroke="none" stroke-width="1" opacity="0.4"/>
<g filter="url(#bl3)">
<path d="M63.8,451 L63.8,436 Q64,428.5 70,427.5 Q77,428 78.3,434 L78.3,452 Z" fill="#1838f4"/>
<path d="M61,452 Q60,449 66,449 L90,449 Q95.5,449 95.3,456 L95,468 Q94,472 88,472 L62,472 Q59,471 59.5,464 Z" fill="#1838f4"/>
<ellipse cx="69" cy="461" rx="6.2" ry="8.5" fill="#08b8ff"/>
<ellipse cx="87.6" cy="460.5" rx="7" ry="8" fill="#08b8ff"/>
<rect x="70" y="456" width="14" height="9" fill="#10a0ff"/>
<ellipse cx="68.8" cy="462" rx="3.6" ry="5.8" fill="#30e050"/>
<ellipse cx="87.3" cy="461" rx="4.8" ry="5.3" fill="#30e050"/>
<ellipse cx="68.8" cy="462" rx="1.8" ry="3" fill="#e8f020"/>
<ellipse cx="87.4" cy="461" rx="3" ry="3.5" fill="#f0e020"/>
<ellipse cx="87.5" cy="461" rx="1.6" ry="2.1" fill="#f05010"/>
</g>
</g>
<rect x="36.8" y="411" width="62.2" height="61.6" fill="none" stroke="#000" stroke-width="1.1"/>
<line x1="35.6" y1="425.5" x2="36.8" y2="425.5" stroke="#000" stroke-width="0.7"/>
<line x1="35.6" y1="435.7" x2="36.8" y2="435.7" stroke="#000" stroke-width="0.7"/>
<line x1="35.6" y1="446" x2="36.8" y2="446" stroke="#000" stroke-width="0.7"/>
<line x1="35.6" y1="456.2" x2="36.8" y2="456.2" stroke="#000" stroke-width="0.7"/>
<line x1="35.6" y1="466.5" x2="36.8" y2="466.5" stroke="#000" stroke-width="0.7"/>
<line x1="38" y1="472.6" x2="38" y2="473.8" stroke="#000" stroke-width="0.7"/>
<line x1="46.1" y1="472.6" x2="46.1" y2="473.8" stroke="#000" stroke-width="0.7"/>
<line x1="53.4" y1="472.6" x2="53.4" y2="473.8" stroke="#000" stroke-width="0.7"/>
<line x1="61.5" y1="472.6" x2="61.5" y2="473.8" stroke="#000" stroke-width="0.7"/>
<line x1="68.8" y1="472.6" x2="68.8" y2="473.8" stroke="#000" stroke-width="0.7"/>
<line x1="76.9" y1="472.6" x2="76.9" y2="473.8" stroke="#000" stroke-width="0.7"/>
<line x1="84.2" y1="472.6" x2="84.2" y2="473.8" stroke="#000" stroke-width="0.7"/>
<line x1="91.5" y1="472.6" x2="91.5" y2="473.8" stroke="#000" stroke-width="0.7"/>
<line x1="98" y1="472.6" x2="98" y2="473.8" stroke="#000" stroke-width="0.7"/>
<rect x="62.5" y="419.3" width="15.8" height="32.3" fill="none" stroke="#000" stroke-width="1.1"/>
<line x1="78.3" y1="439.1" x2="105.5" y2="439.1" stroke="#000" stroke-width="1"/>
<path d="M110.40,439.10 L103.60,436.30 L105.10,439.10 L103.60,441.90 Z" fill="#000"/>
<text x="33.0" y="444" font-size="8.7" font-weight="bold" text-anchor="middle" fill="#000" transform="rotate(-90 33.0 444)">cKit</text>
<text x="69.5" y="488.2" font-size="8.7" font-weight="bold" text-anchor="middle" fill="#000">Lin</text>
<line x1="113.4" y1="463.5" x2="113.4" y2="410" stroke="#000" stroke-width="1"/>
<path d="M113.40,404.50 L117.00,412.60 L113.40,410.82 L109.80,412.60 Z" fill="#000"/>
<text x="114.9" y="479.5" font-size="8.5" font-weight="bold" text-anchor="middle" fill="#000" transform="rotate(-90 114.9 479.5)">%Max</text>
<rect x="120.3" y="410" width="70.50000000000001" height="68.5" fill="none" stroke="#333" stroke-width="1"/>
<text x="159" y="404.9" font-size="8.9" font-weight="bold" text-anchor="middle" fill="#000">Control</text>
<line x1="135.3" y1="478.5" x2="135.3" y2="479.7" stroke="#333" stroke-width="0.6"/>
<line x1="143.3" y1="478.5" x2="143.3" y2="479.7" stroke="#333" stroke-width="0.6"/>
<line x1="151.3" y1="478.5" x2="151.3" y2="479.7" stroke="#333" stroke-width="0.6"/>
<line x1="159.3" y1="478.5" x2="159.3" y2="479.7" stroke="#333" stroke-width="0.6"/>
<line x1="167.3" y1="478.5" x2="167.3" y2="479.7" stroke="#333" stroke-width="0.6"/>
<line x1="175.3" y1="478.5" x2="175.3" y2="479.7" stroke="#333" stroke-width="0.6"/>
<line x1="183.3" y1="478.5" x2="183.3" y2="479.7" stroke="#333" stroke-width="0.6"/>
<rect x="199" y="410" width="70.30000000000001" height="68.5" fill="none" stroke="#333" stroke-width="1"/>
<text x="235.9" y="404.9" font-size="8.9" font-weight="bold" text-anchor="middle" fill="#000">NrasG12D/+</text>
<line x1="214" y1="478.5" x2="214" y2="479.7" stroke="#333" stroke-width="0.6"/>
<line x1="222" y1="478.5" x2="222" y2="479.7" stroke="#333" stroke-width="0.6"/>
<line x1="230" y1="478.5" x2="230" y2="479.7" stroke="#333" stroke-width="0.6"/>
<line x1="238" y1="478.5" x2="238" y2="479.7" stroke="#333" stroke-width="0.6"/>
<line x1="246" y1="478.5" x2="246" y2="479.7" stroke="#333" stroke-width="0.6"/>
<line x1="254" y1="478.5" x2="254" y2="479.7" stroke="#333" stroke-width="0.6"/>
<line x1="262" y1="478.5" x2="262" y2="479.7" stroke="#333" stroke-width="0.6"/>
<rect x="279.6" y="410" width="70.39999999999998" height="68.5" fill="none" stroke="#333" stroke-width="1"/>
<text x="319.8" y="404.9" font-size="8.9" font-weight="bold" text-anchor="middle" fill="#000">NrasG12D/G12D</text>
<line x1="294.6" y1="478.5" x2="294.6" y2="479.7" stroke="#333" stroke-width="0.6"/>
<line x1="302.6" y1="478.5" x2="302.6" y2="479.7" stroke="#333" stroke-width="0.6"/>
<line x1="310.6" y1="478.5" x2="310.6" y2="479.7" stroke="#333" stroke-width="0.6"/>
<line x1="318.6" y1="478.5" x2="318.6" y2="479.7" stroke="#333" stroke-width="0.6"/>
<line x1="326.6" y1="478.5" x2="326.6" y2="479.7" stroke="#333" stroke-width="0.6"/>
<line x1="334.6" y1="478.5" x2="334.6" y2="479.7" stroke="#333" stroke-width="0.6"/>
<line x1="342.6" y1="478.5" x2="342.6" y2="479.7" stroke="#333" stroke-width="0.6"/>
<path d="M120.30,433.80 L120.65,433.80 L121.00,433.80 L121.36,433.80 L121.71,433.80 L122.06,433.80 L122.41,433.80 L122.77,433.80 L123.12,433.80 L123.47,433.80 L123.83,433.80 L124.18,433.80 L124.53,433.80 L124.88,433.80 L125.23,433.80 L125.59,433.80 L125.94,433.80 L126.29,433.80 L126.64,433.80 L127.00,433.80 L127.35,433.80 L127.70,433.80 L128.06,433.80 L128.41,433.80 L128.76,433.80 L129.11,433.80 L129.47,433.80 L129.82,433.80 L130.17,433.80 L130.52,433.80 L130.88,433.80 L131.23,433.80 L131.58,433.80 L131.93,433.80 L132.28,433.80 L132.64,433.80 L132.99,433.80 L133.34,433.80 L133.69,433.80 L134.05,433.80 L134.40,433.80 L134.75,433.80 L135.10,433.80 L135.46,433.80 L135.81,433.80 L136.16,433.80 L136.51,433.80 L136.87,433.80 L137.22,433.80 L137.57,433.80 L137.93,433.80 L138.28,433.80 L138.63,433.79 L138.98,433.79 L139.34,433.79 L139.69,433.79 L140.04,433.79 L140.39,433.78 L140.75,433.78 L141.10,433.77 L141.45,433.77 L141.80,433.76 L142.16,433.75 L142.51,433.74 L142.86,433.72 L143.21,433.70 L143.56,433.68 L143.92,433.66 L144.27,433.62 L144.62,433.59 L144.97,433.54 L145.33,433.49 L145.68,433.43 L146.03,433.36 L146.38,433.28 L146.74,433.18 L147.09,433.06 L147.44,432.93 L147.80,432.77 L148.15,432.60 L148.50,432.39 L148.85,432.16 L149.21,431.90 L149.56,431.60 L149.91,431.26 L150.26,430.88 L150.62,430.45 L150.97,429.98 L151.32,429.45 L151.67,428.88 L152.03,428.24 L152.38,427.55 L152.73,426.81 L153.08,426.01 L153.44,425.15 L153.79,424.24 L154.14,423.28 L154.49,422.27 L154.84,421.24 L155.20,420.17 L155.55,419.10 L155.90,418.02 L156.25,416.96 L156.61,415.95 L156.96,414.99 L157.31,414.12 L157.67,413.38 L158.02,412.82 L158.37,412.51 L158.72,412.80 L159.07,413.47 L159.43,414.35 L159.78,415.39 L160.13,416.53 L160.49,417.73 L160.84,418.97 L161.19,420.21 L161.54,421.43 L161.90,422.62 L162.25,423.75 L162.60,424.83 L162.95,425.83 L163.31,426.77 L163.66,427.63 L164.01,428.41 L164.36,429.12 L164.72,429.75 L165.07,430.32 L165.42,430.82 L165.77,431.26 L166.12,431.65 L166.48,431.98 L166.83,432.27 L167.18,432.52 L167.53,432.74 L167.89,432.92 L168.24,433.07 L168.59,433.20 L168.94,433.31 L169.30,433.40 L169.65,433.47 L170.00,433.54 L170.36,433.59 L170.71,433.63 L171.06,433.66 L171.41,433.69 L171.77,433.71 L172.12,433.73 L172.47,433.75 L172.82,433.76 L173.18,433.77 L173.53,433.77 L173.88,433.78 L174.23,433.78 L174.59,433.79 L174.94,433.79 L175.29,433.79 L175.64,433.79 L176.00,433.80 L176.35,433.80 L176.70,433.80 L177.05,433.80 L177.41,433.80 L177.76,433.80 L178.11,433.80 L178.46,433.80 L178.81,433.80 L179.17,433.80 L179.52,433.80 L179.87,433.80 L180.23,433.80 L180.58,433.80 L180.93,433.80 L181.28,433.80 L181.63,433.80 L181.99,433.80 L182.34,433.80 L182.69,433.80 L183.05,433.80 L183.40,433.80 L183.75,433.80 L184.10,433.80 L184.46,433.80 L184.81,433.80 L185.16,433.80 L185.51,433.80 L185.87,433.80 L186.22,433.80 L186.57,433.80 L186.92,433.80 L187.28,433.80 L187.63,433.80 L187.98,433.80 L188.33,433.80 L188.69,433.80 L189.04,433.80 L189.39,433.80 L189.74,433.80 L190.10,433.80 L190.45,433.80 L190.80,433.80" stroke="#e04a2a" stroke-width="1.1" fill="none"/>
<path d="M120.30,455.60 L120.65,455.60 L121.00,455.60 L121.36,455.60 L121.71,455.60 L122.06,455.60 L122.41,455.60 L122.77,455.60 L123.12,455.60 L123.47,455.60 L123.83,455.60 L124.18,455.60 L124.53,455.60 L124.88,455.60 L125.23,455.60 L125.59,455.60 L125.94,455.60 L126.29,455.60 L126.64,455.60 L127.00,455.60 L127.35,455.60 L127.70,455.60 L128.06,455.60 L128.41,455.60 L128.76,455.60 L129.11,455.60 L129.47,455.60 L129.82,455.60 L130.17,455.60 L130.52,455.60 L130.88,455.60 L131.23,455.60 L131.58,455.60 L131.93,455.60 L132.28,455.60 L132.64,455.60 L132.99,455.60 L133.34,455.60 L133.69,455.60 L134.05,455.60 L134.40,455.60 L134.75,455.60 L135.10,455.60 L135.46,455.60 L135.81,455.60 L136.16,455.60 L136.51,455.60 L136.87,455.60 L137.22,455.59 L137.57,455.59 L137.93,455.59 L138.28,455.59 L138.63,455.59 L138.98,455.58 L139.34,455.58 L139.69,455.58 L140.04,455.57 L140.39,455.57 L140.75,455.56 L141.10,455.55 L141.45,455.55 L141.80,455.54 L142.16,455.52 L142.51,455.51 L142.86,455.49 L143.21,455.48 L143.56,455.45 L143.92,455.43 L144.27,455.40 L144.62,455.37 L144.97,455.33 L145.33,455.28 L145.68,455.23 L146.03,455.17 L146.38,455.11 L146.74,455.03 L147.09,454.94 L147.44,454.84 L147.80,454.73 L148.15,454.61 L148.50,454.47 L148.85,454.31 L149.21,454.13 L149.56,453.93 L149.91,453.71 L150.26,453.47 L150.62,453.20 L150.97,452.90 L151.32,452.58 L151.67,452.22 L152.03,451.83 L152.38,451.41 L152.73,450.95 L153.08,450.45 L153.44,449.92 L153.79,449.34 L154.14,448.73 L154.49,448.08 L154.84,447.39 L155.20,446.67 L155.55,445.91 L155.90,445.12 L156.25,444.30 L156.61,443.45 L156.96,442.59 L157.31,441.72 L157.67,440.84 L158.02,439.96 L158.37,439.10 L158.72,438.26 L159.07,437.46 L159.43,436.71 L159.78,436.03 L160.13,435.44 L160.49,434.97 L160.84,434.66 L161.19,434.68 L161.54,435.02 L161.90,435.53 L162.25,436.15 L162.60,436.87 L162.95,437.66 L163.31,438.50 L163.66,439.37 L164.01,440.27 L164.36,441.18 L164.72,442.08 L165.07,442.98 L165.42,443.86 L165.77,444.72 L166.12,445.55 L166.48,446.35 L166.83,447.12 L167.18,447.84 L167.53,448.52 L167.89,449.17 L168.24,449.77 L168.59,450.33 L168.94,450.85 L169.30,451.33 L169.65,451.78 L170.00,452.18 L170.36,452.56 L170.71,452.89 L171.06,453.20 L171.41,453.48 L171.77,453.73 L172.12,453.95 L172.47,454.15 L172.82,454.33 L173.18,454.49 L173.53,454.64 L173.88,454.76 L174.23,454.87 L174.59,454.97 L174.94,455.06 L175.29,455.13 L175.64,455.20 L176.00,455.25 L176.35,455.30 L176.70,455.35 L177.05,455.39 L177.41,455.42 L177.76,455.44 L178.11,455.47 L178.46,455.49 L178.81,455.51 L179.17,455.52 L179.52,455.53 L179.87,455.54 L180.23,455.55 L180.58,455.56 L180.93,455.57 L181.28,455.57 L181.63,455.58 L181.99,455.58 L182.34,455.58 L182.69,455.59 L183.05,455.59 L183.40,455.59 L183.75,455.59 L184.10,455.59 L184.46,455.60 L184.81,455.60 L185.16,455.60 L185.51,455.60 L185.87,455.60 L186.22,455.60 L186.57,455.60 L186.92,455.60 L187.28,455.60 L187.63,455.60 L187.98,455.60 L188.33,455.60 L188.69,455.60 L189.04,455.60 L189.39,455.60 L189.74,455.60 L190.10,455.60 L190.45,455.60 L190.80,455.60" stroke="#3048c8" stroke-width="1.1" fill="none"/>
<path d="M120.30,478.00 L120.59,478.00 L120.89,478.00 L121.18,478.00 L121.47,478.00 L121.77,478.00 L122.06,478.00 L122.36,478.00 L122.65,478.00 L122.94,478.00 L123.24,478.00 L123.53,478.00 L123.83,478.00 L124.12,478.00 L124.41,478.00 L124.71,478.00 L125.00,478.00 L125.29,478.00 L125.59,478.00 L125.88,478.00 L126.17,478.00 L126.47,478.00 L126.76,478.00 L127.06,478.00 L127.35,478.00 L127.64,478.00 L127.94,478.00 L128.23,478.00 L128.53,478.00 L128.82,478.00 L129.11,478.00 L129.41,478.00 L129.70,478.00 L129.99,478.00 L130.29,478.00 L130.58,478.00 L130.88,478.00 L131.17,478.00 L131.46,478.00 L131.76,478.00 L132.05,478.00 L132.34,478.00 L132.64,478.00 L132.93,478.00 L133.22,478.00 L133.52,478.00 L133.81,478.00 L134.11,478.00 L134.40,478.00 L134.69,478.00 L134.99,478.00 L135.28,478.00 L135.57,478.00 L135.87,478.00 L136.16,478.00 L136.46,478.00 L136.75,478.00 L137.04,478.00 L137.34,478.00 L137.63,478.00 L137.93,478.00 L138.22,478.00 L138.51,478.00 L138.81,478.00 L139.10,477.99 L139.39,477.99 L139.69,477.99 L139.98,477.99 L140.28,477.98 L140.57,477.98 L140.86,477.98 L141.16,477.97 L141.45,477.96 L141.74,477.95 L142.04,477.94 L142.33,477.93 L142.62,477.91 L142.92,477.90 L143.21,477.87 L143.51,477.85 L143.80,477.82 L144.09,477.78 L144.39,477.73 L144.68,477.68 L144.97,477.62 L145.27,477.55 L145.56,477.47 L145.86,477.38 L146.15,477.27 L146.44,477.15 L146.74,477.01 L147.03,476.85 L147.32,476.68 L147.62,476.48 L147.91,476.25 L148.21,476.01 L148.50,475.73 L148.79,475.43 L149.09,475.10 L149.38,474.74 L149.68,474.34 L149.97,473.92 L150.26,473.46 L150.56,472.98 L150.85,472.47 L151.14,471.92 L151.44,471.36 L151.73,470.77 L152.03,470.16 L152.32,469.54 L152.61,468.91 L152.91,468.27 L153.20,467.64 L153.49,467.01 L153.79,466.41 L154.08,465.82 L154.38,465.28 L154.67,464.77 L154.96,464.32 L155.26,463.92 L155.55,463.60 L155.84,463.37 L156.14,463.23 L156.43,463.27 L156.72,463.63 L157.02,464.26 L157.31,465.12 L157.61,466.11 L157.90,466.20 L158.19,466.29 L158.49,466.38 L158.78,466.46 L159.07,466.54 L159.37,466.61 L159.66,466.69 L159.96,466.76 L160.25,466.82 L160.54,466.88 L160.84,466.94 L161.13,466.99 L161.43,467.03 L161.72,467.07 L162.01,467.11 L162.31,467.14 L162.60,467.16 L162.89,467.18 L163.19,467.19 L163.48,467.20 L163.78,467.20 L164.07,467.19 L164.36,467.18 L164.66,467.17 L164.95,467.14 L165.24,467.11 L165.54,467.08 L165.83,467.04 L166.12,467.00 L166.42,466.94 L166.71,466.89 L167.01,465.70 L167.30,465.70 L167.59,465.70 L167.89,465.69 L168.18,464.61 L168.47,463.53 L168.77,462.48 L169.06,461.46 L169.36,460.50 L169.65,459.63 L169.94,458.86 L170.24,458.23 L170.53,457.75 L170.82,457.46 L171.12,457.43 L171.41,457.68 L171.71,458.12 L172.00,458.73 L172.29,459.47 L172.59,460.33 L172.88,461.27 L173.18,462.28 L173.47,463.33 L173.76,464.40 L174.06,465.49 L174.35,466.56 L174.64,467.60 L174.94,468.62 L175.23,469.58 L175.53,470.50 L175.82,471.35 L176.11,472.15 L176.41,472.88 L176.70,473.54 L176.99,474.14 L177.29,474.68 L177.58,475.16 L177.88,475.59 L178.17,475.96 L178.46,476.28 L178.76,476.57 L179.05,476.81 L179.34,477.01 L179.64,477.19 L179.93,477.34 L180.23,477.46 L180.52,477.56 L180.81,477.65 L181.11,477.72 L181.40,477.78 L181.69,477.82 L181.99,477.86 L182.28,477.89 L182.58,477.91 L182.87,477.93 L183.16,477.95 L183.46,477.96 L183.75,477.97 L184.04,477.98 L184.34,477.98 L184.63,477.99 L184.93,477.99 L185.22,477.99 L185.51,477.99 L185.81,478.00 L186.10,478.00 L186.39,478.00 L186.69,478.00 L186.98,478.00 L187.28,478.00 L187.57,478.00 L187.86,478.00 L188.16,478.00 L188.45,478.00 L188.74,478.00 L189.04,478.00 L189.33,478.00 L189.62,478.00 L189.92,478.00 L190.21,478.00 L190.51,478.00 L190.80,478.00" stroke="#20d420" stroke-width="1.1" fill="none"/>
<path d="M199.00,433.80 L199.35,433.80 L199.70,433.80 L200.05,433.80 L200.41,433.80 L200.76,433.80 L201.11,433.80 L201.46,433.80 L201.81,433.80 L202.16,433.80 L202.51,433.80 L202.87,433.80 L203.22,433.80 L203.57,433.80 L203.92,433.80 L204.27,433.80 L204.62,433.80 L204.98,433.80 L205.33,433.80 L205.68,433.80 L206.03,433.80 L206.38,433.80 L206.73,433.80 L207.08,433.80 L207.44,433.80 L207.79,433.80 L208.14,433.80 L208.49,433.80 L208.84,433.80 L209.19,433.80 L209.55,433.80 L209.90,433.80 L210.25,433.80 L210.60,433.80 L210.95,433.80 L211.30,433.80 L211.65,433.80 L212.01,433.80 L212.36,433.80 L212.71,433.80 L213.06,433.80 L213.41,433.80 L213.76,433.80 L214.11,433.80 L214.47,433.80 L214.82,433.80 L215.17,433.80 L215.52,433.80 L215.87,433.80 L216.22,433.80 L216.57,433.80 L216.93,433.80 L217.28,433.80 L217.63,433.80 L217.98,433.79 L218.33,433.79 L218.68,433.79 L219.04,433.79 L219.39,433.79 L219.74,433.78 L220.09,433.78 L220.44,433.77 L220.79,433.77 L221.14,433.76 L221.50,433.75 L221.85,433.74 L222.20,433.73 L222.55,433.71 L222.90,433.69 L223.25,433.67 L223.61,433.64 L223.96,433.61 L224.31,433.57 L224.66,433.52 L225.01,433.46 L225.36,433.40 L225.71,433.32 L226.07,433.23 L226.42,433.12 L226.77,433.00 L227.12,432.85 L227.47,432.69 L227.82,432.50 L228.17,432.28 L228.53,432.03 L228.88,431.75 L229.23,431.44 L229.58,431.08 L229.93,430.68 L230.28,430.23 L230.63,429.73 L230.99,429.19 L231.34,428.59 L231.69,427.93 L232.04,427.22 L232.39,426.45 L232.74,425.62 L233.10,424.74 L233.45,423.81 L233.80,422.83 L234.15,421.81 L234.50,420.77 L234.85,419.70 L235.20,418.62 L235.56,417.56 L235.91,416.52 L236.26,415.53 L236.61,414.61 L236.96,413.79 L237.31,413.12 L237.67,412.65 L238.02,412.56 L238.37,413.04 L238.72,413.81 L239.07,414.76 L239.42,415.84 L239.77,417.01 L240.13,418.22 L240.48,419.46 L240.83,420.69 L241.18,421.90 L241.53,423.06 L241.88,424.17 L242.23,425.22 L242.59,426.20 L242.94,427.10 L243.29,427.93 L243.64,428.68 L243.99,429.36 L244.34,429.97 L244.69,430.51 L245.05,430.98 L245.40,431.40 L245.75,431.77 L246.10,432.09 L246.45,432.36 L246.80,432.60 L247.16,432.80 L247.51,432.97 L247.86,433.12 L248.21,433.24 L248.56,433.34 L248.91,433.43 L249.26,433.50 L249.62,433.55 L249.97,433.60 L250.32,433.64 L250.67,433.67 L251.02,433.70 L251.37,433.72 L251.73,433.74 L252.08,433.75 L252.43,433.76 L252.78,433.77 L253.13,433.78 L253.48,433.78 L253.83,433.79 L254.19,433.79 L254.54,433.79 L254.89,433.79 L255.24,433.80 L255.59,433.80 L255.94,433.80 L256.29,433.80 L256.65,433.80 L257.00,433.80 L257.35,433.80 L257.70,433.80 L258.05,433.80 L258.40,433.80 L258.75,433.80 L259.11,433.80 L259.46,433.80 L259.81,433.80 L260.16,433.80 L260.51,433.80 L260.86,433.80 L261.22,433.80 L261.57,433.80 L261.92,433.80 L262.27,433.80 L262.62,433.80 L262.97,433.80 L263.32,433.80 L263.68,433.80 L264.03,433.80 L264.38,433.80 L264.73,433.80 L265.08,433.80 L265.43,433.80 L265.79,433.80 L266.14,433.80 L266.49,433.80 L266.84,433.80 L267.19,433.80 L267.54,433.80 L267.89,433.80 L268.25,433.80 L268.60,433.80 L268.95,433.80 L269.30,433.80" stroke="#e04a2a" stroke-width="1.1" fill="none"/>
<path d="M199.00,455.60 L199.35,455.60 L199.70,455.60 L200.05,455.60 L200.41,455.60 L200.76,455.60 L201.11,455.60 L201.46,455.60 L201.81,455.60 L202.16,455.60 L202.51,455.60 L202.87,455.60 L203.22,455.60 L203.57,455.60 L203.92,455.60 L204.27,455.60 L204.62,455.60 L204.98,455.60 L205.33,455.60 L205.68,455.60 L206.03,455.60 L206.38,455.60 L206.73,455.60 L207.08,455.60 L207.44,455.60 L207.79,455.60 L208.14,455.60 L208.49,455.60 L208.84,455.60 L209.19,455.60 L209.55,455.60 L209.90,455.60 L210.25,455.60 L210.60,455.60 L210.95,455.60 L211.30,455.60 L211.65,455.60 L212.01,455.60 L212.36,455.60 L212.71,455.60 L213.06,455.60 L213.41,455.60 L213.76,455.60 L214.11,455.60 L214.47,455.60 L214.82,455.60 L215.17,455.60 L215.52,455.60 L215.87,455.60 L216.22,455.59 L216.57,455.59 L216.93,455.59 L217.28,455.59 L217.63,455.59 L217.98,455.59 L218.33,455.58 L218.68,455.58 L219.04,455.58 L219.39,455.57 L219.74,455.57 L220.09,455.56 L220.44,455.55 L220.79,455.54 L221.14,455.53 L221.50,455.52 L221.85,455.50 L222.20,455.49 L222.55,455.47 L222.90,455.44 L223.25,455.42 L223.61,455.39 L223.96,455.35 L224.31,455.31 L224.66,455.26 L225.01,455.21 L225.36,455.15 L225.71,455.08 L226.07,455.00 L226.42,454.91 L226.77,454.81 L227.12,454.69 L227.47,454.56 L227.82,454.41 L228.17,454.25 L228.53,454.07 L228.88,453.86 L229.23,453.63 L229.58,453.38 L229.93,453.11 L230.28,452.80 L230.63,452.47 L230.99,452.10 L231.34,451.70 L231.69,451.26 L232.04,450.79 L232.39,450.29 L232.74,449.74 L233.10,449.16 L233.45,448.54 L233.80,447.88 L234.15,447.18 L234.50,446.45 L234.85,445.68 L235.20,444.88 L235.56,444.06 L235.91,443.21 L236.26,442.35 L236.61,441.47 L236.96,440.60 L237.31,439.72 L237.67,438.87 L238.02,438.04 L238.37,437.25 L238.72,436.52 L239.07,435.87 L239.42,435.31 L239.77,434.87 L240.13,434.62 L240.48,434.74 L240.83,435.13 L241.18,435.67 L241.53,436.32 L241.88,437.05 L242.23,437.85 L242.59,438.70 L242.94,439.57 L243.29,440.47 L243.64,441.38 L243.99,442.28 L244.34,443.17 L244.69,444.05 L245.05,444.90 L245.40,445.72 L245.75,446.51 L246.10,447.26 L246.45,447.98 L246.80,448.65 L247.16,449.29 L247.51,449.88 L247.86,450.43 L248.21,450.94 L248.56,451.42 L248.91,451.85 L249.26,452.25 L249.62,452.62 L249.97,452.95 L250.32,453.25 L250.67,453.52 L251.02,453.77 L251.37,453.99 L251.73,454.18 L252.08,454.36 L252.43,454.52 L252.78,454.66 L253.13,454.78 L253.48,454.89 L253.83,454.98 L254.19,455.07 L254.54,455.14 L254.89,455.21 L255.24,455.26 L255.59,455.31 L255.94,455.35 L256.29,455.39 L256.65,455.42 L257.00,455.45 L257.35,455.47 L257.70,455.49 L258.05,455.51 L258.40,455.52 L258.75,455.53 L259.11,455.55 L259.46,455.55 L259.81,455.56 L260.16,455.57 L260.51,455.57 L260.86,455.58 L261.22,455.58 L261.57,455.58 L261.92,455.59 L262.27,455.59 L262.62,455.59 L262.97,455.59 L263.32,455.59 L263.68,455.60 L264.03,455.60 L264.38,455.60 L264.73,455.60 L265.08,455.60 L265.43,455.60 L265.79,455.60 L266.14,455.60 L266.49,455.60 L266.84,455.60 L267.19,455.60 L267.54,455.60 L267.89,455.60 L268.25,455.60 L268.60,455.60 L268.95,455.60 L269.30,455.60" stroke="#3048c8" stroke-width="1.1" fill="none"/>
<path d="M199.00,478.00 L199.29,478.00 L199.59,478.00 L199.88,478.00 L200.17,478.00 L200.46,478.00 L200.76,478.00 L201.05,478.00 L201.34,478.00 L201.64,478.00 L201.93,478.00 L202.22,478.00 L202.51,478.00 L202.81,478.00 L203.10,478.00 L203.39,478.00 L203.69,478.00 L203.98,478.00 L204.27,478.00 L204.57,478.00 L204.86,478.00 L205.15,478.00 L205.44,478.00 L205.74,478.00 L206.03,478.00 L206.32,478.00 L206.62,478.00 L206.91,478.00 L207.20,478.00 L207.49,478.00 L207.79,478.00 L208.08,478.00 L208.37,478.00 L208.67,478.00 L208.96,478.00 L209.25,478.00 L209.54,478.00 L209.84,478.00 L210.13,478.00 L210.42,478.00 L210.72,478.00 L211.01,478.00 L211.30,478.00 L211.60,478.00 L211.89,478.00 L212.18,478.00 L212.47,478.00 L212.77,478.00 L213.06,478.00 L213.35,478.00 L213.65,478.00 L213.94,478.00 L214.23,478.00 L214.52,478.00 L214.82,478.00 L215.11,478.00 L215.40,478.00 L215.70,478.00 L215.99,478.00 L216.28,478.00 L216.57,478.00 L216.87,478.00 L217.16,478.00 L217.45,478.00 L217.75,478.00 L218.04,478.00 L218.33,478.00 L218.63,478.00 L218.92,478.00 L219.21,478.00 L219.50,478.00 L219.80,477.99 L220.09,477.99 L220.38,477.99 L220.68,477.99 L220.97,477.99 L221.26,477.98 L221.55,477.98 L221.85,477.98 L222.14,477.97 L222.43,477.96 L222.73,477.95 L223.02,477.94 L223.31,477.93 L223.61,477.91 L223.90,477.90 L224.19,477.87 L224.48,477.85 L224.78,477.82 L225.07,477.78 L225.36,477.74 L225.66,477.69 L225.95,477.63 L226.24,477.56 L226.53,477.48 L226.83,477.39 L227.12,477.29 L227.41,477.17 L227.71,477.04 L228.00,476.89 L228.29,476.72 L228.58,476.53 L228.88,476.32 L229.17,476.09 L229.46,475.83 L229.76,475.55 L230.05,475.24 L230.34,474.90 L230.63,474.54 L230.93,474.14 L231.22,473.73 L231.51,473.28 L231.81,472.81 L232.10,472.32 L232.39,471.80 L232.69,471.27 L232.98,470.72 L233.27,470.16 L233.56,469.60 L233.86,469.03 L234.15,468.47 L234.44,467.92 L234.74,467.39 L235.03,466.89 L235.32,466.42 L235.61,465.99 L235.91,465.62 L236.20,465.30 L236.49,465.05 L236.79,464.88 L237.08,464.80 L237.37,464.83 L237.67,464.86 L237.96,464.89 L238.25,464.92 L238.54,464.94 L238.84,464.97 L239.13,465.00 L239.42,465.03 L239.72,465.06 L240.01,465.09 L240.30,465.12 L240.59,465.15 L240.89,465.18 L241.18,465.21 L241.47,465.24 L241.77,465.27 L242.06,465.30 L242.35,465.33 L242.64,465.35 L242.94,465.38 L243.23,465.41 L243.52,465.44 L243.82,465.47 L244.11,465.50 L244.40,465.53 L244.69,465.56 L244.99,465.59 L245.28,465.62 L245.57,465.65 L245.87,465.68 L246.16,465.71 L246.45,465.74 L246.75,465.76 L247.04,465.79 L247.33,465.82 L247.62,465.19 L247.92,464.11 L248.21,463.04 L248.50,462.00 L248.80,461.02 L249.09,460.10 L249.38,459.27 L249.67,458.56 L249.97,457.99 L250.26,457.60 L250.55,457.41 L250.85,457.55 L251.14,458.00 L251.43,458.70 L251.73,459.58 L252.02,460.61 L252.31,461.76 L252.60,462.98 L252.90,464.25 L253.19,465.52 L253.48,466.79 L253.78,468.01 L254.07,469.18 L254.36,470.28 L254.65,471.30 L254.95,472.24 L255.24,473.08 L255.53,473.84 L255.83,474.51 L256.12,475.09 L256.41,475.60 L256.70,476.03 L257.00,476.40 L257.29,476.71 L257.58,476.96 L257.88,477.18 L258.17,477.35 L258.46,477.49 L258.75,477.60 L259.05,477.69 L259.34,477.77 L259.63,477.82 L259.93,477.87 L260.22,477.90 L260.51,477.93 L260.81,477.94 L261.10,477.96 L261.39,477.97 L261.68,477.98 L261.98,477.98 L262.27,477.99 L262.56,477.99 L262.86,477.99 L263.15,478.00 L263.44,478.00 L263.73,478.00 L264.03,478.00 L264.32,478.00 L264.61,478.00 L264.91,478.00 L265.20,478.00 L265.49,478.00 L265.79,478.00 L266.08,478.00 L266.37,478.00 L266.66,478.00 L266.96,478.00 L267.25,478.00 L267.54,478.00 L267.84,478.00 L268.13,478.00 L268.42,478.00 L268.71,478.00 L269.01,478.00 L269.30,478.00" stroke="#20d420" stroke-width="1.1" fill="none"/>
<path d="M279.60,433.80 L279.95,433.80 L280.30,433.80 L280.66,433.80 L281.01,433.80 L281.36,433.80 L281.71,433.80 L282.06,433.80 L282.42,433.80 L282.77,433.80 L283.12,433.80 L283.47,433.80 L283.82,433.80 L284.18,433.80 L284.53,433.80 L284.88,433.80 L285.23,433.80 L285.58,433.80 L285.94,433.80 L286.29,433.80 L286.64,433.80 L286.99,433.80 L287.34,433.80 L287.70,433.80 L288.05,433.80 L288.40,433.80 L288.75,433.80 L289.10,433.80 L289.46,433.80 L289.81,433.80 L290.16,433.80 L290.51,433.80 L290.86,433.80 L291.22,433.80 L291.57,433.80 L291.92,433.80 L292.27,433.80 L292.62,433.80 L292.98,433.80 L293.33,433.80 L293.68,433.80 L294.03,433.80 L294.38,433.80 L294.74,433.80 L295.09,433.80 L295.44,433.80 L295.79,433.80 L296.14,433.80 L296.50,433.80 L296.85,433.80 L297.20,433.80 L297.55,433.80 L297.90,433.80 L298.26,433.80 L298.61,433.80 L298.96,433.80 L299.31,433.80 L299.66,433.80 L300.02,433.80 L300.37,433.79 L300.72,433.79 L301.07,433.79 L301.42,433.79 L301.78,433.78 L302.13,433.78 L302.48,433.78 L302.83,433.77 L303.18,433.76 L303.54,433.75 L303.89,433.74 L304.24,433.73 L304.59,433.71 L304.94,433.70 L305.30,433.67 L305.65,433.64 L306.00,433.61 L306.35,433.57 L306.70,433.53 L307.06,433.47 L307.41,433.41 L307.76,433.33 L308.11,433.24 L308.46,433.14 L308.82,433.02 L309.17,432.88 L309.52,432.71 L309.87,432.53 L310.22,432.31 L310.58,432.07 L310.93,431.80 L311.28,431.48 L311.63,431.13 L311.98,430.73 L312.34,430.29 L312.69,429.80 L313.04,429.26 L313.39,428.67 L313.74,428.02 L314.10,427.31 L314.45,426.55 L314.80,425.73 L315.15,424.85 L315.50,423.92 L315.86,422.95 L316.21,421.94 L316.56,420.89 L316.91,419.82 L317.26,418.75 L317.62,417.68 L317.97,416.63 L318.32,415.63 L318.67,414.70 L319.02,413.87 L319.38,413.18 L319.73,412.68 L320.08,412.53 L320.43,412.98 L320.78,413.72 L321.14,414.66 L321.49,415.73 L321.84,416.89 L322.19,418.11 L322.54,419.34 L322.90,420.58 L323.25,421.79 L323.60,422.96 L323.95,424.08 L324.30,425.13 L324.66,426.12 L325.01,427.03 L325.36,427.86 L325.71,428.62 L326.06,429.31 L326.42,429.92 L326.77,430.47 L327.12,430.95 L327.47,431.38 L327.82,431.75 L328.18,432.07 L328.53,432.35 L328.88,432.59 L329.23,432.79 L329.58,432.96 L329.94,433.11 L330.29,433.23 L330.64,433.34 L330.99,433.42 L331.34,433.49 L331.70,433.55 L332.05,433.60 L332.40,433.64 L332.75,433.67 L333.10,433.70 L333.46,433.72 L333.81,433.74 L334.16,433.75 L334.51,433.76 L334.86,433.77 L335.22,433.78 L335.57,433.78 L335.92,433.79 L336.27,433.79 L336.62,433.79 L336.98,433.79 L337.33,433.79 L337.68,433.80 L338.03,433.80 L338.38,433.80 L338.74,433.80 L339.09,433.80 L339.44,433.80 L339.79,433.80 L340.14,433.80 L340.50,433.80 L340.85,433.80 L341.20,433.80 L341.55,433.80 L341.90,433.80 L342.26,433.80 L342.61,433.80 L342.96,433.80 L343.31,433.80 L343.66,433.80 L344.02,433.80 L344.37,433.80 L344.72,433.80 L345.07,433.80 L345.42,433.80 L345.78,433.80 L346.13,433.80 L346.48,433.80 L346.83,433.80 L347.18,433.80 L347.54,433.80 L347.89,433.80 L348.24,433.80 L348.59,433.80 L348.94,433.80 L349.30,433.80 L349.65,433.80 L350.00,433.80" stroke="#e04a2a" stroke-width="1.1" fill="none"/>
<path d="M279.60,455.60 L279.95,455.60 L280.30,455.60 L280.66,455.60 L281.01,455.60 L281.36,455.60 L281.71,455.60 L282.06,455.60 L282.42,455.60 L282.77,455.60 L283.12,455.60 L283.47,455.60 L283.82,455.60 L284.18,455.60 L284.53,455.60 L284.88,455.60 L285.23,455.60 L285.58,455.60 L285.94,455.60 L286.29,455.60 L286.64,455.60 L286.99,455.60 L287.34,455.60 L287.70,455.60 L288.05,455.60 L288.40,455.60 L288.75,455.60 L289.10,455.60 L289.46,455.60 L289.81,455.60 L290.16,455.60 L290.51,455.60 L290.86,455.60 L291.22,455.60 L291.57,455.60 L291.92,455.60 L292.27,455.60 L292.62,455.60 L292.98,455.60 L293.33,455.60 L293.68,455.60 L294.03,455.60 L294.38,455.60 L294.74,455.60 L295.09,455.60 L295.44,455.60 L295.79,455.60 L296.14,455.60 L296.50,455.60 L296.85,455.60 L297.20,455.60 L297.55,455.60 L297.90,455.60 L298.26,455.60 L298.61,455.59 L298.96,455.59 L299.31,455.59 L299.66,455.59 L300.02,455.59 L300.37,455.59 L300.72,455.58 L301.07,455.58 L301.42,455.57 L301.78,455.57 L302.13,455.56 L302.48,455.56 L302.83,455.55 L303.18,455.54 L303.54,455.53 L303.89,455.52 L304.24,455.50 L304.59,455.48 L304.94,455.46 L305.30,455.44 L305.65,455.41 L306.00,455.38 L306.35,455.34 L306.70,455.30 L307.06,455.25 L307.41,455.19 L307.76,455.13 L308.11,455.06 L308.46,454.97 L308.82,454.88 L309.17,454.77 L309.52,454.65 L309.87,454.52 L310.22,454.37 L310.58,454.20 L310.93,454.01 L311.28,453.80 L311.63,453.56 L311.98,453.30 L312.34,453.02 L312.69,452.70 L313.04,452.36 L313.39,451.98 L313.74,451.57 L314.10,451.13 L314.45,450.64 L314.80,450.12 L315.15,449.57 L315.50,448.97 L315.86,448.34 L316.21,447.66 L316.56,446.95 L316.91,446.21 L317.26,445.43 L317.62,444.62 L317.97,443.79 L318.32,442.94 L318.67,442.07 L319.02,441.19 L319.38,440.31 L319.73,439.44 L320.08,438.59 L320.43,437.78 L320.78,437.01 L321.14,436.30 L321.49,435.67 L321.84,435.15 L322.19,434.76 L322.54,434.61 L322.90,434.86 L323.25,435.30 L323.60,435.88 L323.95,436.56 L324.30,437.32 L324.66,438.14 L325.01,439.00 L325.36,439.89 L325.71,440.79 L326.06,441.70 L326.42,442.60 L326.77,443.49 L327.12,444.35 L327.47,445.20 L327.82,446.01 L328.18,446.79 L328.53,447.53 L328.88,448.23 L329.23,448.89 L329.58,449.51 L329.94,450.09 L330.29,450.63 L330.64,451.12 L330.99,451.58 L331.34,452.01 L331.70,452.39 L332.05,452.74 L332.40,453.07 L332.75,453.36 L333.10,453.62 L333.46,453.85 L333.81,454.06 L334.16,454.25 L334.51,454.42 L334.86,454.57 L335.22,454.71 L335.57,454.82 L335.92,454.93 L336.27,455.02 L336.62,455.10 L336.98,455.17 L337.33,455.23 L337.68,455.28 L338.03,455.33 L338.38,455.37 L338.74,455.40 L339.09,455.43 L339.44,455.46 L339.79,455.48 L340.14,455.50 L340.50,455.51 L340.85,455.53 L341.20,455.54 L341.55,455.55 L341.90,455.56 L342.26,455.56 L342.61,455.57 L342.96,455.58 L343.31,455.58 L343.66,455.58 L344.02,455.59 L344.37,455.59 L344.72,455.59 L345.07,455.59 L345.42,455.59 L345.78,455.59 L346.13,455.60 L346.48,455.60 L346.83,455.60 L347.18,455.60 L347.54,455.60 L347.89,455.60 L348.24,455.60 L348.59,455.60 L348.94,455.60 L349.30,455.60 L349.65,455.60 L350.00,455.60" stroke="#3048c8" stroke-width="1.1" fill="none"/>
<path d="M279.60,478.00 L279.89,478.00 L280.19,478.00 L280.48,478.00 L280.77,478.00 L281.07,478.00 L281.36,478.00 L281.65,478.00 L281.95,478.00 L282.24,478.00 L282.53,478.00 L282.83,478.00 L283.12,478.00 L283.41,478.00 L283.71,478.00 L284.00,478.00 L284.29,478.00 L284.59,478.00 L284.88,478.00 L285.17,478.00 L285.47,478.00 L285.76,478.00 L286.05,478.00 L286.35,478.00 L286.64,478.00 L286.93,478.00 L287.23,478.00 L287.52,478.00 L287.81,478.00 L288.11,478.00 L288.40,478.00 L288.69,478.00 L288.99,478.00 L289.28,478.00 L289.57,478.00 L289.87,478.00 L290.16,478.00 L290.45,478.00 L290.75,478.00 L291.04,478.00 L291.33,478.00 L291.63,478.00 L291.92,478.00 L292.21,478.00 L292.51,478.00 L292.80,478.00 L293.09,478.00 L293.39,478.00 L293.68,477.99 L293.97,477.99 L294.27,477.99 L294.56,477.99 L294.85,477.99 L295.15,477.99 L295.44,477.98 L295.73,477.98 L296.03,477.97 L296.32,477.97 L296.61,477.96 L296.91,477.96 L297.20,477.95 L297.49,477.94 L297.79,477.93 L298.08,477.92 L298.37,477.90 L298.67,477.89 L298.96,477.87 L299.25,477.85 L299.55,477.82 L299.84,477.80 L300.13,477.76 L300.43,477.73 L300.72,477.68 L301.01,477.64 L301.31,477.58 L301.60,477.52 L301.89,477.45 L302.19,477.38 L302.48,477.29 L302.77,477.20 L303.07,477.09 L303.36,476.97 L303.65,476.84 L303.95,476.70 L304.24,476.54 L304.53,476.36 L304.83,476.17 L305.12,475.96 L305.41,475.74 L305.71,475.49 L306.00,475.22 L306.29,474.93 L306.59,474.62 L306.88,474.28 L307.17,473.92 L307.47,473.54 L307.76,473.14 L308.05,472.71 L308.35,472.25 L308.64,471.77 L308.93,471.27 L309.23,470.75 L309.52,470.21 L309.81,469.65 L310.11,469.07 L310.40,468.47 L310.69,467.87 L310.99,467.25 L311.28,466.63 L311.57,466.00 L311.87,465.37 L312.16,464.75 L312.45,464.14 L312.75,463.54 L313.04,462.96 L313.33,462.40 L313.63,461.87 L313.92,461.38 L314.21,460.93 L314.51,460.52 L314.80,460.16 L315.09,459.86 L315.39,459.63 L315.68,459.47 L315.97,459.40 L316.27,459.20 L316.56,459.36 L316.85,459.53 L317.15,459.67 L317.44,459.76 L317.73,459.79 L318.03,459.76 L318.32,459.65 L318.61,459.50 L318.91,459.31 L319.20,459.11 L319.49,458.93 L319.79,458.80 L320.08,458.72 L320.37,458.71 L320.67,458.77 L320.96,458.89 L321.25,459.04 L321.55,459.21 L321.84,459.36 L322.13,459.48 L322.43,459.54 L322.72,459.54 L323.01,459.47 L323.31,459.33 L323.60,459.16 L323.89,458.96 L324.19,458.77 L324.48,458.62 L324.77,458.51 L325.07,458.47 L325.36,458.49 L325.65,458.58 L325.95,458.72 L326.24,458.89 L326.53,459.05 L326.83,459.19 L327.12,459.28 L327.41,459.31 L327.71,459.27 L328.00,459.16 L328.29,459.00 L328.59,458.82 L328.88,458.62 L329.17,458.44 L329.47,458.31 L329.76,458.24 L330.05,458.23 L330.35,458.29 L330.64,458.41 L330.93,458.57 L331.23,458.73 L331.52,458.89 L331.81,459.00 L332.11,458.61 L332.40,458.78 L332.69,459.12 L332.99,459.64 L333.28,460.32 L333.57,461.14 L333.87,462.08 L334.16,463.11 L334.45,464.21 L334.75,465.35 L335.04,466.51 L335.33,467.67 L335.63,468.80 L335.92,469.88 L336.21,470.91 L336.51,471.87 L336.80,472.75 L337.09,473.54 L337.39,474.26 L337.68,474.88 L337.97,475.43 L338.27,475.91 L338.56,476.31 L338.85,476.65 L339.15,476.93 L339.44,477.16 L339.73,477.35 L340.03,477.50 L340.32,477.62 L340.61,477.71 L340.91,477.78 L341.20,477.84 L341.49,477.88 L341.79,477.91 L342.08,477.94 L342.37,477.96 L342.67,477.97 L342.96,477.98 L343.25,477.99 L343.55,477.99 L343.84,477.99 L344.13,478.00 L344.43,478.00 L344.72,478.00 L345.01,478.00 L345.31,478.00 L345.60,478.00 L345.89,478.00 L346.19,478.00 L346.48,478.00 L346.77,478.00 L347.07,478.00 L347.36,478.00 L347.65,478.00 L347.95,478.00 L348.24,478.00 L348.53,478.00 L348.83,478.00 L349.12,478.00 L349.41,478.00 L349.71,478.00 L350.00,478.00" stroke="#20d420" stroke-width="1.1" fill="none"/>
<text x="121.6" y="493.6" font-size="8.9" font-weight="bold" text-anchor="start" fill="#000">p-ERK1/2</text>
<line x1="164.7" y1="489.3" x2="348" y2="489.3" stroke="#000" stroke-width="1"/>
<path d="M353.40,489.30 L345.60,485.70 L347.32,489.30 L345.60,492.90 Z" fill="#000"/>
<text x="371.5" y="421" font-size="8.7" font-weight="bold" text-anchor="middle" fill="#000">ng/ml</text>
<line x1="353.8" y1="426.4" x2="387.3" y2="426.4" stroke="#000" stroke-width="1.1"/>
<rect x="358.8" y="432.5" width="10.2" height="9.2" fill="#ff2010" stroke="#000" stroke-width="1"/>
<text x="374" y="440.3" font-size="8.9" font-weight="bold" text-anchor="start" fill="#000">0</text>
<rect x="358.8" y="447.8" width="10.2" height="9.2" fill="#1030ff" stroke="#000" stroke-width="1"/>
<text x="374" y="455.6" font-size="8.9" font-weight="bold" text-anchor="start" fill="#000">0.16</text>
<rect x="358.8" y="463.0" width="10.2" height="9.2" fill="#10ee10" stroke="#000" stroke-width="1"/>
<text x="374" y="470.8" font-size="8.9" font-weight="bold" text-anchor="start" fill="#000">2</text>
<line x1="425" y1="401.2" x2="425" y2="489.7" stroke="#000" stroke-width="1.9"/>
<line x1="424.1" y1="488.8" x2="520" y2="488.8" stroke="#000" stroke-width="1.8"/>
<line x1="422.6" y1="488.8" x2="425" y2="488.8" stroke="#000" stroke-width="1.2"/>
<text x="420.8" y="490.90000000000003" font-size="9" font-weight="bold" text-anchor="end" fill="#000">0</text>
<line x1="422.6" y1="459.86" x2="425" y2="459.86" stroke="#000" stroke-width="1.2"/>
<text x="420.8" y="461.96000000000004" font-size="9" font-weight="bold" text-anchor="end" fill="#000">2</text>
<line x1="422.6" y1="430.92" x2="425" y2="430.92" stroke="#000" stroke-width="1.2"/>
<text x="420.8" y="433.02000000000004" font-size="9" font-weight="bold" text-anchor="end" fill="#000">4</text>
<line x1="422.6" y1="401.98" x2="425" y2="401.98" stroke="#000" stroke-width="1.2"/>
<text x="420.8" y="404.08000000000004" font-size="9" font-weight="bold" text-anchor="end" fill="#000">6</text>
<line x1="440.8" y1="488.8" x2="440.8" y2="490.8" stroke="#000" stroke-width="1"/>
<text x="440.8" y="500" font-size="9" font-weight="bold" text-anchor="middle" fill="#000">0</text>
<line x1="471.7" y1="488.8" x2="471.7" y2="490.8" stroke="#000" stroke-width="1"/>
<text x="473.5" y="500" font-size="9" font-weight="bold" text-anchor="middle" fill="#000">0.16</text>
<line x1="503" y1="488.8" x2="503" y2="490.8" stroke="#000" stroke-width="1"/>
<text x="503" y="500" font-size="9" font-weight="bold" text-anchor="middle" fill="#000">2</text>
<text x="474.5" y="509.2" font-size="7.1" font-weight="bold" text-anchor="middle" fill="#000">GM-CSF(ng/ml)</text>
<text x="410.3" y="439.8" font-size="7.0" font-weight="bold" text-anchor="middle" fill="#000" transform="rotate(-90 410.3 439.8)">Folds over unstimulated control</text>
<line x1="440.8" y1="473.8959" x2="440.8" y2="475.3429" stroke="#111" stroke-width="1"/>
<line x1="439.0" y1="473.8959" x2="442.6" y2="473.8959" stroke="#111" stroke-width="1"/>
<line x1="439.0" y1="475.3429" x2="442.6" y2="475.3429" stroke="#111" stroke-width="1"/>
<line x1="471.7" y1="465.3586" x2="471.7" y2="468.25260000000003" stroke="#111" stroke-width="1"/>
<line x1="469.9" y1="465.3586" x2="473.5" y2="465.3586" stroke="#111" stroke-width="1"/>
<line x1="469.9" y1="468.25260000000003" x2="473.5" y2="468.25260000000003" stroke="#111" stroke-width="1"/>
<line x1="503" y1="435.261" x2="503" y2="449.731" stroke="#111" stroke-width="1"/>
<line x1="501.2" y1="435.261" x2="504.8" y2="435.261" stroke="#111" stroke-width="1"/>
<line x1="501.2" y1="449.731" x2="504.8" y2="449.731" stroke="#111" stroke-width="1"/>
<path d="M440.80,474.62 L471.70,466.81 L503.00,442.50" stroke="#111" stroke-width="2.0" fill="none"/>
<circle cx="440.8" cy="474.62" r="2" fill="none" stroke="#111" stroke-width="1.2"/>
<circle cx="471.7" cy="466.81" r="2" fill="none" stroke="#111" stroke-width="1.2"/>
<circle cx="503" cy="442.50" r="2" fill="none" stroke="#111" stroke-width="1.2"/>
<line x1="440.8" y1="473.3171" x2="440.8" y2="474.7641" stroke="#0202ea" stroke-width="1"/>
<line x1="439.0" y1="473.3171" x2="442.6" y2="473.3171" stroke="#0202ea" stroke-width="1"/>
<line x1="439.0" y1="474.7641" x2="442.6" y2="474.7641" stroke="#0202ea" stroke-width="1"/>
<line x1="471.7" y1="462.0305" x2="471.7" y2="464.9245" stroke="#0202ea" stroke-width="1"/>
<line x1="469.9" y1="462.0305" x2="473.5" y2="462.0305" stroke="#0202ea" stroke-width="1"/>
<line x1="469.9" y1="464.9245" x2="473.5" y2="464.9245" stroke="#0202ea" stroke-width="1"/>
<line x1="503" y1="425.132" x2="503" y2="433.814" stroke="#0202ea" stroke-width="1"/>
<line x1="501.2" y1="425.132" x2="504.8" y2="425.132" stroke="#0202ea" stroke-width="1"/>
<line x1="501.2" y1="433.814" x2="504.8" y2="433.814" stroke="#0202ea" stroke-width="1"/>
<path d="M440.80,474.04 L471.70,463.48 L503.00,429.47" stroke="#0202ea" stroke-width="2.0" fill="none"/>
<circle cx="440.8" cy="474.04" r="2" fill="none" stroke="#0202ea" stroke-width="1.2"/>
<circle cx="471.7" cy="463.48" r="2" fill="none" stroke="#0202ea" stroke-width="1.2"/>
<circle cx="503" cy="429.47" r="2" fill="none" stroke="#0202ea" stroke-width="1.2"/>
<line x1="440.8" y1="467.81850000000003" x2="440.8" y2="470.71250000000003" stroke="#fc0212" stroke-width="1"/>
<line x1="439.0" y1="467.81850000000003" x2="442.6" y2="467.81850000000003" stroke="#fc0212" stroke-width="1"/>
<line x1="439.0" y1="470.71250000000003" x2="442.6" y2="470.71250000000003" stroke="#fc0212" stroke-width="1"/>
<line x1="471.7" y1="443.21950000000004" x2="471.7" y2="453.3485" stroke="#fc0212" stroke-width="1"/>
<line x1="469.9" y1="443.21950000000004" x2="473.5" y2="443.21950000000004" stroke="#fc0212" stroke-width="1"/>
<line x1="469.9" y1="453.3485" x2="473.5" y2="453.3485" stroke="#fc0212" stroke-width="1"/>
<line x1="503" y1="409.9385" x2="503" y2="435.9845" stroke="#fc0212" stroke-width="1"/>
<line x1="501.2" y1="409.9385" x2="504.8" y2="409.9385" stroke="#fc0212" stroke-width="1"/>
<line x1="501.2" y1="435.9845" x2="504.8" y2="435.9845" stroke="#fc0212" stroke-width="1"/>
<path d="M440.80,469.27 L471.70,448.28 L503.00,422.96" stroke="#fc0212" stroke-width="2.0" fill="none"/>
<circle cx="440.8" cy="469.27" r="2" fill="none" stroke="#fc0212" stroke-width="1.2"/>
<circle cx="471.7" cy="448.28" r="2" fill="none" stroke="#fc0212" stroke-width="1.2"/>
<circle cx="503" cy="422.96" r="2" fill="none" stroke="#fc0212" stroke-width="1.2"/>
<text x="470.5" y="441.8" font-size="8" font-weight="bold" text-anchor="middle" fill="#000">*</text>
<line x1="440.6" y1="408.5" x2="448" y2="408.5" stroke="#fc0212" stroke-width="1.4"/>
<path d="M444.3,406.3 L446.5,408.5 L444.3,410.7 L442.1,408.5 Z" fill="#fc0212"/>
<text x="451" y="411.5" font-size="8.5" text-anchor="start" fill="#000">NrasG12D/G12D</text>
<line x1="440.6" y1="417.5" x2="448" y2="417.5" stroke="#0202ea" stroke-width="1.4"/>
<path d="M444.3,415.3 L446.5,417.5 L444.3,419.7 L442.1,417.5 Z" fill="#0202ea"/>
<text x="451" y="420.5" font-size="8.5" text-anchor="start" fill="#000">NrasG12D/+</text>
<line x1="440.6" y1="426.7" x2="448" y2="426.7" stroke="#111" stroke-width="1.4"/>
<path d="M444.3,424.5 L446.5,426.7 L444.3,428.9 L442.1,426.7 Z" fill="#111"/>
<text x="451" y="429.7" font-size="8.5" text-anchor="start" fill="#000">Control</text>
</svg></body></html>
